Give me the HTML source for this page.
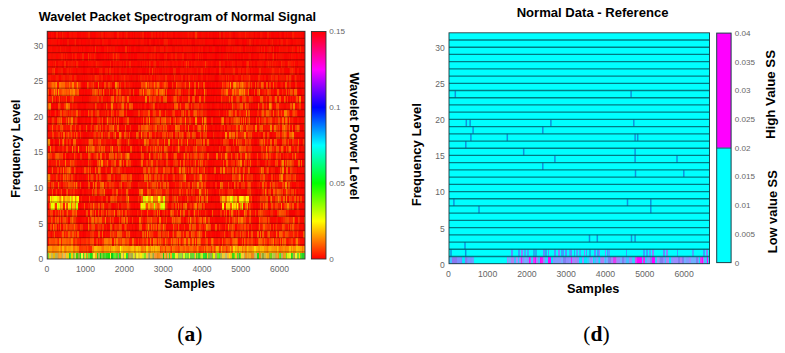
<!DOCTYPE html>
<html><head><meta charset="utf-8"><style>
html,body{margin:0;padding:0;background:#fff;width:785px;height:353px;overflow:hidden;position:relative}
#L{position:absolute;left:47.2px;top:31.3px;width:258px;height:227.70px;overflow:hidden;filter:blur(.55px)}
.r{position:absolute;left:0;width:258px;height:7.916px}
.q{position:absolute;left:449.0px;width:260px;height:8.016px}
#rb{position:absolute;left:449.0px;top:32.8px;width:260.5px;height:230.90px;background:#00ffff}
svg{position:absolute;left:0;top:0}
text{font-family:"Liberation Sans",sans-serif}
.cap{font-family:"Liberation Serif",serif}
</style></head><body>
<div id="rb"></div>
<div id="L"><div class="r" style="top:220.58px;background:linear-gradient(90deg,#c3c450 0.5px,#7ad032 1.5px,#f5ca22 2.5px,#f5ca22 3.5px,#c5b853 4.5px,#c5b853 5.5px,#ecb903 6.5px,#ecb903 7.5px,#b5b251 8.5px,#b5b251 9.5px,#c4aa4b 10.5px,#e9972c 11.5px,#ffa221 12.5px,#ffa221 13.5px,#eaa227 14.5px,#c1b854 15.5px,#ffb63c 16.5px,#ffb63c 17.5px,#c4b96a 18.5px,#fec815 19.5px,#e8d311 20.5px,#e8d311 21.5px,#28cd2a 22.5px,#3aed38 23.5px,#f5cf05 24.5px,#f5cf05 25.5px,#7fce2d 26.5px,#b5b75b 27.5px,#d8e637 28.5px,#41d00d 29.5px,#41d00d 30.5px,#9ab237 31.5px,#9ab237 32.5px,#1fe419 33.5px,#f3f53c 34.5px,#f3f53c 35.5px,#41df27 36.5px,#ecb130 37.5px,#ddec1b 38.5px,#6dd732 39.5px,#e9a70b 40.5px,#73e22e 41.5px,#73e22e 42.5px,#15e318 43.5px,#15e318 44.5px,#63d21a 45.5px,#f2f334 46.5px,#f2f334 47.5px,#faaf14 48.5px,#faaf14 49.5px,#2dda0d 50.5px,#b1b846 51.5px,#b1b846 52.5px,#0fd016 53.5px,#76d632 54.5px,#76d632 55.5px,#45cf11 56.5px,#4ad231 57.5px,#4fde32 58.5px,#30d719 59.5px,#30d719 60.5px,#1be10c 61.5px,#1be10c 62.5px,#f9fa22 63.5px,#0dcf13 64.5px,#0dcf13 65.5px,#35eb3e 66.5px,#68ee24 67.5px,#68ee24 68.5px,#51d822 69.5px,#51d822 70.5px,#b2a053 71.5px,#1aee21 72.5px,#4ecf10 73.5px,#f6e23a 74.5px,#f6e23a 75.5px,#b4b45a 76.5px,#edfd05 77.5px,#edfd05 78.5px,#26e42e 79.5px,#26e42e 80.5px,#ab9036 81.5px,#bfb046 82.5px,#bfb046 83.5px,#a9ac4e 84.5px,#a9ac4e 85.5px,#d0f11b 86.5px,#e8c62f 87.5px,#ada63c 88.5px,#efe61c 89.5px,#eff728 90.5px,#ecd02b 91.5px,#ecd02b 92.5px,#fee70c 93.5px,#fee70c 94.5px,#caf420 95.5px,#c4f11c 96.5px,#80e621 97.5px,#80e621 98.5px,#f4c435 99.5px,#f4c435 100.5px,#beac5d 101.5px,#9cb058 102.5px,#eebd2b 103.5px,#eebd2b 104.5px,#c1b03c 105.5px,#95a942 106.5px,#ee9e3a 107.5px,#fb942c 108.5px,#fb942c 109.5px,#eb8d0b 110.5px,#f58c17 111.5px,#fd8f1a 112.5px,#e7a637 113.5px,#e8af33 114.5px,#e8af33 115.5px,#15cd1c 116.5px,#e7b734 117.5px,#e7b734 118.5px,#eb9302 119.5px,#b3c166 120.5px,#fcb228 121.5px,#43da25 122.5px,#fcae10 123.5px,#fcae10 124.5px,#38e941 125.5px,#34eb1f 126.5px,#4af00e 127.5px,#f2e635 128.5px,#f2e635 129.5px,#f5e70e 130.5px,#aab94a 131.5px,#93e137 132.5px,#93e137 133.5px,#8fe436 134.5px,#a4af4d 135.5px,#e4f91d 136.5px,#e4f91d 137.5px,#6ed62a 138.5px,#82ee34 139.5px,#77e02d 140.5px,#77e02d 141.5px,#f1fa21 142.5px,#6fd330 143.5px,#6fd330 144.5px,#5ce331 145.5px,#5ce331 146.5px,#aeb459 147.5px,#fdd811 148.5px,#57cf1a 149.5px,#8edb32 150.5px,#3fd625 151.5px,#3fd625 152.5px,#8dee18 153.5px,#caeb25 154.5px,#caeb25 155.5px,#27eb2a 156.5px,#27eb2a 157.5px,#39ce2e 158.5px,#39ce2e 159.5px,#efd117 160.5px,#7acf2d 161.5px,#7acf2d 162.5px,#97ab55 163.5px,#97ab55 164.5px,#7edb0e 165.5px,#eaf509 166.5px,#eaf509 167.5px,#b5a75a 168.5px,#b5a75a 169.5px,#79eb0d 170.5px,#79eb0d 171.5px,#47ec39 172.5px,#a9bf44 173.5px,#aeb750 174.5px,#f5d022 175.5px,#efca38 176.5px,#efca38 177.5px,#bebe67 178.5px,#b8c367 179.5px,#f5b839 180.5px,#f5b839 181.5px,#fde703 182.5px,#f5cc0a 183.5px,#e9c60b 184.5px,#3ed51b 185.5px,#3ed51b 186.5px,#75e60e 187.5px,#f6c81d 188.5px,#f6c81d 189.5px,#4dee1b 190.5px,#b0aa3e 191.5px,#2fd322 192.5px,#62ed0d 193.5px,#f5d22c 194.5px,#f6cd30 195.5px,#f6cd30 196.5px,#bab04e 197.5px,#f28f17 198.5px,#f28f17 199.5px,#e7b520 200.5px,#e6a02a 201.5px,#f3b118 202.5px,#f3b118 203.5px,#f0831c 204.5px,#f0831c 205.5px,#f68918 206.5px,#b8be51 207.5px,#c8bf6b 208.5px,#c8bf6b 209.5px,#1ade16 210.5px,#1ade16 211.5px,#e98e15 212.5px,#e98e15 213.5px,#c1c456 214.5px,#91a937 215.5px,#91a937 216.5px,#cab949 217.5px,#cab949 218.5px,#fbbd27 219.5px,#f1b609 220.5px,#f1b609 221.5px,#a99a43 222.5px,#76d90e 223.5px,#72ce19 224.5px,#c0c55a 225.5px,#b1ca41 226.5px,#b1ca41 227.5px,#c9a83f 228.5px,#e89d34 229.5px,#fda229 230.5px,#f29102 231.5px,#62ea26 232.5px,#45ec19 233.5px,#c3ab61 234.5px,#c3ab61 235.5px,#ea9f0c 236.5px,#eaa519 237.5px,#eaa519 238.5px,#76e90f 239.5px,#deef16 240.5px,#deef16 241.5px,#e9f624 242.5px,#e9f624 243.5px,#21db24 244.5px,#3fe319 245.5px,#bfa941 246.5px,#9dab45 247.5px,#f9f12e 248.5px,#f9f12e 249.5px,#76e029 250.5px,#76e029 251.5px,#ffdb03 252.5px,#55ea0c 253.5px,#4ad430 254.5px,#25d523 255.5px,#25d523 256.5px,#4ae827 257.5px)"></div><div class="r" style="top:213.47px;background:linear-gradient(90deg,#ff9000 0.5px,#ff9000 1.5px,#ff9400 2.5px,#ff9600 3.5px,#ff9600 4.5px,#ff7b00 5.5px,#ff7b00 6.5px,#ff8400 7.5px,#ff8400 8.5px,#ff8500 9.5px,#ff8b00 10.5px,#ff8b00 11.5px,#ffad00 12.5px,#ff8d00 13.5px,#ff7100 14.5px,#ffb500 15.5px,#ffb500 16.5px,#ff8400 17.5px,#ff7600 18.5px,#ff9100 19.5px,#ffa500 20.5px,#ff9500 21.5px,#ff9500 22.5px,#ff9a00 23.5px,#fa0 24.5px,#fa0 25.5px,#ff7200 26.5px,#ff7200 27.5px,#ff8e00 28.5px,#ff9300 29.5px,#ff7d00 30.5px,#ff7d00 31.5px,#ff3a00 32.5px,#ff3500 33.5px,#ff3b00 34.5px,#ff3b00 35.5px,#ff4300 36.5px,#ff4300 37.5px,#ff4300 38.5px,#ff3100 39.5px,#ff5000 40.5px,#ff3400 41.5px,#ff2600 42.5px,#ff2900 43.5px,#ff2900 44.5px,#ff8200 45.5px,#ff8200 46.5px,#ffb700 47.5px,#ffb700 48.5px,#ffb800 49.5px,#ffa900 50.5px,#ffa100 51.5px,#ffa100 52.5px,#ff9f00 53.5px,#ff8900 54.5px,#f70 55.5px,#f70 56.5px,#ff9b00 57.5px,#ff9b00 58.5px,#ff9500 59.5px,#ff9500 60.5px,#ff9100 61.5px,#ffa800 62.5px,#ff7e00 63.5px,#ffab00 64.5px,#ffa700 65.5px,#ffb900 66.5px,#ffb900 67.5px,#ff9f00 68.5px,#ff9b00 69.5px,#ff9000 70.5px,#ff8f00 71.5px,#ff8f00 72.5px,#fffc00 73.5px,#ffc100 74.5px,#ffc100 75.5px,#ffa300 76.5px,#ffab00 77.5px,#ffab00 78.5px,#ffa700 79.5px,#ffa700 80.5px,#ff9a00 81.5px,#ff9a00 82.5px,#ffa800 83.5px,#fb0 84.5px,#ffbf00 85.5px,#ffbf00 86.5px,#ff9400 87.5px,#ff9d00 88.5px,#ffc400 89.5px,#ffc400 90.5px,#ffa400 91.5px,#fb0 92.5px,#ffa800 93.5px,#ff7600 94.5px,#ff7600 95.5px,#ff8200 96.5px,#ff8e00 97.5px,#ff7200 98.5px,#ffc500 99.5px,#ffc500 100.5px,#ff9400 101.5px,#ff8900 102.5px,#ff8900 103.5px,#ffbc00 104.5px,#ffa200 105.5px,#ffb800 106.5px,#ff9300 107.5px,#ffb700 108.5px,#ffb700 109.5px,#ffa700 110.5px,#ffa500 111.5px,#ffa500 112.5px,#ff4200 113.5px,#ff5f00 114.5px,#ff5d00 115.5px,#ff7100 116.5px,#ff7100 117.5px,#ff3500 118.5px,#ff7500 119.5px,#ff7500 120.5px,#ff7000 121.5px,#ff7000 122.5px,#ff5000 123.5px,#ff2f00 124.5px,#ff7800 125.5px,#ff6800 126.5px,#ff6800 127.5px,#ff5200 128.5px,#ff5100 129.5px,#ff5100 130.5px,#ff3800 131.5px,#ff4600 132.5px,#ff7100 133.5px,#ff6d00 134.5px,#ff6800 135.5px,#ff5600 136.5px,#ff5600 137.5px,#ff7300 138.5px,#ff5900 139.5px,#ff5900 140.5px,#ff4d00 141.5px,#ff6b00 142.5px,#ff6b00 143.5px,#ff7100 144.5px,#ff7100 145.5px,#ff5600 146.5px,#ff4d00 147.5px,#ff4d00 148.5px,#ff5800 149.5px,#ff8500 150.5px,#ff6100 151.5px,#ff3600 152.5px,#ff3600 153.5px,#ff4100 154.5px,#ff4700 155.5px,#ff3700 156.5px,#ff6f00 157.5px,#ff3700 158.5px,#ff6d00 159.5px,#ff7400 160.5px,#ff5b00 161.5px,#ff5b00 162.5px,#ff5d00 163.5px,#ff2f00 164.5px,#ff6e00 165.5px,#ff6e00 166.5px,#ff3f00 167.5px,#ff6100 168.5px,#ffa500 169.5px,#ffa500 170.5px,#ff9600 171.5px,#ff3f00 172.5px,#ff4100 173.5px,#ff9e00 174.5px,#ff5a00 175.5px,#ff5a00 176.5px,#ff6700 177.5px,#ff6700 178.5px,#ff3500 179.5px,#ff5100 180.5px,#ff6500 181.5px,#ff6500 182.5px,#ffa600 183.5px,#ff6b00 184.5px,#ff6b00 185.5px,#ffd500 186.5px,#ffd500 187.5px,#ffa100 188.5px,#ffb800 189.5px,#ff9a00 190.5px,#ff8a00 191.5px,#ffb900 192.5px,#ffa700 193.5px,#ffb400 194.5px,#ff7300 195.5px,#ff9700 196.5px,#ff9700 197.5px,#ff7200 198.5px,#ff8000 199.5px,#ffb900 200.5px,#ff9d00 201.5px,#ff9000 202.5px,#ff9000 203.5px,#ff9200 204.5px,#ffa300 205.5px,#ffa300 206.5px,#ffda00 207.5px,#ffda00 208.5px,#ffb000 209.5px,#ffb000 210.5px,#ff9d00 211.5px,#ff9d00 212.5px,#ffba00 213.5px,#ffb200 214.5px,#ffb800 215.5px,#ffb800 216.5px,#ff9600 217.5px,#ff9600 218.5px,#ff8e00 219.5px,#ff7a00 220.5px,#ff9e00 221.5px,#ffaf00 222.5px,#ffaf00 223.5px,#ffa100 224.5px,#ff9800 225.5px,#ff9800 226.5px,#ff9100 227.5px,#ff9100 228.5px,#ff8400 229.5px,#ffbc00 230.5px,#ff9c00 231.5px,#ff7500 232.5px,#ff7500 233.5px,#ff8200 234.5px,#ff8200 235.5px,#ff9100 236.5px,#ff9100 237.5px,#ff7b00 238.5px,#ff8400 239.5px,#ff8400 240.5px,#ff8700 241.5px,#ffbc00 242.5px,#ffbc00 243.5px,#ff8600 244.5px,#ffac00 245.5px,#f80 246.5px,#ff9000 247.5px,#ff9000 248.5px,#ffbe00 249.5px,#ffbe00 250.5px,#ffb000 251.5px,#ffb000 252.5px,#ffa000 253.5px,#ffa000 254.5px,#ff7300 255.5px,#ff9500 256.5px,#ff9500 257.5px)"></div><div class="r" style="top:206.35px;background:linear-gradient(90deg,#ff1200 0.5px,#ff1200 1.5px,#ff5100 2.5px,#ff5100 3.5px,#ff4900 4.5px,#ff4900 5.5px,#ff4600 6.5px,#ff4600 7.5px,#ff5800 8.5px,#ff5800 9.5px,#ff3e00 10.5px,#ff2500 11.5px,#ff7800 12.5px,#f70 13.5px,#ff1b00 14.5px,#ff6500 15.5px,#ff6500 16.5px,#ff6400 17.5px,#ff6400 18.5px,#ff5700 19.5px,#ff5700 20.5px,#ff6200 21.5px,#ff4e00 22.5px,#ff4e00 23.5px,#ff7f00 24.5px,#ff7f00 25.5px,#ff3200 26.5px,#ff2500 27.5px,#f40 28.5px,#f40 29.5px,#ff2700 30.5px,#ff2400 31.5px,#ff2400 32.5px,#ff0f00 33.5px,#ff2a00 34.5px,#ff2a00 35.5px,#ff2b00 36.5px,#ff2500 37.5px,#ff2500 38.5px,#ff3900 39.5px,#ff3900 40.5px,#ff2700 41.5px,#ff2700 42.5px,#ff4d00 43.5px,#ff4d00 44.5px,#ff5600 45.5px,#ff5700 46.5px,#ff0b00 47.5px,#ff0b00 48.5px,#ff3700 49.5px,#ff4100 50.5px,#ff0b00 51.5px,#ff2f00 52.5px,#ff1700 53.5px,#ff1700 54.5px,#ff3800 55.5px,#ff3800 56.5px,#f70 57.5px,#f70 58.5px,#ff7c00 59.5px,#ff7c00 60.5px,#ff6400 61.5px,#ff6400 62.5px,#ff7500 63.5px,#ff7500 64.5px,#ff0b00 65.5px,#ff0b00 66.5px,#ff7d00 67.5px,#ff4700 68.5px,#ff7c00 69.5px,#ff7c00 70.5px,#ff3f00 71.5px,#ff3f00 72.5px,#ff5000 73.5px,#ff3800 74.5px,#ff7100 75.5px,#ff6e00 76.5px,#ff6800 77.5px,#f40 78.5px,#f40 79.5px,#ff5100 80.5px,#ff5100 81.5px,#ff1d00 82.5px,#f10 83.5px,#f10 84.5px,#ff6a00 85.5px,#ff6a00 86.5px,#f20 87.5px,#f20 88.5px,#ff0d00 89.5px,#ff0d00 90.5px,#ff3a00 91.5px,#ff0c00 92.5px,#f20 93.5px,#f20 94.5px,#ff3e00 95.5px,#ff4900 96.5px,#ff2600 97.5px,#ff2600 98.5px,#ff4a00 99.5px,#f60 100.5px,#ff1400 101.5px,#ff1400 102.5px,#ff7800 103.5px,#ff2e00 104.5px,#ff0e00 105.5px,#ff7b00 106.5px,#ff6700 107.5px,#ff6700 108.5px,#ff5b00 109.5px,#ff1f00 110.5px,#f60 111.5px,#ff4600 112.5px,#f60 113.5px,#ff3d00 114.5px,#ff3d00 115.5px,#ff1700 116.5px,#ff1700 117.5px,#ff7100 118.5px,#ff3c00 119.5px,#ff3c00 120.5px,#ff1900 121.5px,#ff1900 122.5px,#ff2400 123.5px,#ff6d00 124.5px,#ff3000 125.5px,#ff6100 126.5px,#ff6300 127.5px,#ff6500 128.5px,#f40 129.5px,#ff6000 130.5px,#ff0e00 131.5px,#ff6c00 132.5px,#ff4900 133.5px,#ff1300 134.5px,#ff3400 135.5px,#ff4300 136.5px,#ff7f00 137.5px,#ff7f00 138.5px,#ff2a00 139.5px,#ff2a00 140.5px,#ff7c00 141.5px,#ff7c00 142.5px,#ff2b00 143.5px,#ff2b00 144.5px,#ff7a00 145.5px,#ff6a00 146.5px,#ff1300 147.5px,#f70 148.5px,#ff1300 149.5px,#ff7100 150.5px,#ff7100 151.5px,#ff7900 152.5px,#ff5b00 153.5px,#ff1900 154.5px,#ff1900 155.5px,#ff1d00 156.5px,#ff1d00 157.5px,#ff3600 158.5px,#ff5000 159.5px,#ff5000 160.5px,#ff0a00 161.5px,#ff1700 162.5px,#ff1700 163.5px,#ff6700 164.5px,#ff7c00 165.5px,#f40 166.5px,#ff1c00 167.5px,#ff1c00 168.5px,#ff1800 169.5px,#ff1800 170.5px,#ff2a00 171.5px,#ff2a00 172.5px,#ff0b00 173.5px,#ff0b00 174.5px,#ff5b00 175.5px,#ff1300 176.5px,#ff2500 177.5px,#ff3200 178.5px,#ff4e00 179.5px,#ff4e00 180.5px,#ff4100 181.5px,#ff4100 182.5px,#ff1b00 183.5px,#ff1f00 184.5px,#ff5400 185.5px,#f60 186.5px,#f60 187.5px,#ff7300 188.5px,#ff7300 189.5px,#f50 190.5px,#ff0c00 191.5px,#ff0c00 192.5px,#ff1600 193.5px,#ff1600 194.5px,#ff5300 195.5px,#ff0a00 196.5px,#f60 197.5px,#ff3600 198.5px,#ff1c00 199.5px,#ff4800 200.5px,#ff4a00 201.5px,#ff2e00 202.5px,#ff2e00 203.5px,#ff4600 204.5px,#ff4600 205.5px,#ff1f00 206.5px,#ff1f00 207.5px,#ff0900 208.5px,#ff1900 209.5px,#ff1900 210.5px,#ff5a00 211.5px,#ff7200 212.5px,#ff6500 213.5px,#ff6500 214.5px,#ff4800 215.5px,#ff2d00 216.5px,#ff6100 217.5px,#ff3800 218.5px,#ff3800 219.5px,#ff1d00 220.5px,#ff1d00 221.5px,#ff4500 222.5px,#ff3900 223.5px,#ff5200 224.5px,#ff5400 225.5px,#ff7e00 226.5px,#ff0d00 227.5px,#ff4100 228.5px,#ff4100 229.5px,#ff3600 230.5px,#ff3600 231.5px,#ff0c00 232.5px,#ff6000 233.5px,#f10 234.5px,#ff6b00 235.5px,#ff4800 236.5px,#f60 237.5px,#f60 238.5px,#ff1a00 239.5px,#ff0e00 240.5px,#ff1800 241.5px,#ff2800 242.5px,#ff2800 243.5px,#ff4500 244.5px,#ff4500 245.5px,#ff1400 246.5px,#ff1400 247.5px,#ff3a00 248.5px,#ff7d00 249.5px,#ff7d00 250.5px,#ff2500 251.5px,#ff2500 252.5px,#f10 253.5px,#f10 254.5px,#ff0f00 255.5px,#ff0c00 256.5px,#ff0c00 257.5px)"></div><div class="r" style="top:199.24px;background:linear-gradient(90deg,#fd0300 0.5px,#fb1c00 1.5px,#fb1c00 2.5px,#f91400 3.5px,#fb0300 4.5px,#f51b00 5.5px,#f51b00 6.5px,#f85100 7.5px,#f80b00 8.5px,#fb1400 9.5px,#f50e00 10.5px,#f81100 11.5px,#fd1400 12.5px,#fd1400 13.5px,#fe1f00 14.5px,#f95f00 15.5px,#f95f00 16.5px,#fa1800 17.5px,#fd3900 18.5px,#fd2300 19.5px,#fd2300 20.5px,#f95d00 21.5px,#f95d00 22.5px,#f93700 23.5px,#fe2c00 24.5px,#f75b00 25.5px,#f75b00 26.5px,#fe2b00 27.5px,#f84200 28.5px,#fc1300 29.5px,#fc5700 30.5px,#fc5700 31.5px,#fc0b00 32.5px,#fa0200 33.5px,#fa0a00 34.5px,#ff0100 35.5px,#f50100 36.5px,#f80400 37.5px,#f80400 38.5px,#ff0b00 39.5px,#f91000 40.5px,#f70f00 41.5px,#f70f00 42.5px,#f62e00 43.5px,#f62e00 44.5px,#fb3700 45.5px,#fb3700 46.5px,#fb0f00 47.5px,#fb0f00 48.5px,#fb0700 49.5px,#fb0700 50.5px,#f65700 51.5px,#f65700 52.5px,#fd0800 53.5px,#fd0800 54.5px,#fa5f00 55.5px,#fc0500 56.5px,#fc0500 57.5px,#f51900 58.5px,#fc0c00 59.5px,#fc0c00 60.5px,#f90f00 61.5px,#f90f00 62.5px,#f75100 63.5px,#f93100 64.5px,#f93100 65.5px,#f84800 66.5px,#fb2800 67.5px,#fb2800 68.5px,#f91300 69.5px,#f96200 70.5px,#f75e00 71.5px,#f75e00 72.5px,#f95300 73.5px,#f95300 74.5px,#f61900 75.5px,#f61900 76.5px,#fa0d00 77.5px,#fa0d00 78.5px,#fc4f00 79.5px,#f93b00 80.5px,#f93b00 81.5px,#fb5400 82.5px,#fc0b00 83.5px,#f80900 84.5px,#f80900 85.5px,#f80400 86.5px,#f80a00 87.5px,#f70400 88.5px,#fc0a00 89.5px,#fa0e00 90.5px,#f51100 91.5px,#f91000 92.5px,#f60400 93.5px,#f60400 94.5px,#f65100 95.5px,#f65800 96.5px,#f72400 97.5px,#f65d00 98.5px,#fb0a00 99.5px,#f77e00 100.5px,#f71500 101.5px,#f65700 102.5px,#fc3900 103.5px,#fb3600 104.5px,#fb3600 105.5px,#fe1900 106.5px,#fe0b00 107.5px,#fe0b00 108.5px,#fc0800 109.5px,#f91800 110.5px,#f94800 111.5px,#f94800 112.5px,#f85200 113.5px,#f61000 114.5px,#f73600 115.5px,#f73b00 116.5px,#f73b00 117.5px,#f62700 118.5px,#fc3100 119.5px,#fb2900 120.5px,#fc5600 121.5px,#fd0300 122.5px,#fe0700 123.5px,#fd0100 124.5px,#f72a00 125.5px,#f55a00 126.5px,#f71500 127.5px,#f71500 128.5px,#f63800 129.5px,#fe6100 130.5px,#fe6100 131.5px,#fd5900 132.5px,#fd5900 133.5px,#f61d00 134.5px,#f61d00 135.5px,#fe4800 136.5px,#fd0c00 137.5px,#fd0c00 138.5px,#f85800 139.5px,#ff4b00 140.5px,#ff4b00 141.5px,#f70a00 142.5px,#f70a00 143.5px,#f76200 144.5px,#f94b00 145.5px,#f94b00 146.5px,#fd3900 147.5px,#fb1900 148.5px,#fb1900 149.5px,#fc4700 150.5px,#f64d00 151.5px,#fc7400 152.5px,#fc4300 153.5px,#fc4300 154.5px,#f91200 155.5px,#f80100 156.5px,#f80100 157.5px,#fa5f00 158.5px,#f71100 159.5px,#f71100 160.5px,#fe0100 161.5px,#fe0100 162.5px,#f80d00 163.5px,#f80d00 164.5px,#fd0300 165.5px,#fd0300 166.5px,#f50400 167.5px,#f80a00 168.5px,#f70200 169.5px,#f70200 170.5px,#fe0200 171.5px,#fe0200 172.5px,#f81400 173.5px,#f81400 174.5px,#f91800 175.5px,#f80f00 176.5px,#f84700 177.5px,#fc1600 178.5px,#f70500 179.5px,#f70500 180.5px,#f81500 181.5px,#f61500 182.5px,#f61500 183.5px,#fe5000 184.5px,#fe5000 185.5px,#fb3c00 186.5px,#f70400 187.5px,#fd1800 188.5px,#f53300 189.5px,#f53300 190.5px,#f81d00 191.5px,#f81d00 192.5px,#f64f00 193.5px,#fa0f00 194.5px,#fa4000 195.5px,#fa4000 196.5px,#fd3000 197.5px,#f73000 198.5px,#f60900 199.5px,#f60900 200.5px,#ff5d00 201.5px,#fa0200 202.5px,#f71200 203.5px,#fa5200 204.5px,#fa5200 205.5px,#f70b00 206.5px,#f70b00 207.5px,#fc0b00 208.5px,#fc0a00 209.5px,#f86300 210.5px,#f86300 211.5px,#fc0100 212.5px,#f67600 213.5px,#f60400 214.5px,#f75f00 215.5px,#f75f00 216.5px,#f91700 217.5px,#f50c00 218.5px,#f50c00 219.5px,#fb3700 220.5px,#f95d00 221.5px,#f95d00 222.5px,#fb0e00 223.5px,#f71b00 224.5px,#f71b00 225.5px,#f61300 226.5px,#f90700 227.5px,#f90700 228.5px,#fd6400 229.5px,#fd2000 230.5px,#f60900 231.5px,#f66600 232.5px,#fe5e00 233.5px,#fe5e00 234.5px,#fd4b00 235.5px,#fc2200 236.5px,#fc2200 237.5px,#fc5100 238.5px,#f64d00 239.5px,#f64d00 240.5px,#fd3600 241.5px,#f52600 242.5px,#fb1e00 243.5px,#fb1e00 244.5px,#fd1d00 245.5px,#f84a00 246.5px,#f92800 247.5px,#f81700 248.5px,#f81700 249.5px,#fd3a00 250.5px,#fa1500 251.5px,#f50700 252.5px,#fe0800 253.5px,#fb0900 254.5px,#fb0900 255.5px,#ff5300 256.5px,#f96f00 257.5px)"></div><div class="r" style="top:192.12px;background:linear-gradient(90deg,#fb6200 0.5px,#fc0300 1.5px,#fc0300 2.5px,#ff4300 3.5px,#ff4300 4.5px,#f90800 5.5px,#fd7400 6.5px,#f83800 7.5px,#fc4900 8.5px,#fc4900 9.5px,#f70200 10.5px,#ff2b00 11.5px,#f60b00 12.5px,#f55e00 13.5px,#fe0800 14.5px,#f50700 15.5px,#fe4300 16.5px,#fe4300 17.5px,#f83100 18.5px,#fe6300 19.5px,#f84300 20.5px,#f92600 21.5px,#f74000 22.5px,#fc4100 23.5px,#fc4100 24.5px,#f93900 25.5px,#f93900 26.5px,#f76a00 27.5px,#ff3500 28.5px,#ff3500 29.5px,#f62300 30.5px,#fa0e00 31.5px,#f90f00 32.5px,#fc3d00 33.5px,#f93200 34.5px,#f93200 35.5px,#f80800 36.5px,#f80800 37.5px,#f50d00 38.5px,#f50d00 39.5px,#fb0400 40.5px,#f57300 41.5px,#f62c00 42.5px,#fa1600 43.5px,#fa3a00 44.5px,#f74f00 45.5px,#f74f00 46.5px,#f54f00 47.5px,#f80e00 48.5px,#f80e00 49.5px,#f61e00 50.5px,#fc3b00 51.5px,#f82f00 52.5px,#f82f00 53.5px,#fa1300 54.5px,#f73e00 55.5px,#f73e00 56.5px,#f60b00 57.5px,#f60b00 58.5px,#ff1500 59.5px,#f50500 60.5px,#f50600 61.5px,#f50600 62.5px,#f65800 63.5px,#f65800 64.5px,#f51d00 65.5px,#f80200 66.5px,#f62600 67.5px,#fa3700 68.5px,#fc2c00 69.5px,#f62500 70.5px,#f62500 71.5px,#fb4e00 72.5px,#fb4e00 73.5px,#fc4000 74.5px,#fc0100 75.5px,#fc0100 76.5px,#ff2e00 77.5px,#fc4f00 78.5px,#f83600 79.5px,#f70e00 80.5px,#fa1500 81.5px,#f70d00 82.5px,#fd0f00 83.5px,#fd0f00 84.5px,#f50500 85.5px,#fe0d00 86.5px,#fe0d00 87.5px,#f50400 88.5px,#f50400 89.5px,#f50e00 90.5px,#f80f00 91.5px,#fc5800 92.5px,#fc5800 93.5px,#fe5400 94.5px,#fa0900 95.5px,#fa0900 96.5px,#fd0300 97.5px,#ff1500 98.5px,#fd3e00 99.5px,#fd3e00 100.5px,#f88b00 101.5px,#f63a00 102.5px,#fb1800 103.5px,#f66a00 104.5px,#fa2a00 105.5px,#fe5600 106.5px,#fd3900 107.5px,#fd3900 108.5px,#fe5e00 109.5px,#fa0700 110.5px,#fb5d00 111.5px,#fb5d00 112.5px,#f64600 113.5px,#ff2300 114.5px,#ff2300 115.5px,#f67f00 116.5px,#f63d00 117.5px,#f63d00 118.5px,#fd0400 119.5px,#fd0400 120.5px,#f90a00 121.5px,#f90a00 122.5px,#f70b00 123.5px,#fd0900 124.5px,#fd0900 125.5px,#f85b00 126.5px,#ff1e00 127.5px,#f62300 128.5px,#f62300 129.5px,#fd0200 130.5px,#f75700 131.5px,#fc1800 132.5px,#fe0200 133.5px,#f91100 134.5px,#f91100 135.5px,#fd0b00 136.5px,#fb3600 137.5px,#fa0600 138.5px,#fa0600 139.5px,#fa0900 140.5px,#fa0900 141.5px,#f96100 142.5px,#f96100 143.5px,#fb1a00 144.5px,#f85100 145.5px,#f85100 146.5px,#f55100 147.5px,#f55100 148.5px,#fb0a00 149.5px,#f70d00 150.5px,#fd1400 151.5px,#fe4600 152.5px,#fe4600 153.5px,#fd2300 154.5px,#fd2300 155.5px,#f80900 156.5px,#fd2600 157.5px,#fd2600 158.5px,#f68800 159.5px,#f77500 160.5px,#fb5400 161.5px,#fb5400 162.5px,#f64a00 163.5px,#f60300 164.5px,#f50700 165.5px,#f50700 166.5px,#fb0900 167.5px,#fb5600 168.5px,#fb5600 169.5px,#f60700 170.5px,#f60700 171.5px,#fc3b00 172.5px,#fd1900 173.5px,#f91500 174.5px,#f90900 175.5px,#f90900 176.5px,#fb0000 177.5px,#fe2d00 178.5px,#fd0e00 179.5px,#fd0e00 180.5px,#f97c00 181.5px,#fe2a00 182.5px,#f53900 183.5px,#f53900 184.5px,#fe6000 185.5px,#fe4100 186.5px,#fe4100 187.5px,#fd0100 188.5px,#fd0100 189.5px,#fb2a00 190.5px,#fd2700 191.5px,#fd2700 192.5px,#fd3500 193.5px,#f84200 194.5px,#f84200 195.5px,#f62500 196.5px,#ff4c00 197.5px,#ff4c00 198.5px,#fc1700 199.5px,#fa3300 200.5px,#fa4100 201.5px,#f80b00 202.5px,#fb0400 203.5px,#f62e00 204.5px,#fc0e00 205.5px,#fc0d00 206.5px,#fc0d00 207.5px,#fb0b00 208.5px,#f60800 209.5px,#f60800 210.5px,#fc1d00 211.5px,#fc5e00 212.5px,#f51a00 213.5px,#f51a00 214.5px,#fb2a00 215.5px,#fb6500 216.5px,#fb6500 217.5px,#fc3a00 218.5px,#fc3a00 219.5px,#fc2c00 220.5px,#f62c00 221.5px,#f62c00 222.5px,#fb4800 223.5px,#f60700 224.5px,#f60700 225.5px,#f94100 226.5px,#ff0200 227.5px,#f82700 228.5px,#fc4000 229.5px,#f91700 230.5px,#fc1900 231.5px,#f71900 232.5px,#f61600 233.5px,#f61600 234.5px,#ff5100 235.5px,#ff5100 236.5px,#fd3e00 237.5px,#f61e00 238.5px,#f91300 239.5px,#f91300 240.5px,#f64100 241.5px,#fc0100 242.5px,#f85100 243.5px,#f62d00 244.5px,#fc5c00 245.5px,#fc5c00 246.5px,#f82700 247.5px,#fb1b00 248.5px,#fb1b00 249.5px,#f82900 250.5px,#f82900 251.5px,#f90a00 252.5px,#f90a00 253.5px,#fc0b00 254.5px,#fc0b00 255.5px,#f80500 256.5px,#fc0e00 257.5px)"></div><div class="r" style="top:185.01px;background:linear-gradient(90deg,#fd4e00 0.5px,#f81600 1.5px,#f81600 2.5px,#fe1400 3.5px,#fa5200 4.5px,#f93800 5.5px,#f81600 6.5px,#f81600 7.5px,#f95c00 8.5px,#fa3300 9.5px,#fc5600 10.5px,#fc5600 11.5px,#f71300 12.5px,#fd5200 13.5px,#f50a00 14.5px,#f93100 15.5px,#f94d00 16.5px,#f94d00 17.5px,#f85700 18.5px,#fb2d00 19.5px,#fb2d00 20.5px,#f70300 21.5px,#f70300 22.5px,#f54e00 23.5px,#f54e00 24.5px,#f97200 25.5px,#f74500 26.5px,#f63300 27.5px,#f63300 28.5px,#f61200 29.5px,#f90800 30.5px,#f70400 31.5px,#f90100 32.5px,#f90100 33.5px,#f70700 34.5px,#fc0800 35.5px,#fc0800 36.5px,#fd0f00 37.5px,#fd0f00 38.5px,#f60500 39.5px,#f60500 40.5px,#f65e00 41.5px,#f81600 42.5px,#f81600 43.5px,#f95c00 44.5px,#f57000 45.5px,#f57000 46.5px,#fc2500 47.5px,#fb6200 48.5px,#fc6100 49.5px,#fd4100 50.5px,#fd4100 51.5px,#fa6100 52.5px,#fa6100 53.5px,#f96000 54.5px,#fd1700 55.5px,#fd1700 56.5px,#f61b00 57.5px,#f77e00 58.5px,#f90e00 59.5px,#f90e00 60.5px,#f81a00 61.5px,#f81a00 62.5px,#f85400 63.5px,#fc0d00 64.5px,#fe3100 65.5px,#fe3100 66.5px,#fb0500 67.5px,#fb0500 68.5px,#fe0100 69.5px,#f90300 70.5px,#f80500 71.5px,#fc4700 72.5px,#f70600 73.5px,#f94000 74.5px,#fd5100 75.5px,#fd5100 76.5px,#f87300 77.5px,#fb1500 78.5px,#f95c00 79.5px,#f95c00 80.5px,#fa0800 81.5px,#f51a00 82.5px,#f80300 83.5px,#f80300 84.5px,#fc3b00 85.5px,#f80a00 86.5px,#f80a00 87.5px,#fc0200 88.5px,#fb0a00 89.5px,#fa0700 90.5px,#fa0700 91.5px,#fb7200 92.5px,#fb7200 93.5px,#f92400 94.5px,#f92400 95.5px,#fb0b00 96.5px,#fb0700 97.5px,#fe1800 98.5px,#fe1800 99.5px,#f54f00 100.5px,#f54f00 101.5px,#fb4300 102.5px,#fb4300 103.5px,#f96200 104.5px,#fe2900 105.5px,#fe2900 106.5px,#fd3000 107.5px,#fd3000 108.5px,#fa3700 109.5px,#f60800 110.5px,#f60800 111.5px,#fb7a00 112.5px,#fb7a00 113.5px,#fd0900 114.5px,#fd0900 115.5px,#f72200 116.5px,#f72200 117.5px,#f70e00 118.5px,#f94400 119.5px,#fc0600 120.5px,#fa0d00 121.5px,#fa0d00 122.5px,#f50900 123.5px,#fd1600 124.5px,#fe6400 125.5px,#f74600 126.5px,#fd6400 127.5px,#f53900 128.5px,#fa4900 129.5px,#fa4900 130.5px,#f96100 131.5px,#f96100 132.5px,#fc5800 133.5px,#f80e00 134.5px,#f80e00 135.5px,#fb1800 136.5px,#fa0100 137.5px,#fa0100 138.5px,#fb1d00 139.5px,#fb1d00 140.5px,#f85300 141.5px,#fc1500 142.5px,#f98d00 143.5px,#f53e00 144.5px,#f52a00 145.5px,#f52a00 146.5px,#fa4c00 147.5px,#fa4c00 148.5px,#ff0700 149.5px,#ff1700 150.5px,#fb3300 151.5px,#fa4d00 152.5px,#ff5d00 153.5px,#ff5d00 154.5px,#fe0900 155.5px,#fb5400 156.5px,#fb5400 157.5px,#fc8600 158.5px,#fb1b00 159.5px,#fb1b00 160.5px,#f64d00 161.5px,#f64d00 162.5px,#fc0400 163.5px,#fb0b00 164.5px,#fa0400 165.5px,#f80e00 166.5px,#f80e00 167.5px,#fd0200 168.5px,#f60500 169.5px,#f60500 170.5px,#f60800 171.5px,#f60800 172.5px,#fe0600 173.5px,#fe0600 174.5px,#fd0300 175.5px,#fd0900 176.5px,#fd0900 177.5px,#fb1800 178.5px,#f63900 179.5px,#f60900 180.5px,#f91000 181.5px,#f65200 182.5px,#f90c00 183.5px,#f90c00 184.5px,#f83f00 185.5px,#f93e00 186.5px,#fe6000 187.5px,#f73b00 188.5px,#f73b00 189.5px,#ff1b00 190.5px,#f87e00 191.5px,#fd5c00 192.5px,#fd5c00 193.5px,#fe8100 194.5px,#fe8100 195.5px,#fe4300 196.5px,#fe4300 197.5px,#f64d00 198.5px,#f91700 199.5px,#f91400 200.5px,#f91400 201.5px,#fa4b00 202.5px,#fa4b00 203.5px,#f51000 204.5px,#f51000 205.5px,#fd0500 206.5px,#fd0500 207.5px,#fa0800 208.5px,#fa0200 209.5px,#f60300 210.5px,#f90800 211.5px,#fe6200 212.5px,#ff2f00 213.5px,#fd3100 214.5px,#fa3a00 215.5px,#fd4800 216.5px,#fd4800 217.5px,#fc4900 218.5px,#fc4900 219.5px,#f71300 220.5px,#f84f00 221.5px,#fa2f00 222.5px,#f50c00 223.5px,#f50c00 224.5px,#fc0600 225.5px,#fd0a00 226.5px,#fc0900 227.5px,#fc0900 228.5px,#f71800 229.5px,#f71800 230.5px,#fd0100 231.5px,#f90500 232.5px,#fe0300 233.5px,#f81800 234.5px,#f81800 235.5px,#fe2b00 236.5px,#fe2b00 237.5px,#f64300 238.5px,#f64300 239.5px,#f94b00 240.5px,#f94b00 241.5px,#f62900 242.5px,#f62900 243.5px,#f92b00 244.5px,#f92b00 245.5px,#f97200 246.5px,#f40 247.5px,#ff0300 248.5px,#ff0300 249.5px,#f60b00 250.5px,#fd4200 251.5px,#f82f00 252.5px,#f60e00 253.5px,#f60e00 254.5px,#fd0900 255.5px,#f80800 256.5px,#fc5e00 257.5px)"></div><div class="r" style="top:177.89px;background:linear-gradient(90deg,#f91b00 0.5px,#f91b00 1.5px,#fd1200 2.5px,#fe3d00 3.5px,#fb4000 4.5px,#fb4000 5.5px,#fa0500 6.5px,#fa0500 7.5px,#f53c00 8.5px,#fd1500 9.5px,#fd1500 10.5px,#fa4000 11.5px,#f61c00 12.5px,#fb6100 13.5px,#fa1100 14.5px,#f84600 15.5px,#f84600 16.5px,#f80d00 17.5px,#f80d00 18.5px,#f53000 19.5px,#fd5e00 20.5px,#f91b00 21.5px,#f61a00 22.5px,#ff1c00 23.5px,#ff1c00 24.5px,#fe5e00 25.5px,#fe5e00 26.5px,#fc4300 27.5px,#fc4300 28.5px,#fb6800 29.5px,#f50f00 30.5px,#fd0800 31.5px,#fd0800 32.5px,#fb0500 33.5px,#fb0500 34.5px,#fc0700 35.5px,#fc0700 36.5px,#f70200 37.5px,#f80c00 38.5px,#f74b00 39.5px,#f74b00 40.5px,#fe0300 41.5px,#fe0300 42.5px,#fd6400 43.5px,#fd6400 44.5px,#f73200 45.5px,#f83400 46.5px,#f50300 47.5px,#f75a00 48.5px,#ff0100 49.5px,#ff0100 50.5px,#fa5600 51.5px,#fc1100 52.5px,#fb0100 53.5px,#fe4c00 54.5px,#fa3100 55.5px,#fa3100 56.5px,#f61000 57.5px,#f61000 58.5px,#f65400 59.5px,#f60e00 60.5px,#f93f00 61.5px,#f93f00 62.5px,#fd3d00 63.5px,#fc2800 64.5px,#fe2800 65.5px,#fe2800 66.5px,#fe7800 67.5px,#f80b00 68.5px,#f80100 69.5px,#fc4500 70.5px,#fc4500 71.5px,#fd5d00 72.5px,#fe2500 73.5px,#fe2800 74.5px,#f55700 75.5px,#fa0500 76.5px,#f91600 77.5px,#fd4700 78.5px,#fd4700 79.5px,#fb0d00 80.5px,#fc1c00 81.5px,#fc1c00 82.5px,#f91000 83.5px,#f91000 84.5px,#f80800 85.5px,#fd0800 86.5px,#fd0700 87.5px,#fd0700 88.5px,#f90200 89.5px,#fa2500 90.5px,#fd0f00 91.5px,#f80c00 92.5px,#f80c00 93.5px,#f54200 94.5px,#f81100 95.5px,#f81100 96.5px,#fd0300 97.5px,#fd0300 98.5px,#fd0400 99.5px,#ff5400 100.5px,#ff1000 101.5px,#ff1000 102.5px,#f61200 103.5px,#fd0800 104.5px,#fd0800 105.5px,#fa2500 106.5px,#f63800 107.5px,#f63800 108.5px,#f70e00 109.5px,#fc6400 110.5px,#fe0600 111.5px,#f85800 112.5px,#f60000 113.5px,#f60000 114.5px,#f71c00 115.5px,#f71c00 116.5px,#f73200 117.5px,#f70300 118.5px,#fd1f00 119.5px,#fd1f00 120.5px,#f60400 121.5px,#f60400 122.5px,#f94e00 123.5px,#f67200 124.5px,#fe4a00 125.5px,#fe4a00 126.5px,#fc0800 127.5px,#f61800 128.5px,#f61800 129.5px,#fc4200 130.5px,#fa0100 131.5px,#fa0100 132.5px,#fb7300 133.5px,#fc1c00 134.5px,#fc1c00 135.5px,#f55f00 136.5px,#f55f00 137.5px,#fd0a00 138.5px,#fd0a00 139.5px,#f50400 140.5px,#f83800 141.5px,#f83800 142.5px,#fe0f00 143.5px,#f50300 144.5px,#f50300 145.5px,#f91c00 146.5px,#fd7700 147.5px,#ff1c00 148.5px,#ff1c00 149.5px,#fe0c00 150.5px,#fd4500 151.5px,#f50700 152.5px,#f62600 153.5px,#fc0300 154.5px,#f71200 155.5px,#f90a00 156.5px,#f90a00 157.5px,#f72f00 158.5px,#fd1000 159.5px,#f60e00 160.5px,#f60200 161.5px,#f70000 162.5px,#f70000 163.5px,#fa0200 164.5px,#f95d00 165.5px,#f90e00 166.5px,#fd0900 167.5px,#f60d00 168.5px,#f60d00 169.5px,#fd0c00 170.5px,#f70600 171.5px,#f70600 172.5px,#fb3400 173.5px,#fb3400 174.5px,#fa0600 175.5px,#f81200 176.5px,#ff4900 177.5px,#ff0b00 178.5px,#ff5b00 179.5px,#f80100 180.5px,#f80100 181.5px,#f75400 182.5px,#ff1500 183.5px,#f87600 184.5px,#f87600 185.5px,#fe2700 186.5px,#f90f00 187.5px,#f90f00 188.5px,#fd2c00 189.5px,#f60000 190.5px,#fa4800 191.5px,#ff2400 192.5px,#f90900 193.5px,#f90900 194.5px,#fe0900 195.5px,#fe0900 196.5px,#fe7900 197.5px,#f65300 198.5px,#f65300 199.5px,#f70f00 200.5px,#f70f00 201.5px,#fb4300 202.5px,#fc6000 203.5px,#f71200 204.5px,#f71200 205.5px,#ff0e00 206.5px,#fd0500 207.5px,#f73f00 208.5px,#f90d00 209.5px,#f60400 210.5px,#fe3f00 211.5px,#fe3f00 212.5px,#ff5600 213.5px,#f64400 214.5px,#f64400 215.5px,#f92700 216.5px,#f92700 217.5px,#fe1d00 218.5px,#f71c00 219.5px,#fe1300 220.5px,#fe1300 221.5px,#fe0600 222.5px,#fb2200 223.5px,#f52c00 224.5px,#f52c00 225.5px,#fa0c00 226.5px,#f90b00 227.5px,#fd0200 228.5px,#fd0200 229.5px,#fb3600 230.5px,#fb3600 231.5px,#f95b00 232.5px,#f95b00 233.5px,#f94e00 234.5px,#f94e00 235.5px,#f84e00 236.5px,#fd4100 237.5px,#fd4100 238.5px,#fe1200 239.5px,#f52300 240.5px,#f52300 241.5px,#f50300 242.5px,#f50300 243.5px,#f50300 244.5px,#f50300 245.5px,#f90100 246.5px,#f90100 247.5px,#f60f00 248.5px,#f71300 249.5px,#fb1b00 250.5px,#fb1b00 251.5px,#fe1200 252.5px,#f60200 253.5px,#fc0100 254.5px,#fc0100 255.5px,#fa0200 256.5px,#f90500 257.5px)"></div><div class="r" style="top:170.77px;background:linear-gradient(90deg,#f80200 0.5px,#f80200 1.5px,#fe4300 2.5px,#ff7c00 3.5px,#e4ff00 4.5px,#e4ff00 5.5px,#fff900 6.5px,#ffc300 7.5px,#ff3200 8.5px,#ff3200 9.5px,#edff00 10.5px,#c4ff00 11.5px,#ffe700 12.5px,#ff8c00 13.5px,#ffaf00 14.5px,#ffa900 15.5px,#ff1500 16.5px,#ff1500 17.5px,#ffdc00 18.5px,#ff5100 19.5px,#ff4200 20.5px,#ffe000 21.5px,#ffd200 22.5px,#bf0 23.5px,#ff5f00 24.5px,#ffbd00 25.5px,#ffb900 26.5px,#ffb900 27.5px,#ff7e00 28.5px,#bfff00 29.5px,#bfff00 30.5px,#ff1200 31.5px,#fd0200 32.5px,#fd0200 33.5px,#fa0b00 34.5px,#fd0d00 35.5px,#fd0d00 36.5px,#fb5200 37.5px,#fb0800 38.5px,#fc0a00 39.5px,#fc0a00 40.5px,#f92400 41.5px,#fe1000 42.5px,#fa3c00 43.5px,#fa3c00 44.5px,#fe1800 45.5px,#f97000 46.5px,#f73700 47.5px,#f62600 48.5px,#f62600 49.5px,#f71500 50.5px,#fd5400 51.5px,#f94d00 52.5px,#f60300 53.5px,#f74300 54.5px,#f74300 55.5px,#f96200 56.5px,#fb1800 57.5px,#f70d00 58.5px,#f70d00 59.5px,#fb0800 60.5px,#f62500 61.5px,#f52d00 62.5px,#f52d00 63.5px,#f60e00 64.5px,#fc0100 65.5px,#fc0100 66.5px,#f80a00 67.5px,#f80a00 68.5px,#f51a00 69.5px,#f90f00 70.5px,#f73e00 71.5px,#fd0100 72.5px,#fd0100 73.5px,#f92400 74.5px,#f92400 75.5px,#f81c00 76.5px,#f81c00 77.5px,#fb1700 78.5px,#fa2200 79.5px,#fa4d00 80.5px,#fa4d00 81.5px,#fe2800 82.5px,#fd1200 83.5px,#fa0800 84.5px,#fb0600 85.5px,#fb0600 86.5px,#fa0100 87.5px,#fe0700 88.5px,#fe0700 89.5px,#f90400 90.5px,#fc0a00 91.5px,#fc0a00 92.5px,#ff8700 93.5px,#e9ff00 94.5px,#ffed00 95.5px,#ffe600 96.5px,#daff00 97.5px,#ffa700 98.5px,#ff4d00 99.5px,#ff4d00 100.5px,#ffab00 101.5px,#ffab00 102.5px,#ff7500 103.5px,#ff7500 104.5px,#ff8a00 105.5px,#ff8a00 106.5px,#b5ff00 107.5px,#ff8700 108.5px,#ff8700 109.5px,#ff6100 110.5px,#ff5900 111.5px,#ff8400 112.5px,#ffc900 113.5px,#cfff00 114.5px,#d7ff00 115.5px,#f1ff00 116.5px,#cdff00 117.5px,#f74400 118.5px,#f74400 119.5px,#f92600 120.5px,#f70d00 121.5px,#fd0300 122.5px,#fd0300 123.5px,#fa2200 124.5px,#f73200 125.5px,#f73200 126.5px,#f00 127.5px,#fa4400 128.5px,#f64100 129.5px,#fd0200 130.5px,#fe6200 131.5px,#fa0c00 132.5px,#f83700 133.5px,#f83700 134.5px,#f90000 135.5px,#f55700 136.5px,#f55700 137.5px,#f97300 138.5px,#f97300 139.5px,#f60c00 140.5px,#f60c00 141.5px,#fc1600 142.5px,#fe3200 143.5px,#fe3200 144.5px,#f61000 145.5px,#fc3400 146.5px,#fb6400 147.5px,#fe8100 148.5px,#fe8100 149.5px,#fd0f00 150.5px,#f65300 151.5px,#fc5800 152.5px,#f65d00 153.5px,#f65d00 154.5px,#f80a00 155.5px,#fc4100 156.5px,#fc4100 157.5px,#fc0400 158.5px,#f81100 159.5px,#f81100 160.5px,#fc0d00 161.5px,#fc0d00 162.5px,#f80b00 163.5px,#fb0d00 164.5px,#fb0d00 165.5px,#f70e00 166.5px,#f70e00 167.5px,#fa0400 168.5px,#fa0400 169.5px,#f60c00 170.5px,#fa0700 171.5px,#fa0700 172.5px,#f61000 173.5px,#f61000 174.5px,#fe0 175.5px,#fff900 176.5px,#ff1900 177.5px,#ff1900 178.5px,#ffcd00 179.5px,#ffbd00 180.5px,#ffc400 181.5px,#ffc400 182.5px,#ff5a00 183.5px,#ff5a00 184.5px,#fffa00 185.5px,#ffc300 186.5px,#ffd500 187.5px,#ffd500 188.5px,#ff8600 189.5px,#f9ff00 190.5px,#ff7600 191.5px,#ff3100 192.5px,#ff8700 193.5px,#ff8600 194.5px,#c4ff00 195.5px,#ff1300 196.5px,#ff1900 197.5px,#ff6400 198.5px,#f60 199.5px,#ffa100 200.5px,#f61600 201.5px,#fc5200 202.5px,#fd2d00 203.5px,#fb1400 204.5px,#fb1400 205.5px,#fa0300 206.5px,#fa0300 207.5px,#fc0500 208.5px,#f60300 209.5px,#f60300 210.5px,#f60d00 211.5px,#f60d00 212.5px,#fb4600 213.5px,#f71200 214.5px,#f71200 215.5px,#ff6100 216.5px,#fb2200 217.5px,#fb5e00 218.5px,#fb5e00 219.5px,#f75600 220.5px,#f90500 221.5px,#f90500 222.5px,#ff0600 223.5px,#f94e00 224.5px,#f94e00 225.5px,#fb1800 226.5px,#f61700 227.5px,#fc4100 228.5px,#fc4100 229.5px,#ff3f00 230.5px,#f52100 231.5px,#f52100 232.5px,#fe0a00 233.5px,#fb8c00 234.5px,#fd0100 235.5px,#fc1300 236.5px,#fc3800 237.5px,#fd4800 238.5px,#fd4800 239.5px,#fc8a00 240.5px,#fc8a00 241.5px,#ff3d00 242.5px,#ff3d00 243.5px,#f81d00 244.5px,#fa5600 245.5px,#fa5600 246.5px,#f90400 247.5px,#f90400 248.5px,#fe1500 249.5px,#fe4d00 250.5px,#fc3800 251.5px,#fd0700 252.5px,#fd0700 253.5px,#f60c00 254.5px,#fb0900 255.5px,#fb0900 256.5px,#fb0900 257.5px)"></div><div class="r" style="top:163.66px;background:linear-gradient(90deg,#f85500 0.5px,#fc2800 1.5px,#fc2800 2.5px,#f0ff00 3.5px,#ffb200 4.5px,#ffe400 5.5px,#ffe400 6.5px,#f4ff00 7.5px,#f4ff00 8.5px,#f2ff00 9.5px,#ffdb00 10.5px,#ffdb00 11.5px,#ffa100 12.5px,#ff8000 13.5px,#ffd300 14.5px,#fffd00 15.5px,#ff7f00 16.5px,#ff7f00 17.5px,#ffbc00 18.5px,#ffbc00 19.5px,#fa0 20.5px,#ffa900 21.5px,#ffa900 22.5px,#d9ff00 23.5px,#ffb300 24.5px,#ffb300 25.5px,#fbff00 26.5px,#fff500 27.5px,#ff8400 28.5px,#ffd200 29.5px,#fff500 30.5px,#fff500 31.5px,#fa0b00 32.5px,#fa0b00 33.5px,#fa2300 34.5px,#fa0700 35.5px,#fa0700 36.5px,#fd0800 37.5px,#fd0800 38.5px,#f80c00 39.5px,#fa0600 40.5px,#fa0600 41.5px,#fc4800 42.5px,#fa0b00 43.5px,#fb0c00 44.5px,#fb0c00 45.5px,#f91600 46.5px,#f91600 47.5px,#f70800 48.5px,#f70400 49.5px,#f70400 50.5px,#fc0f00 51.5px,#f80f00 52.5px,#f80f00 53.5px,#fd2200 54.5px,#fd2200 55.5px,#fa0300 56.5px,#fa0300 57.5px,#f80800 58.5px,#f93900 59.5px,#f93900 60.5px,#f50200 61.5px,#f50200 62.5px,#fc4100 63.5px,#fe5e00 64.5px,#f85200 65.5px,#ff5400 66.5px,#fd3c00 67.5px,#fd3c00 68.5px,#ff5300 69.5px,#f81800 70.5px,#f81800 71.5px,#fa1c00 72.5px,#f52b00 73.5px,#f52b00 74.5px,#fc1400 75.5px,#fc1400 76.5px,#f61600 77.5px,#f61600 78.5px,#f85200 79.5px,#f85200 80.5px,#fd8d00 81.5px,#fd0f00 82.5px,#fd0f00 83.5px,#fc0f00 84.5px,#fe0d00 85.5px,#fd0b00 86.5px,#f70d00 87.5px,#f70d00 88.5px,#f80b00 89.5px,#ff0a00 90.5px,#fd3100 91.5px,#f71800 92.5px,#f71800 93.5px,#ff5800 94.5px,#ff5800 95.5px,#b4ff00 96.5px,#ffd100 97.5px,#ffd100 98.5px,#ef0 99.5px,#eaff00 100.5px,#ffa400 101.5px,#ffa400 102.5px,#fa0 103.5px,#fff400 104.5px,#df0 105.5px,#f70 106.5px,#ff8000 107.5px,#ff8000 108.5px,#ff7c00 109.5px,#ff7c00 110.5px,#f9ff00 111.5px,#f9ff00 112.5px,#ffb200 113.5px,#ff7100 114.5px,#ff7100 115.5px,#ffd900 116.5px,#c2ff00 117.5px,#f84400 118.5px,#f54d00 119.5px,#f54d00 120.5px,#fe3a00 121.5px,#f90700 122.5px,#f90700 123.5px,#f80800 124.5px,#f62f00 125.5px,#f62f00 126.5px,#f74e00 127.5px,#f74e00 128.5px,#fe1a00 129.5px,#f65f00 130.5px,#fb1000 131.5px,#fb1000 132.5px,#fc1500 133.5px,#f71b00 134.5px,#fb0200 135.5px,#fb0300 136.5px,#fb0300 137.5px,#fc1800 138.5px,#f70700 139.5px,#fb5100 140.5px,#f72a00 141.5px,#fd1900 142.5px,#fd1900 143.5px,#fa0500 144.5px,#fe1200 145.5px,#ff1d00 146.5px,#f91900 147.5px,#f91900 148.5px,#fe4500 149.5px,#fe4500 150.5px,#f91500 151.5px,#fb7900 152.5px,#fd0900 153.5px,#fa6100 154.5px,#fa6100 155.5px,#f75300 156.5px,#f90900 157.5px,#fb3e00 158.5px,#fb5000 159.5px,#f67e00 160.5px,#fb0600 161.5px,#fb0b00 162.5px,#fb0b00 163.5px,#f70100 164.5px,#fd0600 165.5px,#fd0600 166.5px,#fb0d00 167.5px,#f80a00 168.5px,#ff0a00 169.5px,#ff0a00 170.5px,#f60a00 171.5px,#fa1300 172.5px,#fb6900 173.5px,#fb6900 174.5px,#ffba00 175.5px,#ffb100 176.5px,#ffb100 177.5px,#ff6a00 178.5px,#ff6a00 179.5px,#ffcf00 180.5px,#ffc700 181.5px,#ffb200 182.5px,#fffa00 183.5px,#fffa00 184.5px,#b3ff00 185.5px,#f90 186.5px,#f90 187.5px,#ffc300 188.5px,#ffc300 189.5px,#ff5100 190.5px,#ff5100 191.5px,#ffeb00 192.5px,#fffc00 193.5px,#fffc00 194.5px,#fffc00 195.5px,#ffcf00 196.5px,#ff9300 197.5px,#ffa000 198.5px,#f7ff00 199.5px,#ffe700 200.5px,#ffe700 201.5px,#fe2c00 202.5px,#fe2c00 203.5px,#fc4d00 204.5px,#fe0600 205.5px,#f50300 206.5px,#fc0a00 207.5px,#fc0a00 208.5px,#f80800 209.5px,#fd1300 210.5px,#f81500 211.5px,#f81500 212.5px,#f64800 213.5px,#fc3f00 214.5px,#f73c00 215.5px,#f73c00 216.5px,#fe3000 217.5px,#fc3f00 218.5px,#f55d00 219.5px,#f55d00 220.5px,#f80500 221.5px,#f80500 222.5px,#fe4c00 223.5px,#f87f00 224.5px,#f61b00 225.5px,#f61b00 226.5px,#f90f00 227.5px,#fa3c00 228.5px,#f94200 229.5px,#f94200 230.5px,#fa8800 231.5px,#f65a00 232.5px,#f65a00 233.5px,#f91a00 234.5px,#f91a00 235.5px,#f76700 236.5px,#f76700 237.5px,#f60b00 238.5px,#fa8400 239.5px,#f61600 240.5px,#fa0800 241.5px,#fe4c00 242.5px,#fc3a00 243.5px,#fc3a00 244.5px,#fa1700 245.5px,#fc1b00 246.5px,#fb4c00 247.5px,#f65c00 248.5px,#f91300 249.5px,#f94b00 250.5px,#f94b00 251.5px,#f80c00 252.5px,#fa3f00 253.5px,#fa3f00 254.5px,#fd0700 255.5px,#fd0700 256.5px,#fb0400 257.5px)"></div><div class="r" style="top:156.54px;background:linear-gradient(90deg,#f52f00 0.5px,#f51700 1.5px,#f60f00 2.5px,#f60f00 3.5px,#f70e00 4.5px,#f65300 5.5px,#fd0400 6.5px,#fd0400 7.5px,#f61500 8.5px,#fc3b00 9.5px,#fc0e00 10.5px,#f80600 11.5px,#fd1400 12.5px,#fd1400 13.5px,#fe4700 14.5px,#f50800 15.5px,#f50800 16.5px,#fd0100 17.5px,#fd0100 18.5px,#f94200 19.5px,#f75800 20.5px,#fc0a00 21.5px,#fa1600 22.5px,#f92600 23.5px,#f92600 24.5px,#f61400 25.5px,#ff2b00 26.5px,#ff2b00 27.5px,#fb0b00 28.5px,#fb1400 29.5px,#fb1400 30.5px,#f90b00 31.5px,#f90b00 32.5px,#f60100 33.5px,#f60100 34.5px,#fe0f00 35.5px,#fe0f00 36.5px,#fb0300 37.5px,#fb0300 38.5px,#fa0b00 39.5px,#fa0b00 40.5px,#fb1300 41.5px,#fb1300 42.5px,#fd0800 43.5px,#fd0800 44.5px,#f55200 45.5px,#f71600 46.5px,#fc3600 47.5px,#f75400 48.5px,#f75400 49.5px,#f71300 50.5px,#fc1600 51.5px,#fa3100 52.5px,#f55000 53.5px,#f55000 54.5px,#f64100 55.5px,#f64100 56.5px,#fa7400 57.5px,#f90800 58.5px,#f70e00 59.5px,#fd0400 60.5px,#fb0200 61.5px,#f80a00 62.5px,#fd0100 63.5px,#fe0100 64.5px,#fe3400 65.5px,#fe3400 66.5px,#f71800 67.5px,#f61500 68.5px,#f95b00 69.5px,#f95b00 70.5px,#fc0200 71.5px,#fb0a00 72.5px,#fb0a00 73.5px,#fc2800 74.5px,#fe0f00 75.5px,#fe0300 76.5px,#f60d00 77.5px,#f60d00 78.5px,#f86200 79.5px,#f86200 80.5px,#fa1800 81.5px,#fa0300 82.5px,#fa0300 83.5px,#fc0400 84.5px,#fa0100 85.5px,#fa0100 86.5px,#fb0500 87.5px,#f70400 88.5px,#f70400 89.5px,#fb0800 90.5px,#fc0a00 91.5px,#fe6600 92.5px,#fe6600 93.5px,#f88800 94.5px,#f88800 95.5px,#fe1000 96.5px,#fe1000 97.5px,#f70800 98.5px,#f70800 99.5px,#ff5a00 100.5px,#fd5f00 101.5px,#f84700 102.5px,#fe4b00 103.5px,#f71000 104.5px,#f91d00 105.5px,#f91d00 106.5px,#fe3700 107.5px,#fe3700 108.5px,#f65a00 109.5px,#f63a00 110.5px,#f63a00 111.5px,#f73d00 112.5px,#f73d00 113.5px,#f74500 114.5px,#ff1000 115.5px,#fa1100 116.5px,#fa1100 117.5px,#fa2400 118.5px,#fd3f00 119.5px,#f73900 120.5px,#f73900 121.5px,#f90a00 122.5px,#fa0400 123.5px,#fa0400 124.5px,#f62a00 125.5px,#f60c00 126.5px,#fb1900 127.5px,#fc1700 128.5px,#fc1700 129.5px,#f61000 130.5px,#f61000 131.5px,#ff4b00 132.5px,#ff4b00 133.5px,#fe0700 134.5px,#fa3200 135.5px,#fd1600 136.5px,#fd1600 137.5px,#fb0c00 138.5px,#fc4800 139.5px,#fc4800 140.5px,#f60b00 141.5px,#f73200 142.5px,#f80200 143.5px,#f73a00 144.5px,#f73a00 145.5px,#fe1a00 146.5px,#f82c00 147.5px,#f60000 148.5px,#f80900 149.5px,#fc0f00 150.5px,#fc0f00 151.5px,#f78c00 152.5px,#f78c00 153.5px,#f73600 154.5px,#f61d00 155.5px,#f61d00 156.5px,#fd1c00 157.5px,#fc6300 158.5px,#f80e00 159.5px,#f95500 160.5px,#f50e00 161.5px,#fe0d00 162.5px,#fe0d00 163.5px,#fb0c00 164.5px,#f60800 165.5px,#fb0700 166.5px,#f80100 167.5px,#f80100 168.5px,#fe0900 169.5px,#fe0900 170.5px,#f90600 171.5px,#fe3700 172.5px,#fa1800 173.5px,#fa1800 174.5px,#fd2900 175.5px,#fd1800 176.5px,#fd1800 177.5px,#f70600 178.5px,#f70600 179.5px,#f91b00 180.5px,#fc3000 181.5px,#fc3000 182.5px,#fb2d00 183.5px,#fb2d00 184.5px,#fe4000 185.5px,#fa0a00 186.5px,#f90e00 187.5px,#f90e00 188.5px,#fc0200 189.5px,#fc0200 190.5px,#ff0d00 191.5px,#ff0d00 192.5px,#f81000 193.5px,#fb0900 194.5px,#fb0900 195.5px,#f80900 196.5px,#f80900 197.5px,#fc0300 198.5px,#fc0300 199.5px,#fc3000 200.5px,#f73600 201.5px,#f73600 202.5px,#f54a00 203.5px,#f81200 204.5px,#f81200 205.5px,#fe0800 206.5px,#f50d00 207.5px,#fb0100 208.5px,#f80000 209.5px,#f80000 210.5px,#f80c00 211.5px,#f50400 212.5px,#f50400 213.5px,#f81100 214.5px,#fb2900 215.5px,#f54200 216.5px,#fa0d00 217.5px,#f97900 218.5px,#f53e00 219.5px,#fb0200 220.5px,#fe2d00 221.5px,#fa3d00 222.5px,#f64d00 223.5px,#f90300 224.5px,#f90300 225.5px,#fc5f00 226.5px,#fc5f00 227.5px,#f83200 228.5px,#f83200 229.5px,#fd5f00 230.5px,#f75f00 231.5px,#f94e00 232.5px,#f94e00 233.5px,#f73400 234.5px,#f74700 235.5px,#fe0200 236.5px,#fc1c00 237.5px,#fa1c00 238.5px,#fa7200 239.5px,#f54b00 240.5px,#f93200 241.5px,#f93200 242.5px,#f91300 243.5px,#f73d00 244.5px,#f73d00 245.5px,#f74700 246.5px,#fb0400 247.5px,#fb3900 248.5px,#fb0d00 249.5px,#fc0200 250.5px,#fd1000 251.5px,#fd1000 252.5px,#fb0800 253.5px,#fd0b00 254.5px,#ff0700 255.5px,#fd0700 256.5px,#fb1100 257.5px)"></div><div class="r" style="top:149.43px;background:linear-gradient(90deg,#fd5200 0.5px,#f63200 1.5px,#f63200 2.5px,#f80400 3.5px,#f53900 4.5px,#f53900 5.5px,#f75600 6.5px,#fb1500 7.5px,#fb1500 8.5px,#fd0d00 9.5px,#fd0d00 10.5px,#f96a00 11.5px,#fc1a00 12.5px,#fc1a00 13.5px,#f80700 14.5px,#f80700 15.5px,#f82e00 16.5px,#fc2600 17.5px,#fb3100 18.5px,#f73a00 19.5px,#f72400 20.5px,#fb5300 21.5px,#fb5300 22.5px,#f74800 23.5px,#f74800 24.5px,#f54300 25.5px,#ff3000 26.5px,#fe6400 27.5px,#fb2600 28.5px,#f67900 29.5px,#f52c00 30.5px,#f60c00 31.5px,#fe0900 32.5px,#f74900 33.5px,#fc0300 34.5px,#f60200 35.5px,#f60200 36.5px,#fa0900 37.5px,#fb0800 38.5px,#f80900 39.5px,#f80900 40.5px,#fa4d00 41.5px,#fa4d00 42.5px,#f50200 43.5px,#f50200 44.5px,#f81000 45.5px,#fb6c00 46.5px,#f60800 47.5px,#fc5e00 48.5px,#fc5e00 49.5px,#fa0900 50.5px,#f71800 51.5px,#f71800 52.5px,#fa6300 53.5px,#fa6300 54.5px,#f97500 55.5px,#f97500 56.5px,#f70c00 57.5px,#fc3100 58.5px,#fc3100 59.5px,#fb1400 60.5px,#ff1400 61.5px,#fc3c00 62.5px,#fc3c00 63.5px,#f82900 64.5px,#f83900 65.5px,#fb3400 66.5px,#fe1b00 67.5px,#fb1400 68.5px,#fb1400 69.5px,#f60c00 70.5px,#f60c00 71.5px,#f73300 72.5px,#f73300 73.5px,#f55a00 74.5px,#fc0400 75.5px,#fc0400 76.5px,#fc1c00 77.5px,#fc1c00 78.5px,#f91a00 79.5px,#f93200 80.5px,#f93200 81.5px,#f54200 82.5px,#f54200 83.5px,#fa0d00 84.5px,#fa0d00 85.5px,#f60500 86.5px,#f60500 87.5px,#fb0200 88.5px,#fb0200 89.5px,#f80600 90.5px,#f92500 91.5px,#f81900 92.5px,#f81900 93.5px,#f61600 94.5px,#f61600 95.5px,#f71900 96.5px,#f71900 97.5px,#ff0f00 98.5px,#ff0f00 99.5px,#f96500 100.5px,#f52700 101.5px,#f81200 102.5px,#fa2d00 103.5px,#fa2d00 104.5px,#fa5000 105.5px,#fa5000 106.5px,#f94f00 107.5px,#f94f00 108.5px,#f92400 109.5px,#fa6000 110.5px,#f81500 111.5px,#f81500 112.5px,#fc5700 113.5px,#f81e00 114.5px,#f81e00 115.5px,#fa5300 116.5px,#fa5300 117.5px,#fb5f00 118.5px,#f91600 119.5px,#fd5200 120.5px,#fd5200 121.5px,#fa0400 122.5px,#f60500 123.5px,#fc0700 124.5px,#fc0700 125.5px,#ff0900 126.5px,#ff0900 127.5px,#f72700 128.5px,#ff1200 129.5px,#ff1200 130.5px,#fc1400 131.5px,#f83200 132.5px,#f83200 133.5px,#fc4d00 134.5px,#fb1600 135.5px,#ff1700 136.5px,#ff1700 137.5px,#f53500 138.5px,#f51700 139.5px,#fe1c00 140.5px,#ff4100 141.5px,#ff4100 142.5px,#f50400 143.5px,#f50400 144.5px,#f85900 145.5px,#fc2e00 146.5px,#f83a00 147.5px,#f82c00 148.5px,#f82c00 149.5px,#f68100 150.5px,#f68100 151.5px,#fd2900 152.5px,#f62e00 153.5px,#ff5d00 154.5px,#ff5d00 155.5px,#fd1600 156.5px,#fc3d00 157.5px,#fc3d00 158.5px,#f90600 159.5px,#f90600 160.5px,#f70600 161.5px,#f70500 162.5px,#fe0d00 163.5px,#fe0d00 164.5px,#fa0d00 165.5px,#f60000 166.5px,#f60000 167.5px,#fe2800 168.5px,#fe2800 169.5px,#fa0000 170.5px,#fd0300 171.5px,#fd0300 172.5px,#fa7300 173.5px,#f76000 174.5px,#f76000 175.5px,#f81500 176.5px,#f81500 177.5px,#fb0f00 178.5px,#fb0f00 179.5px,#fa0600 180.5px,#fb4d00 181.5px,#fc0900 182.5px,#fc0900 183.5px,#ff1700 184.5px,#f90000 185.5px,#f90000 186.5px,#fd5c00 187.5px,#f53600 188.5px,#f60a00 189.5px,#ff3900 190.5px,#ff3900 191.5px,#f50600 192.5px,#f50600 193.5px,#fd3000 194.5px,#fd3000 195.5px,#fa3700 196.5px,#fa3700 197.5px,#fe0800 198.5px,#fe0800 199.5px,#fa3000 200.5px,#fb5200 201.5px,#fb5200 202.5px,#fe4600 203.5px,#f60e00 204.5px,#f60e00 205.5px,#fb0b00 206.5px,#f90500 207.5px,#f70800 208.5px,#f70800 209.5px,#fe1500 210.5px,#fe1500 211.5px,#fb2900 212.5px,#fe0400 213.5px,#fb0a00 214.5px,#f75f00 215.5px,#f75f00 216.5px,#fd1000 217.5px,#ff3800 218.5px,#ff3800 219.5px,#f80400 220.5px,#f80400 221.5px,#f71400 222.5px,#fb5c00 223.5px,#fe0c00 224.5px,#f74300 225.5px,#fa4b00 226.5px,#fa4b00 227.5px,#f81d00 228.5px,#f62a00 229.5px,#fc2d00 230.5px,#ff1400 231.5px,#ff1400 232.5px,#fb1100 233.5px,#fb1100 234.5px,#fc4500 235.5px,#fc4500 236.5px,#f71a00 237.5px,#fa8d00 238.5px,#fa8d00 239.5px,#f81400 240.5px,#f55300 241.5px,#f55300 242.5px,#f81400 243.5px,#f81400 244.5px,#fb0300 245.5px,#fe0500 246.5px,#fe0500 247.5px,#fb0500 248.5px,#f91500 249.5px,#f91500 250.5px,#ff1800 251.5px,#ff0600 252.5px,#fc0900 253.5px,#f70200 254.5px,#f70200 255.5px,#fe0200 256.5px,#fe0a00 257.5px)"></div><div class="r" style="top:142.31px;background:linear-gradient(90deg,#f67700 0.5px,#f88200 1.5px,#f88200 2.5px,#f82d00 3.5px,#fe1000 4.5px,#fe1000 5.5px,#fe1500 6.5px,#f51300 7.5px,#f51300 8.5px,#f64200 9.5px,#fe2d00 10.5px,#f90b00 11.5px,#f90b00 12.5px,#fc2e00 13.5px,#f81100 14.5px,#f81100 15.5px,#fb6300 16.5px,#f53f00 17.5px,#fc5800 18.5px,#f92900 19.5px,#f86100 20.5px,#f93d00 21.5px,#f93d00 22.5px,#f61300 23.5px,#f84100 24.5px,#f84100 25.5px,#fa1700 26.5px,#fa1700 27.5px,#f50100 28.5px,#f50100 29.5px,#f51100 30.5px,#f51100 31.5px,#f60500 32.5px,#fc0400 33.5px,#f50600 34.5px,#f60b00 35.5px,#f50600 36.5px,#f60800 37.5px,#f90500 38.5px,#fe0e00 39.5px,#fe0e00 40.5px,#f75f00 41.5px,#fd0700 42.5px,#fd2a00 43.5px,#fb4500 44.5px,#fb4500 45.5px,#f92500 46.5px,#f80a00 47.5px,#f80a00 48.5px,#f65000 49.5px,#f93800 50.5px,#fc0700 51.5px,#fa4600 52.5px,#fa4600 53.5px,#fd1900 54.5px,#f70c00 55.5px,#f70c00 56.5px,#f60600 57.5px,#f60600 58.5px,#fd1200 59.5px,#fc3500 60.5px,#fb4d00 61.5px,#fb4d00 62.5px,#fb5500 63.5px,#f80a00 64.5px,#f80a00 65.5px,#fb1a00 66.5px,#f73300 67.5px,#fc0200 68.5px,#fc0200 69.5px,#f51400 70.5px,#f51400 71.5px,#f60f00 72.5px,#f80d00 73.5px,#fd4c00 74.5px,#fd4c00 75.5px,#f85a00 76.5px,#fc4b00 77.5px,#fc4b00 78.5px,#fe4900 79.5px,#fb1500 80.5px,#fe3200 81.5px,#fe3200 82.5px,#fc5200 83.5px,#fc5200 84.5px,#f70a00 85.5px,#fc0800 86.5px,#fb0900 87.5px,#f70500 88.5px,#f60900 89.5px,#f60900 90.5px,#f50300 91.5px,#ff0b00 92.5px,#ff0b00 93.5px,#fd1a00 94.5px,#fd1a00 95.5px,#fc0500 96.5px,#fb6a00 97.5px,#fb6a00 98.5px,#f75600 99.5px,#fe6000 100.5px,#fa1100 101.5px,#fb5c00 102.5px,#fb5c00 103.5px,#f72400 104.5px,#f72400 105.5px,#fb0600 106.5px,#f74000 107.5px,#f84c00 108.5px,#f84c00 109.5px,#f91400 110.5px,#fa3e00 111.5px,#fa3e00 112.5px,#f71b00 113.5px,#fe0c00 114.5px,#fd4100 115.5px,#fd4100 116.5px,#f80c00 117.5px,#f80c00 118.5px,#f52400 119.5px,#fa3300 120.5px,#fc0200 121.5px,#fc0200 122.5px,#f70700 123.5px,#f70700 124.5px,#f71800 125.5px,#fe3700 126.5px,#fe3700 127.5px,#fb0800 128.5px,#f51700 129.5px,#f91900 130.5px,#f50900 131.5px,#fe2b00 132.5px,#fe2b00 133.5px,#fa2c00 134.5px,#fa2c00 135.5px,#f65400 136.5px,#fa6b00 137.5px,#f88800 138.5px,#fc0200 139.5px,#fc0000 140.5px,#fc0000 141.5px,#f51500 142.5px,#f51500 143.5px,#f90e00 144.5px,#f90e00 145.5px,#f91600 146.5px,#f64700 147.5px,#f92500 148.5px,#fc0d00 149.5px,#f92c00 150.5px,#f92c00 151.5px,#fa5500 152.5px,#fd8200 153.5px,#fd8200 154.5px,#fd1900 155.5px,#fd1900 156.5px,#fb1400 157.5px,#ff3f00 158.5px,#f62a00 159.5px,#f91300 160.5px,#f90a00 161.5px,#f90a00 162.5px,#fb0e00 163.5px,#fb0e00 164.5px,#fd0900 165.5px,#fb0d00 166.5px,#fb0d00 167.5px,#f60100 168.5px,#fa0600 169.5px,#f90100 170.5px,#fe0b00 171.5px,#fe0b00 172.5px,#f50500 173.5px,#fc1200 174.5px,#fb0200 175.5px,#f71000 176.5px,#f71000 177.5px,#f70e00 178.5px,#fc1300 179.5px,#f80e00 180.5px,#f80e00 181.5px,#f70c00 182.5px,#f70c00 183.5px,#f60300 184.5px,#fb4e00 185.5px,#f84400 186.5px,#f84400 187.5px,#fc3100 188.5px,#f82800 189.5px,#f82800 190.5px,#fa3a00 191.5px,#fd7f00 192.5px,#fa5e00 193.5px,#f50c00 194.5px,#f50c00 195.5px,#f57a00 196.5px,#f90b00 197.5px,#fb0c00 198.5px,#ff1300 199.5px,#f93f00 200.5px,#fb2e00 201.5px,#f72700 202.5px,#f72700 203.5px,#f93000 204.5px,#f93000 205.5px,#f90700 206.5px,#f90b00 207.5px,#f60100 208.5px,#f80a00 209.5px,#fc0d00 210.5px,#fb0c00 211.5px,#fb0c00 212.5px,#f54400 213.5px,#fd3000 214.5px,#fd3000 215.5px,#f85800 216.5px,#f85800 217.5px,#f91400 218.5px,#f61a00 219.5px,#f61a00 220.5px,#fc0500 221.5px,#fc0500 222.5px,#f60400 223.5px,#fe3b00 224.5px,#fe3b00 225.5px,#f70200 226.5px,#f62400 227.5px,#fc0500 228.5px,#f81800 229.5px,#fb1400 230.5px,#f61000 231.5px,#fa5500 232.5px,#fa5500 233.5px,#fe8c00 234.5px,#fe8c00 235.5px,#f71400 236.5px,#f70b00 237.5px,#f71f00 238.5px,#fd4f00 239.5px,#fd4f00 240.5px,#fe3900 241.5px,#fe3900 242.5px,#f74800 243.5px,#fa1d00 244.5px,#fa1d00 245.5px,#f93500 246.5px,#f93500 247.5px,#fc4a00 248.5px,#f60b00 249.5px,#f90c00 250.5px,#f81100 251.5px,#fc0500 252.5px,#f80e00 253.5px,#f80e00 254.5px,#fe0400 255.5px,#fc0800 256.5px,#f90400 257.5px)"></div><div class="r" style="top:135.20px;background:linear-gradient(90deg,#f60f00 0.5px,#fd0900 1.5px,#f60800 2.5px,#f60800 3.5px,#f81300 4.5px,#fb5700 5.5px,#f50d00 6.5px,#f50d00 7.5px,#f90f00 8.5px,#f90f00 9.5px,#fc3c00 10.5px,#fc3c00 11.5px,#fe0400 12.5px,#f83900 13.5px,#f83900 14.5px,#fd0600 15.5px,#fa7100 16.5px,#fe1200 17.5px,#f63f00 18.5px,#fe3600 19.5px,#fe5b00 20.5px,#fe5b00 21.5px,#fc7600 22.5px,#fb5100 23.5px,#f61b00 24.5px,#f90900 25.5px,#f90900 26.5px,#fc4c00 27.5px,#fb2e00 28.5px,#f80500 29.5px,#f80500 30.5px,#fb0d00 31.5px,#fe0900 32.5px,#fe0900 33.5px,#f90000 34.5px,#f90e00 35.5px,#f90e00 36.5px,#ff5100 37.5px,#ff5100 38.5px,#fc2600 39.5px,#fc2600 40.5px,#fa5b00 41.5px,#f91600 42.5px,#fd4e00 43.5px,#f90600 44.5px,#ff1400 45.5px,#f90200 46.5px,#fd0600 47.5px,#f85b00 48.5px,#f81900 49.5px,#f51300 50.5px,#ff6800 51.5px,#ff6800 52.5px,#f94400 53.5px,#f80600 54.5px,#f80600 55.5px,#f60500 56.5px,#f60500 57.5px,#fd1500 58.5px,#fc2a00 59.5px,#fb0600 60.5px,#fb0600 61.5px,#f50f00 62.5px,#f50f00 63.5px,#f96800 64.5px,#fe4400 65.5px,#fc1600 66.5px,#f61600 67.5px,#f61600 68.5px,#f72b00 69.5px,#f72b00 70.5px,#f94500 71.5px,#f94500 72.5px,#fc1d00 73.5px,#fc1d00 74.5px,#f90900 75.5px,#f60500 76.5px,#fa1800 77.5px,#fa1800 78.5px,#fb0400 79.5px,#fe0400 80.5px,#fe0400 81.5px,#fe0700 82.5px,#fe0700 83.5px,#fb0700 84.5px,#fb0700 85.5px,#fe0e00 86.5px,#fd0400 87.5px,#fd0400 88.5px,#f60e00 89.5px,#fe0100 90.5px,#fa0a00 91.5px,#fd0200 92.5px,#fd0200 93.5px,#f60600 94.5px,#f60600 95.5px,#fd4300 96.5px,#fa5100 97.5px,#fa5100 98.5px,#fb1900 99.5px,#fb1900 100.5px,#f95e00 101.5px,#f95e00 102.5px,#fa2500 103.5px,#fc1900 104.5px,#f84100 105.5px,#fd1d00 106.5px,#fd1d00 107.5px,#fc4700 108.5px,#f95900 109.5px,#f95900 110.5px,#fe1200 111.5px,#fe1200 112.5px,#f61f00 113.5px,#fd0e00 114.5px,#fd0e00 115.5px,#fe5800 116.5px,#fe5800 117.5px,#f62800 118.5px,#fe3600 119.5px,#fe3600 120.5px,#ff3c00 121.5px,#ff3c00 122.5px,#f60d00 123.5px,#f60d00 124.5px,#fb3f00 125.5px,#fb3f00 126.5px,#f90100 127.5px,#f90100 128.5px,#fc1100 129.5px,#fa1a00 130.5px,#fa1a00 131.5px,#f77c00 132.5px,#f77c00 133.5px,#f51500 134.5px,#fa5f00 135.5px,#fa5f00 136.5px,#f67800 137.5px,#f92800 138.5px,#f92800 139.5px,#fd0100 140.5px,#f84700 141.5px,#f70e00 142.5px,#f70e00 143.5px,#fa5400 144.5px,#fa5400 145.5px,#f72700 146.5px,#f72700 147.5px,#fd3200 148.5px,#fd0800 149.5px,#fd3900 150.5px,#fa5b00 151.5px,#f90000 152.5px,#fe1c00 153.5px,#fe1c00 154.5px,#f92c00 155.5px,#f92c00 156.5px,#f95800 157.5px,#fc0100 158.5px,#f51500 159.5px,#f51500 160.5px,#f90100 161.5px,#f90100 162.5px,#ff0600 163.5px,#fe0c00 164.5px,#f80500 165.5px,#f90d00 166.5px,#f85600 167.5px,#f85600 168.5px,#f60200 169.5px,#ff0900 170.5px,#f70b00 171.5px,#f70b00 172.5px,#fd6100 173.5px,#f85700 174.5px,#f80900 175.5px,#fb8300 176.5px,#fb8300 177.5px,#fd1700 178.5px,#fd1700 179.5px,#fb3c00 180.5px,#f82a00 181.5px,#f82a00 182.5px,#f62500 183.5px,#f70700 184.5px,#f65900 185.5px,#ff5600 186.5px,#fd0700 187.5px,#f75100 188.5px,#f75100 189.5px,#f91e00 190.5px,#f91e00 191.5px,#f85900 192.5px,#fe2600 193.5px,#f90600 194.5px,#f61600 195.5px,#f94b00 196.5px,#f94b00 197.5px,#fd0400 198.5px,#f71600 199.5px,#f71600 200.5px,#fc5e00 201.5px,#fa5100 202.5px,#f60100 203.5px,#fa0700 204.5px,#f80b00 205.5px,#fe0300 206.5px,#fe0300 207.5px,#fd0b00 208.5px,#fd0b00 209.5px,#f71100 210.5px,#f71100 211.5px,#f92300 212.5px,#f92300 213.5px,#fa7a00 214.5px,#f95600 215.5px,#f66100 216.5px,#f80100 217.5px,#fc0f00 218.5px,#f52f00 219.5px,#fb5200 220.5px,#ff4000 221.5px,#f80200 222.5px,#fa0d00 223.5px,#fe1d00 224.5px,#fe1d00 225.5px,#f51b00 226.5px,#f51b00 227.5px,#f60200 228.5px,#f60200 229.5px,#f80000 230.5px,#f60f00 231.5px,#f60f00 232.5px,#fc4d00 233.5px,#f52a00 234.5px,#f68900 235.5px,#f68900 236.5px,#f60200 237.5px,#f60200 238.5px,#fb6100 239.5px,#fb6100 240.5px,#f60900 241.5px,#f60900 242.5px,#fc4600 243.5px,#f64000 244.5px,#f72900 245.5px,#f71900 246.5px,#f51b00 247.5px,#fc1500 248.5px,#fc1500 249.5px,#f90300 250.5px,#fa0f00 251.5px,#ff0800 252.5px,#ff0800 253.5px,#f80d00 254.5px,#fc0d00 255.5px,#f90600 256.5px,#f72600 257.5px)"></div><div class="r" style="top:128.08px;background:linear-gradient(90deg,#f50c00 0.5px,#fe2d00 1.5px,#fe0700 2.5px,#fe0700 3.5px,#f91900 4.5px,#fb1400 5.5px,#fb1400 6.5px,#fd1100 7.5px,#f81900 8.5px,#fe4a00 9.5px,#f51200 10.5px,#f51200 11.5px,#f75000 12.5px,#fc1500 13.5px,#f71800 14.5px,#f91b00 15.5px,#fc0f00 16.5px,#fc0f00 17.5px,#fb7b00 18.5px,#ff1400 19.5px,#ff1400 20.5px,#fa1800 21.5px,#fa1800 22.5px,#fb5900 23.5px,#fe3700 24.5px,#fe3700 25.5px,#f74800 26.5px,#f62d00 27.5px,#fd1700 28.5px,#fd1700 29.5px,#f70c00 30.5px,#f60e00 31.5px,#f60e00 32.5px,#fb0400 33.5px,#f80800 34.5px,#f70e00 35.5px,#f80c00 36.5px,#f80600 37.5px,#f80600 38.5px,#fb0400 39.5px,#fb0400 40.5px,#f54800 41.5px,#f81500 42.5px,#f72900 43.5px,#f71400 44.5px,#fc0e00 45.5px,#f90200 46.5px,#f90200 47.5px,#fa0600 48.5px,#fa0600 49.5px,#fb4700 50.5px,#fb4700 51.5px,#fc7600 52.5px,#f62a00 53.5px,#fe8b00 54.5px,#fe8b00 55.5px,#fe1700 56.5px,#fe1700 57.5px,#fe2800 58.5px,#fe2800 59.5px,#fc5e00 60.5px,#fd1200 61.5px,#f80700 62.5px,#f80700 63.5px,#fa3100 64.5px,#fa3100 65.5px,#fa2a00 66.5px,#f94e00 67.5px,#f56100 68.5px,#f80800 69.5px,#f80800 70.5px,#fe1000 71.5px,#fb5a00 72.5px,#fe7e00 73.5px,#f94d00 74.5px,#fa0300 75.5px,#f64f00 76.5px,#fc0200 77.5px,#fc0200 78.5px,#f85700 79.5px,#fc6400 80.5px,#ff2700 81.5px,#fb3f00 82.5px,#fb3f00 83.5px,#fb0d00 84.5px,#fb0d00 85.5px,#fc0100 86.5px,#fc0100 87.5px,#f70200 88.5px,#f70200 89.5px,#fa0700 90.5px,#fa0700 91.5px,#f80e00 92.5px,#fd1600 93.5px,#fd6800 94.5px,#fd6800 95.5px,#fe0300 96.5px,#fe0c00 97.5px,#fe0c00 98.5px,#fe3700 99.5px,#f84600 100.5px,#fb0f00 101.5px,#f82a00 102.5px,#f82a00 103.5px,#fb5f00 104.5px,#fb5f00 105.5px,#fb1300 106.5px,#fb1300 107.5px,#fc0b00 108.5px,#f83b00 109.5px,#f83b00 110.5px,#f51000 111.5px,#f51000 112.5px,#fa1e00 113.5px,#fa1e00 114.5px,#f91800 115.5px,#f91800 116.5px,#f60200 117.5px,#f80700 118.5px,#f54300 119.5px,#f54300 120.5px,#ff1200 121.5px,#ff1200 122.5px,#fd0600 123.5px,#ff0300 124.5px,#ff0300 125.5px,#fa2900 126.5px,#fa2900 127.5px,#f83d00 128.5px,#f53b00 129.5px,#f53b00 130.5px,#f60900 131.5px,#f91200 132.5px,#fd6200 133.5px,#f80500 134.5px,#f80500 135.5px,#fd4e00 136.5px,#fd4e00 137.5px,#f90500 138.5px,#fa2500 139.5px,#fe1a00 140.5px,#f72300 141.5px,#fe0200 142.5px,#f83000 143.5px,#fe0f00 144.5px,#f60800 145.5px,#f62200 146.5px,#f62200 147.5px,#fa5e00 148.5px,#fd0800 149.5px,#fd0800 150.5px,#f65000 151.5px,#f91c00 152.5px,#f56500 153.5px,#fb3f00 154.5px,#ff4b00 155.5px,#fb0e00 156.5px,#fb0e00 157.5px,#f83400 158.5px,#fc1a00 159.5px,#fc1a00 160.5px,#f90900 161.5px,#fb0600 162.5px,#fb0600 163.5px,#fc0200 164.5px,#fc0900 165.5px,#f50700 166.5px,#f90b00 167.5px,#fa0e00 168.5px,#fe0b00 169.5px,#fe0b00 170.5px,#fd0b00 171.5px,#fa1000 172.5px,#fe1100 173.5px,#fe1100 174.5px,#f80300 175.5px,#f65300 176.5px,#fe0400 177.5px,#fe0400 178.5px,#fc6000 179.5px,#fc6000 180.5px,#fa1700 181.5px,#f90f00 182.5px,#f90f00 183.5px,#ff2600 184.5px,#ff2600 185.5px,#f83000 186.5px,#f83000 187.5px,#fa0100 188.5px,#f93100 189.5px,#f93100 190.5px,#fd5400 191.5px,#fe4800 192.5px,#fc8600 193.5px,#fc8600 194.5px,#f50800 195.5px,#f50800 196.5px,#fe5600 197.5px,#fa3000 198.5px,#fa3000 199.5px,#fe0100 200.5px,#fb3400 201.5px,#fd1900 202.5px,#fa6200 203.5px,#fb1000 204.5px,#fb1000 205.5px,#fe0600 206.5px,#fe0600 207.5px,#f80600 208.5px,#fd0a00 209.5px,#fe2900 210.5px,#f71b00 211.5px,#f71b00 212.5px,#f70200 213.5px,#f70200 214.5px,#fa0500 215.5px,#fa0500 216.5px,#fa0800 217.5px,#f52800 218.5px,#f52800 219.5px,#fe0300 220.5px,#f72f00 221.5px,#f72f00 222.5px,#fc1d00 223.5px,#fb0d00 224.5px,#fb0d00 225.5px,#f90700 226.5px,#ff0500 227.5px,#fc4400 228.5px,#fc3b00 229.5px,#fd4c00 230.5px,#f60800 231.5px,#fe0200 232.5px,#fd1200 233.5px,#fa4c00 234.5px,#f58800 235.5px,#f58800 236.5px,#fa0200 237.5px,#f65300 238.5px,#f52400 239.5px,#f76200 240.5px,#f54a00 241.5px,#f54a00 242.5px,#f76200 243.5px,#f94f00 244.5px,#f73800 245.5px,#f63200 246.5px,#fa0800 247.5px,#fa0800 248.5px,#fc0400 249.5px,#fd0a00 250.5px,#f95f00 251.5px,#f95f00 252.5px,#fe0500 253.5px,#f86000 254.5px,#f70400 255.5px,#f70400 256.5px,#f91200 257.5px)"></div><div class="r" style="top:120.97px;background:linear-gradient(90deg,#f85400 0.5px,#f85400 1.5px,#f84000 2.5px,#fe3500 3.5px,#fe3500 4.5px,#f81200 5.5px,#f81200 6.5px,#fb1800 7.5px,#ff4600 8.5px,#f75e00 9.5px,#f75e00 10.5px,#fa5c00 11.5px,#f64000 12.5px,#f64000 13.5px,#fe3900 14.5px,#f84900 15.5px,#fd0300 16.5px,#fd0300 17.5px,#fc4300 18.5px,#fc0500 19.5px,#f90100 20.5px,#f90100 21.5px,#fe0900 22.5px,#f81200 23.5px,#f81200 24.5px,#f90800 25.5px,#f90800 26.5px,#fe4600 27.5px,#fd1a00 28.5px,#fd1a00 29.5px,#f90600 30.5px,#f80500 31.5px,#fe0300 32.5px,#f53c00 33.5px,#f53c00 34.5px,#f90900 35.5px,#f90600 36.5px,#fe0d00 37.5px,#fb0900 38.5px,#fb0900 39.5px,#fd0400 40.5px,#f65900 41.5px,#f65900 42.5px,#f93600 43.5px,#fd0d00 44.5px,#f70200 45.5px,#f91400 46.5px,#fa2600 47.5px,#fa2600 48.5px,#f74400 49.5px,#f96000 50.5px,#f71a00 51.5px,#fa0f00 52.5px,#ff6200 53.5px,#ff6200 54.5px,#fd0900 55.5px,#fd0600 56.5px,#f81900 57.5px,#fb3900 58.5px,#f60500 59.5px,#f60500 60.5px,#f60f00 61.5px,#fb5d00 62.5px,#f55400 63.5px,#f55400 64.5px,#f65200 65.5px,#f65200 66.5px,#f90a00 67.5px,#fb5100 68.5px,#fb5100 69.5px,#fc1100 70.5px,#f53300 71.5px,#f53300 72.5px,#fd3900 73.5px,#f56c00 74.5px,#fe2300 75.5px,#fb1c00 76.5px,#fb1c00 77.5px,#f64c00 78.5px,#f96100 79.5px,#fb8700 80.5px,#fb8700 81.5px,#f84200 82.5px,#f60700 83.5px,#f90600 84.5px,#f90600 85.5px,#f90b00 86.5px,#f90b00 87.5px,#fc0700 88.5px,#fa0e00 89.5px,#f80a00 90.5px,#fc0500 91.5px,#fc0500 92.5px,#f50a00 93.5px,#fe4600 94.5px,#fe4600 95.5px,#fb4300 96.5px,#fb0100 97.5px,#fb0100 98.5px,#fb1200 99.5px,#f70700 100.5px,#f70700 101.5px,#fc7300 102.5px,#f53000 103.5px,#f50300 104.5px,#f50300 105.5px,#f92600 106.5px,#f53c00 107.5px,#f53c00 108.5px,#fd1d00 109.5px,#fd1d00 110.5px,#f55900 111.5px,#f62300 112.5px,#f85100 113.5px,#f85100 114.5px,#fe1000 115.5px,#fe1000 116.5px,#f52200 117.5px,#f52200 118.5px,#fa5c00 119.5px,#fa5c00 120.5px,#f60a00 121.5px,#f50100 122.5px,#f50100 123.5px,#f81000 124.5px,#fc0400 125.5px,#f62700 126.5px,#fe5400 127.5px,#fe5400 128.5px,#f85200 129.5px,#fa0700 130.5px,#fa0700 131.5px,#f70500 132.5px,#f70500 133.5px,#fc1100 134.5px,#f80b00 135.5px,#f73100 136.5px,#f97000 137.5px,#fe1500 138.5px,#fe1500 139.5px,#fa4b00 140.5px,#fa4b00 141.5px,#fb0100 142.5px,#f63500 143.5px,#f63500 144.5px,#fc1700 145.5px,#fe2500 146.5px,#fe4200 147.5px,#f65200 148.5px,#f65200 149.5px,#fe3100 150.5px,#fa1500 151.5px,#fa3b00 152.5px,#fa3b00 153.5px,#f65500 154.5px,#fd3c00 155.5px,#fd3c00 156.5px,#f71200 157.5px,#f71200 158.5px,#fd0400 159.5px,#fb4e00 160.5px,#fb4e00 161.5px,#f50e00 162.5px,#f50e00 163.5px,#f80c00 164.5px,#f60c00 165.5px,#fd0300 166.5px,#fd0300 167.5px,#ff0300 168.5px,#f76f00 169.5px,#f76f00 170.5px,#f90700 171.5px,#fe0f00 172.5px,#fa0c00 173.5px,#fe4f00 174.5px,#f51200 175.5px,#f81a00 176.5px,#fa1a00 177.5px,#f98000 178.5px,#f98000 179.5px,#ff3a00 180.5px,#fb0b00 181.5px,#fb0b00 182.5px,#f70700 183.5px,#fa4e00 184.5px,#f61900 185.5px,#fe0500 186.5px,#fe0500 187.5px,#f83900 188.5px,#f93600 189.5px,#f75f00 190.5px,#fe1300 191.5px,#fa0100 192.5px,#f84600 193.5px,#f84600 194.5px,#fa0a00 195.5px,#fe0f00 196.5px,#fc0800 197.5px,#f97400 198.5px,#f97400 199.5px,#fb2500 200.5px,#f72e00 201.5px,#f85500 202.5px,#fe2f00 203.5px,#fd0d00 204.5px,#fd0d00 205.5px,#f80600 206.5px,#f80600 207.5px,#fb0600 208.5px,#fd0b00 209.5px,#f94200 210.5px,#fe0500 211.5px,#fe0500 212.5px,#f80a00 213.5px,#f92300 214.5px,#f92300 215.5px,#fe4600 216.5px,#ff1b00 217.5px,#f93200 218.5px,#f86100 219.5px,#f96100 220.5px,#fc1000 221.5px,#fd3f00 222.5px,#fd3f00 223.5px,#fe1300 224.5px,#fd1500 225.5px,#f90800 226.5px,#f90800 227.5px,#fd1500 228.5px,#fd4e00 229.5px,#f63f00 230.5px,#f72200 231.5px,#f72200 232.5px,#f64000 233.5px,#f70300 234.5px,#f70300 235.5px,#f62200 236.5px,#f50600 237.5px,#fd1400 238.5px,#fd1400 239.5px,#fd2500 240.5px,#f91800 241.5px,#fd0900 242.5px,#fd0900 243.5px,#fc0500 244.5px,#f74a00 245.5px,#f81900 246.5px,#f81900 247.5px,#f76e00 248.5px,#fe1400 249.5px,#fe1400 250.5px,#f61100 251.5px,#f90500 252.5px,#fb0500 253.5px,#fb0500 254.5px,#f50100 255.5px,#f80300 256.5px,#f90c00 257.5px)"></div><div class="r" style="top:113.85px;background:linear-gradient(90deg,#fd3800 0.5px,#fa0b00 1.5px,#fa0b00 2.5px,#f78100 3.5px,#fe1700 4.5px,#fe1700 5.5px,#fe2900 6.5px,#fe2900 7.5px,#f70300 8.5px,#f70300 9.5px,#f50b00 10.5px,#fb1900 11.5px,#fb1900 12.5px,#f70c00 13.5px,#f70c00 14.5px,#f20 15.5px,#f20 16.5px,#f60c00 17.5px,#f60c00 18.5px,#fb4900 19.5px,#fb4900 20.5px,#f80f00 21.5px,#f80f00 22.5px,#fb0800 23.5px,#fb0800 24.5px,#f97f00 25.5px,#f71200 26.5px,#fd3600 27.5px,#fd3600 28.5px,#fa0400 29.5px,#f50800 30.5px,#fc8900 31.5px,#fb0e00 32.5px,#f70300 33.5px,#f50400 34.5px,#ff0c00 35.5px,#fd0900 36.5px,#fd0900 37.5px,#f50d00 38.5px,#fa7800 39.5px,#fa0e00 40.5px,#fb7500 41.5px,#f64200 42.5px,#f65800 43.5px,#f65800 44.5px,#fc7000 45.5px,#fc7000 46.5px,#fc4900 47.5px,#f61900 48.5px,#f61900 49.5px,#f63600 50.5px,#f63600 51.5px,#f86200 52.5px,#f52800 53.5px,#fd5800 54.5px,#fd5800 55.5px,#f83800 56.5px,#fc5900 57.5px,#fd0b00 58.5px,#fd0b00 59.5px,#f71b00 60.5px,#f71b00 61.5px,#fa0400 62.5px,#f95000 63.5px,#f74200 64.5px,#f98500 65.5px,#fa1000 66.5px,#fa1000 67.5px,#fc1d00 68.5px,#fc1d00 69.5px,#fd0600 70.5px,#f86200 71.5px,#fe3a00 72.5px,#fe3a00 73.5px,#fd0100 74.5px,#fd0100 75.5px,#fa1500 76.5px,#f70200 77.5px,#f70200 78.5px,#f91b00 79.5px,#fb0900 80.5px,#fb0900 81.5px,#f90600 82.5px,#fc5800 83.5px,#fc5800 84.5px,#fb0c00 85.5px,#fb0c00 86.5px,#f90200 87.5px,#ff0d00 88.5px,#ff0d00 89.5px,#fc0100 90.5px,#fc0100 91.5px,#f61400 92.5px,#f61400 93.5px,#fc5b00 94.5px,#f50300 95.5px,#f70b00 96.5px,#f70b00 97.5px,#fc1000 98.5px,#f52c00 99.5px,#f54700 100.5px,#fb0a00 101.5px,#fb0a00 102.5px,#fb4600 103.5px,#fd1900 104.5px,#fd1900 105.5px,#f64a00 106.5px,#ff1f00 107.5px,#fe6500 108.5px,#fd3400 109.5px,#fd3400 110.5px,#fd1000 111.5px,#f55700 112.5px,#fa2300 113.5px,#fe5700 114.5px,#f50f00 115.5px,#f50f00 116.5px,#fa5f00 117.5px,#fa5f00 118.5px,#fa5300 119.5px,#f73300 120.5px,#f71100 121.5px,#f71100 122.5px,#fc0300 123.5px,#fc0300 124.5px,#fa2d00 125.5px,#fa0400 126.5px,#fa0400 127.5px,#fe1300 128.5px,#fd2300 129.5px,#fd2300 130.5px,#fc7e00 131.5px,#fb4100 132.5px,#f90d00 133.5px,#f90d00 134.5px,#fa0500 135.5px,#fa0500 136.5px,#f90500 137.5px,#f93400 138.5px,#f93400 139.5px,#fd1600 140.5px,#fe0d00 141.5px,#f92600 142.5px,#fd0800 143.5px,#f60b00 144.5px,#f60b00 145.5px,#f93600 146.5px,#ff3500 147.5px,#ff3500 148.5px,#f56a00 149.5px,#fe1600 150.5px,#fe1600 151.5px,#fc1a00 152.5px,#f62800 153.5px,#fb2a00 154.5px,#f64500 155.5px,#f92c00 156.5px,#f92c00 157.5px,#fa2700 158.5px,#fc0900 159.5px,#f80300 160.5px,#f80300 161.5px,#fd0700 162.5px,#fd0700 163.5px,#f80d00 164.5px,#f80d00 165.5px,#fb0400 166.5px,#fb0400 167.5px,#f60c00 168.5px,#f60c00 169.5px,#f90500 170.5px,#f90500 171.5px,#f63800 172.5px,#fc1900 173.5px,#f80500 174.5px,#fc2300 175.5px,#f90100 176.5px,#f90100 177.5px,#f50e00 178.5px,#fa4c00 179.5px,#fa4c00 180.5px,#f83f00 181.5px,#f83100 182.5px,#f83100 183.5px,#f70400 184.5px,#fa1100 185.5px,#fa1100 186.5px,#f82400 187.5px,#f60800 188.5px,#f60800 189.5px,#f50b00 190.5px,#f50b00 191.5px,#fb6900 192.5px,#fb6900 193.5px,#f94d00 194.5px,#f94d00 195.5px,#fc3800 196.5px,#f94d00 197.5px,#f94d00 198.5px,#fb1b00 199.5px,#fb1b00 200.5px,#f93900 201.5px,#f93900 202.5px,#f53600 203.5px,#fe2c00 204.5px,#fc0700 205.5px,#fc0700 206.5px,#fc0e00 207.5px,#fc0a00 208.5px,#fd0a00 209.5px,#fd0a00 210.5px,#f60f00 211.5px,#f60f00 212.5px,#f50a00 213.5px,#fc3b00 214.5px,#fc3b00 215.5px,#fb1c00 216.5px,#fb1c00 217.5px,#fd0a00 218.5px,#fd7f00 219.5px,#fe1d00 220.5px,#fe1d00 221.5px,#fb5f00 222.5px,#f55c00 223.5px,#f55c00 224.5px,#f92500 225.5px,#f93000 226.5px,#fa1600 227.5px,#f81100 228.5px,#fc5800 229.5px,#f65400 230.5px,#f65400 231.5px,#f91200 232.5px,#fc1700 233.5px,#fe6100 234.5px,#fe6100 235.5px,#f62d00 236.5px,#fd0400 237.5px,#fd0400 238.5px,#f84b00 239.5px,#f91b00 240.5px,#fa4000 241.5px,#fd6d00 242.5px,#fd6d00 243.5px,#fe0f00 244.5px,#fe0f00 245.5px,#ff0900 246.5px,#f72a00 247.5px,#f81400 248.5px,#f81400 249.5px,#f64200 250.5px,#f64200 251.5px,#f80100 252.5px,#f80100 253.5px,#f60d00 254.5px,#f60d00 255.5px,#f50c00 256.5px,#fe0b00 257.5px)"></div><div class="r" style="top:106.73px;background:linear-gradient(90deg,#f65700 0.5px,#fa8800 1.5px,#fa8800 2.5px,#fa1400 3.5px,#fa0100 4.5px,#fa0100 5.5px,#fa1900 6.5px,#fa1900 7.5px,#f90100 8.5px,#f90100 9.5px,#f70800 10.5px,#f70800 11.5px,#f85a00 12.5px,#fa0900 13.5px,#fd0800 14.5px,#ff4f00 15.5px,#f87c00 16.5px,#f81a00 17.5px,#fe0200 18.5px,#fb2d00 19.5px,#fb2d00 20.5px,#fc0400 21.5px,#ff2c00 22.5px,#ff2c00 23.5px,#f80200 24.5px,#f80200 25.5px,#fe6500 26.5px,#fe6500 27.5px,#f96600 28.5px,#fe0a00 29.5px,#fe0a00 30.5px,#fa0a00 31.5px,#fe0100 32.5px,#fe0100 33.5px,#fd0500 34.5px,#fc0900 35.5px,#f60c00 36.5px,#f60c00 37.5px,#fd0d00 38.5px,#fd0d00 39.5px,#fc0700 40.5px,#fb2e00 41.5px,#fb6100 42.5px,#fb6100 43.5px,#fd5600 44.5px,#f56100 45.5px,#fc0e00 46.5px,#f71700 47.5px,#fe2300 48.5px,#fb1600 49.5px,#fb1600 50.5px,#fe4300 51.5px,#fe4300 52.5px,#f66000 53.5px,#ff1200 54.5px,#ff1200 55.5px,#f71700 56.5px,#f72300 57.5px,#f72300 58.5px,#fa0d00 59.5px,#fa0d00 60.5px,#ff0a00 61.5px,#f70d00 62.5px,#fb1700 63.5px,#fb1700 64.5px,#fd0400 65.5px,#fd0400 66.5px,#fb0800 67.5px,#f70400 68.5px,#f70400 69.5px,#fa5500 70.5px,#fa5c00 71.5px,#f84200 72.5px,#fc3600 73.5px,#f71500 74.5px,#f80800 75.5px,#f80800 76.5px,#f61100 77.5px,#f70100 78.5px,#f61c00 79.5px,#f61c00 80.5px,#f95e00 81.5px,#fa2800 82.5px,#fe1100 83.5px,#f70d00 84.5px,#f70d00 85.5px,#f80100 86.5px,#f80600 87.5px,#f80600 88.5px,#fd0200 89.5px,#fd0200 90.5px,#fd1400 91.5px,#fd1400 92.5px,#f70900 93.5px,#f70900 94.5px,#f80f00 95.5px,#f80f00 96.5px,#f97c00 97.5px,#f97c00 98.5px,#f74200 99.5px,#fe5700 100.5px,#fe5700 101.5px,#ff0800 102.5px,#fb1100 103.5px,#f82600 104.5px,#f82600 105.5px,#f53400 106.5px,#f53400 107.5px,#fa1e00 108.5px,#fa1e00 109.5px,#fc5500 110.5px,#fc5500 111.5px,#fc1400 112.5px,#fc1400 113.5px,#fa1b00 114.5px,#f62000 115.5px,#fc0100 116.5px,#fb6100 117.5px,#fc0e00 118.5px,#fc0e00 119.5px,#fb0a00 120.5px,#f68600 121.5px,#f68600 122.5px,#f80700 123.5px,#ff0200 124.5px,#ff2a00 125.5px,#f52200 126.5px,#ff1500 127.5px,#ff1500 128.5px,#f91000 129.5px,#f91000 130.5px,#f67b00 131.5px,#fb1800 132.5px,#fb1800 133.5px,#f85b00 134.5px,#fa3100 135.5px,#fa1000 136.5px,#fc1500 137.5px,#f62a00 138.5px,#ff0500 139.5px,#fc8600 140.5px,#fd0b00 141.5px,#f71500 142.5px,#f71500 143.5px,#fe1700 144.5px,#fe1700 145.5px,#f80300 146.5px,#fa2500 147.5px,#fb0300 148.5px,#f74e00 149.5px,#fa3e00 150.5px,#fa3e00 151.5px,#f74000 152.5px,#f74000 153.5px,#f65200 154.5px,#fa0100 155.5px,#fe6100 156.5px,#fe6100 157.5px,#f80000 158.5px,#fe1500 159.5px,#fd6200 160.5px,#fd6200 161.5px,#ff0c00 162.5px,#f90600 163.5px,#fb0200 164.5px,#f60500 165.5px,#f60500 166.5px,#fe0b00 167.5px,#f90800 168.5px,#f90800 169.5px,#ff0800 170.5px,#fb0100 171.5px,#fb0100 172.5px,#f61500 173.5px,#f61500 174.5px,#fd0100 175.5px,#fb4100 176.5px,#fb4100 177.5px,#f84100 178.5px,#f83400 179.5px,#f83400 180.5px,#fe2900 181.5px,#f90200 182.5px,#f90200 183.5px,#fc0400 184.5px,#fc0400 185.5px,#f94700 186.5px,#fb0600 187.5px,#fb0600 188.5px,#ff6100 189.5px,#fd1b00 190.5px,#fa4900 191.5px,#fb3100 192.5px,#f63d00 193.5px,#f63d00 194.5px,#f81200 195.5px,#f81200 196.5px,#f80900 197.5px,#f65500 198.5px,#f83700 199.5px,#f83700 200.5px,#f91c00 201.5px,#fe4000 202.5px,#fe4000 203.5px,#fb0f00 204.5px,#fe0700 205.5px,#fa0c00 206.5px,#f60400 207.5px,#f80100 208.5px,#f80100 209.5px,#f60e00 210.5px,#f60b00 211.5px,#f62e00 212.5px,#f94600 213.5px,#fd5900 214.5px,#fd5900 215.5px,#ff2400 216.5px,#fd6500 217.5px,#fe0f00 218.5px,#fe0f00 219.5px,#fb3800 220.5px,#fc0f00 221.5px,#fc0f00 222.5px,#fa6000 223.5px,#fa6000 224.5px,#f90200 225.5px,#f90200 226.5px,#fb5d00 227.5px,#fc4800 228.5px,#fc4800 229.5px,#fe0900 230.5px,#fe0900 231.5px,#f60700 232.5px,#f70100 233.5px,#f70100 234.5px,#f64400 235.5px,#fa4000 236.5px,#fb5200 237.5px,#fb5200 238.5px,#f61d00 239.5px,#f61d00 240.5px,#f84a00 241.5px,#fd0700 242.5px,#f71d00 243.5px,#f70100 244.5px,#fa3f00 245.5px,#fa3f00 246.5px,#fe1c00 247.5px,#fe1c00 248.5px,#ff1500 249.5px,#ff1500 250.5px,#fa6000 251.5px,#ff0600 252.5px,#ff0600 253.5px,#f60200 254.5px,#f70b00 255.5px,#fe3600 256.5px,#fa2200 257.5px)"></div><div class="r" style="top:99.62px;background:linear-gradient(90deg,#fd0f00 0.5px,#fd0f00 1.5px,#f61100 2.5px,#f61100 3.5px,#fe0900 4.5px,#fd3f00 5.5px,#fd3f00 6.5px,#f80e00 7.5px,#f80e00 8.5px,#f61900 9.5px,#fd1500 10.5px,#f73700 11.5px,#f73700 12.5px,#fe0a00 13.5px,#fc3700 14.5px,#f70900 15.5px,#fc6200 16.5px,#fc6200 17.5px,#f70700 18.5px,#ff3200 19.5px,#ff3200 20.5px,#fe5800 21.5px,#fe2700 22.5px,#fe2700 23.5px,#f84d00 24.5px,#fe1f00 25.5px,#fd0e00 26.5px,#fc4300 27.5px,#fd0800 28.5px,#fc5300 29.5px,#fc2c00 30.5px,#ff0800 31.5px,#fd0200 32.5px,#f93900 33.5px,#fa0a00 34.5px,#fe0900 35.5px,#f50500 36.5px,#f50500 37.5px,#f90200 38.5px,#f60500 39.5px,#f70800 40.5px,#f70800 41.5px,#f61200 42.5px,#f61200 43.5px,#fc0c00 44.5px,#fc0c00 45.5px,#fe1e00 46.5px,#f53900 47.5px,#fc3800 48.5px,#fd1900 49.5px,#fd1900 50.5px,#f63800 51.5px,#f63800 52.5px,#fd1200 53.5px,#f54f00 54.5px,#f54f00 55.5px,#ff0300 56.5px,#f72600 57.5px,#f51400 58.5px,#f71b00 59.5px,#f71b00 60.5px,#fe4e00 61.5px,#fe4e00 62.5px,#ff0f00 63.5px,#f51200 64.5px,#f60500 65.5px,#f63500 66.5px,#f63500 67.5px,#f96700 68.5px,#fc0100 69.5px,#fc0100 70.5px,#f90700 71.5px,#fa7f00 72.5px,#fa7f00 73.5px,#fd3700 74.5px,#fa0700 75.5px,#fa0700 76.5px,#f65700 77.5px,#f65700 78.5px,#f72c00 79.5px,#f72c00 80.5px,#fb0d00 81.5px,#f64f00 82.5px,#f50300 83.5px,#f50300 84.5px,#f70e00 85.5px,#fd0b00 86.5px,#fd0b00 87.5px,#f90200 88.5px,#f55d00 89.5px,#f55d00 90.5px,#f54500 91.5px,#f80100 92.5px,#f80100 93.5px,#fe7b00 94.5px,#f52200 95.5px,#f52200 96.5px,#f94100 97.5px,#f94100 98.5px,#f75200 99.5px,#f90d00 100.5px,#f90d00 101.5px,#fe6100 102.5px,#fd4600 103.5px,#fd4600 104.5px,#fe0800 105.5px,#fe0800 106.5px,#fc1500 107.5px,#f93600 108.5px,#f80b00 109.5px,#f80b00 110.5px,#fa1e00 111.5px,#fa1e00 112.5px,#f90f00 113.5px,#f90800 114.5px,#fd3d00 115.5px,#fd3d00 116.5px,#fe4800 117.5px,#fe4800 118.5px,#f81600 119.5px,#f94a00 120.5px,#fc1000 121.5px,#fa3700 122.5px,#fa3700 123.5px,#f73500 124.5px,#fe5000 125.5px,#fa0000 126.5px,#fa0000 127.5px,#f64300 128.5px,#f53c00 129.5px,#f53c00 130.5px,#f50d00 131.5px,#f95400 132.5px,#fc3d00 133.5px,#fc3d00 134.5px,#f65c00 135.5px,#fa3200 136.5px,#f60100 137.5px,#f60100 138.5px,#fe1c00 139.5px,#fa4700 140.5px,#fa4700 141.5px,#f85c00 142.5px,#fa1400 143.5px,#fa1400 144.5px,#f65200 145.5px,#f65200 146.5px,#f64700 147.5px,#fb3800 148.5px,#f50500 149.5px,#f50500 150.5px,#f90d00 151.5px,#f90d00 152.5px,#fa5100 153.5px,#fe1800 154.5px,#f70600 155.5px,#f73a00 156.5px,#f73a00 157.5px,#f64100 158.5px,#f64100 159.5px,#fe0000 160.5px,#fe0000 161.5px,#fd0800 162.5px,#fd0800 163.5px,#fc0200 164.5px,#f60400 165.5px,#f52e00 166.5px,#f70d00 167.5px,#f80d00 168.5px,#f80d00 169.5px,#fc0600 170.5px,#fc0600 171.5px,#f50f00 172.5px,#fe1000 173.5px,#fe1000 174.5px,#f90300 175.5px,#f90300 176.5px,#f80c00 177.5px,#fe8900 178.5px,#fe8900 179.5px,#fd0d00 180.5px,#fd0d00 181.5px,#fc7d00 182.5px,#fc7d00 183.5px,#fd3f00 184.5px,#fc6500 185.5px,#fc6500 186.5px,#fd6800 187.5px,#f51100 188.5px,#ff5900 189.5px,#ff5900 190.5px,#fc1200 191.5px,#f62200 192.5px,#f62200 193.5px,#f82d00 194.5px,#f82d00 195.5px,#fd2800 196.5px,#fb8400 197.5px,#fb8400 198.5px,#fc1900 199.5px,#fc1900 200.5px,#fa4a00 201.5px,#fa4100 202.5px,#fa3d00 203.5px,#f64b00 204.5px,#f80c00 205.5px,#f80c00 206.5px,#fd0300 207.5px,#f90900 208.5px,#f90900 209.5px,#f60900 210.5px,#fc1800 211.5px,#fa1100 212.5px,#fe0e00 213.5px,#f50500 214.5px,#f50500 215.5px,#fd4d00 216.5px,#fd4d00 217.5px,#f61000 218.5px,#f80200 219.5px,#fa4300 220.5px,#fa4300 221.5px,#fd1600 222.5px,#f80200 223.5px,#f80200 224.5px,#f60b00 225.5px,#f60b00 226.5px,#fc0b00 227.5px,#fc0b00 228.5px,#fe4500 229.5px,#fa3d00 230.5px,#fa3d00 231.5px,#f64b00 232.5px,#fc0c00 233.5px,#f71c00 234.5px,#f64a00 235.5px,#f64a00 236.5px,#f96d00 237.5px,#f96000 238.5px,#fe3f00 239.5px,#f71200 240.5px,#f71200 241.5px,#f75e00 242.5px,#fd5e00 243.5px,#fd5e00 244.5px,#fb8500 245.5px,#fb8500 246.5px,#f60f00 247.5px,#f60f00 248.5px,#f90700 249.5px,#f90700 250.5px,#f60d00 251.5px,#f90700 252.5px,#f90c00 253.5px,#f90c00 254.5px,#f80800 255.5px,#f80800 256.5px,#ff0800 257.5px)"></div><div class="r" style="top:92.50px;background:linear-gradient(90deg,#fb0100 0.5px,#fb0100 1.5px,#fd0f00 2.5px,#fb1700 3.5px,#ff1500 4.5px,#fe6300 5.5px,#fd1400 6.5px,#fb1500 7.5px,#fa0f00 8.5px,#fd3000 9.5px,#fd3000 10.5px,#fc1500 11.5px,#fc1500 12.5px,#f84c00 13.5px,#f84c00 14.5px,#fe5700 15.5px,#f91c00 16.5px,#f81100 17.5px,#f81100 18.5px,#fd1a00 19.5px,#fb1200 20.5px,#fb1200 21.5px,#fc1100 22.5px,#fe5300 23.5px,#fe5300 24.5px,#fa0b00 25.5px,#f81700 26.5px,#f51500 27.5px,#f94500 28.5px,#fb0900 29.5px,#f90900 30.5px,#f90900 31.5px,#fe3100 32.5px,#fe3100 33.5px,#f00 34.5px,#f70100 35.5px,#fc0d00 36.5px,#fc0d00 37.5px,#f60d00 38.5px,#f55600 39.5px,#f80f00 40.5px,#fa0200 41.5px,#fa0200 42.5px,#fc1600 43.5px,#fb3a00 44.5px,#fb0800 45.5px,#fb0800 46.5px,#f83500 47.5px,#f83500 48.5px,#f85900 49.5px,#f85900 50.5px,#f81a00 51.5px,#ff2d00 52.5px,#f54d00 53.5px,#ff0100 54.5px,#f83d00 55.5px,#f70a00 56.5px,#f70a00 57.5px,#fe2e00 58.5px,#fe2e00 59.5px,#f61200 60.5px,#f61200 61.5px,#fe4800 62.5px,#fe4800 63.5px,#f75000 64.5px,#f75000 65.5px,#fe7700 66.5px,#f71400 67.5px,#f71400 68.5px,#fe1100 69.5px,#f96300 70.5px,#f96300 71.5px,#fa0300 72.5px,#fa0300 73.5px,#fa0e00 74.5px,#fb0a00 75.5px,#fa0600 76.5px,#fa0600 77.5px,#f65900 78.5px,#f60b00 79.5px,#fc0300 80.5px,#fc0300 81.5px,#f90d00 82.5px,#f73300 83.5px,#fd0100 84.5px,#fd0100 85.5px,#f60100 86.5px,#f90000 87.5px,#f90000 88.5px,#f70400 89.5px,#f60200 90.5px,#f84200 91.5px,#f84200 92.5px,#f81200 93.5px,#fd5500 94.5px,#fd5500 95.5px,#f54e00 96.5px,#fe4b00 97.5px,#fc5e00 98.5px,#fe6500 99.5px,#fa7000 100.5px,#fa4000 101.5px,#fa4000 102.5px,#fe2c00 103.5px,#fe2c00 104.5px,#fa1400 105.5px,#f73200 106.5px,#fe3400 107.5px,#f95e00 108.5px,#f95e00 109.5px,#f50d00 110.5px,#f53100 111.5px,#f53100 112.5px,#ff3500 113.5px,#ff3500 114.5px,#fc1a00 115.5px,#f65700 116.5px,#f83b00 117.5px,#f83b00 118.5px,#fa5800 119.5px,#fd0e00 120.5px,#fd0e00 121.5px,#fc0000 122.5px,#f80500 123.5px,#fe1100 124.5px,#fe1100 125.5px,#f50d00 126.5px,#fa0300 127.5px,#ff7300 128.5px,#ff7300 129.5px,#fc5d00 130.5px,#fc5d00 131.5px,#fe5f00 132.5px,#f90c00 133.5px,#fe1b00 134.5px,#fe1b00 135.5px,#f80d00 136.5px,#f80d00 137.5px,#fe4400 138.5px,#f61000 139.5px,#f90700 140.5px,#f56d00 141.5px,#f90500 142.5px,#f90500 143.5px,#fc0500 144.5px,#fa0a00 145.5px,#f93700 146.5px,#fc1900 147.5px,#f70700 148.5px,#f70700 149.5px,#fb3400 150.5px,#f66000 151.5px,#fd6400 152.5px,#fd6400 153.5px,#fa1d00 154.5px,#fa1d00 155.5px,#fb3a00 156.5px,#f88c00 157.5px,#fd1b00 158.5px,#fe6200 159.5px,#f60f00 160.5px,#fb0c00 161.5px,#f80600 162.5px,#f80600 163.5px,#f60200 164.5px,#fa0a00 165.5px,#fa0c00 166.5px,#fa0c00 167.5px,#fc0100 168.5px,#f70500 169.5px,#fe0700 170.5px,#fe0700 171.5px,#f90100 172.5px,#fe1300 173.5px,#fb2600 174.5px,#fa1a00 175.5px,#fa0400 176.5px,#fc3500 177.5px,#f90300 178.5px,#f90300 179.5px,#fd2700 180.5px,#fd2700 181.5px,#f92600 182.5px,#f92600 183.5px,#f60c00 184.5px,#ff1900 185.5px,#ff1900 186.5px,#fe1500 187.5px,#fe1500 188.5px,#fe5600 189.5px,#fe5600 190.5px,#fa1300 191.5px,#fa1300 192.5px,#f97e00 193.5px,#f94c00 194.5px,#f95700 195.5px,#f61d00 196.5px,#f61d00 197.5px,#fc0500 198.5px,#fc5900 199.5px,#fc5900 200.5px,#fd3700 201.5px,#fd3700 202.5px,#fc3100 203.5px,#fe3300 204.5px,#fe3300 205.5px,#fb0d00 206.5px,#fb0d00 207.5px,#f77d00 208.5px,#f77d00 209.5px,#fe0400 210.5px,#fe0400 211.5px,#f73c00 212.5px,#f65800 213.5px,#f65800 214.5px,#f66100 215.5px,#ff0700 216.5px,#f81a00 217.5px,#f71400 218.5px,#f71400 219.5px,#fb1900 220.5px,#fb1900 221.5px,#f71900 222.5px,#fb8300 223.5px,#fb8300 224.5px,#fa0600 225.5px,#f81d00 226.5px,#f97100 227.5px,#f97100 228.5px,#f53f00 229.5px,#f53f00 230.5px,#ff1f00 231.5px,#f74000 232.5px,#f90900 233.5px,#f90900 234.5px,#ff6400 235.5px,#ff6400 236.5px,#fc7f00 237.5px,#f75800 238.5px,#f75800 239.5px,#f92600 240.5px,#f92600 241.5px,#fa5d00 242.5px,#fd0900 243.5px,#fe0700 244.5px,#fb5a00 245.5px,#f60200 246.5px,#f60200 247.5px,#fa3c00 248.5px,#fa3c00 249.5px,#fa6400 250.5px,#fa6400 251.5px,#f73400 252.5px,#f90200 253.5px,#f80400 254.5px,#f50200 255.5px,#fd0400 256.5px,#fc3a00 257.5px)"></div><div class="r" style="top:85.39px;background:linear-gradient(90deg,#f54300 0.5px,#f90f00 1.5px,#f90f00 2.5px,#f70100 3.5px,#fc0f00 4.5px,#f83a00 5.5px,#f83a00 6.5px,#f81900 7.5px,#f90d00 8.5px,#f90100 9.5px,#f84500 10.5px,#f84500 11.5px,#fb5900 12.5px,#f64a00 13.5px,#fd6a00 14.5px,#fe0c00 15.5px,#fe0c00 16.5px,#fd1100 17.5px,#fd1100 18.5px,#f74900 19.5px,#f71b00 20.5px,#fc7300 21.5px,#f73a00 22.5px,#f73a00 23.5px,#f88100 24.5px,#f88100 25.5px,#f81800 26.5px,#f81800 27.5px,#f73c00 28.5px,#f73c00 29.5px,#fd1400 30.5px,#f50100 31.5px,#f50100 32.5px,#f80600 33.5px,#f80600 34.5px,#f80a00 35.5px,#fd0900 36.5px,#fa0e00 37.5px,#fa0500 38.5px,#fa0500 39.5px,#ff0b00 40.5px,#ff0b00 41.5px,#fc0300 42.5px,#fc0300 43.5px,#fa3700 44.5px,#f30 45.5px,#fa0800 46.5px,#fa0800 47.5px,#fe0400 48.5px,#fe0400 49.5px,#f93000 50.5px,#f93000 51.5px,#f74000 52.5px,#fd1700 53.5px,#fd1700 54.5px,#fd4e00 55.5px,#f70200 56.5px,#f70200 57.5px,#fa1000 58.5px,#fc1c00 59.5px,#f97a00 60.5px,#fa2c00 61.5px,#f83100 62.5px,#f62200 63.5px,#f54300 64.5px,#f60d00 65.5px,#f60d00 66.5px,#f94800 67.5px,#f50000 68.5px,#fd4900 69.5px,#f60400 70.5px,#f54d00 71.5px,#fe0300 72.5px,#fe0300 73.5px,#f50200 74.5px,#f50200 75.5px,#fe1700 76.5px,#fe1700 77.5px,#fc2700 78.5px,#fc2700 79.5px,#fb5800 80.5px,#fb5800 81.5px,#f60d00 82.5px,#f60d00 83.5px,#f50a00 84.5px,#f60c00 85.5px,#f60c00 86.5px,#f60100 87.5px,#f60100 88.5px,#f50d00 89.5px,#f50700 90.5px,#fc1100 91.5px,#fe0400 92.5px,#fe0400 93.5px,#fd1a00 94.5px,#fe0100 95.5px,#fb5000 96.5px,#f80f00 97.5px,#f80f00 98.5px,#ff4a00 99.5px,#ff4a00 100.5px,#f51500 101.5px,#fb8a00 102.5px,#fe0200 103.5px,#fc1c00 104.5px,#fc1c00 105.5px,#f62c00 106.5px,#f62c00 107.5px,#f94300 108.5px,#f94300 109.5px,#f95600 110.5px,#f95600 111.5px,#f55200 112.5px,#fc0300 113.5px,#f55200 114.5px,#f55200 115.5px,#f50 116.5px,#f50 117.5px,#f87300 118.5px,#fe2400 119.5px,#fe2400 120.5px,#f82d00 121.5px,#f82d00 122.5px,#f75b00 123.5px,#ff0600 124.5px,#f90000 125.5px,#fd2b00 126.5px,#fd2b00 127.5px,#fb5e00 128.5px,#f50e00 129.5px,#fe2800 130.5px,#fe2800 131.5px,#fa3b00 132.5px,#fe5600 133.5px,#fa4e00 134.5px,#fa1a00 135.5px,#fa1a00 136.5px,#ff1300 137.5px,#fb8900 138.5px,#fa0e00 139.5px,#f61b00 140.5px,#f61b00 141.5px,#f64600 142.5px,#f64600 143.5px,#fc1700 144.5px,#fc1700 145.5px,#fd0300 146.5px,#fd0300 147.5px,#fb8e00 148.5px,#fb8e00 149.5px,#fe1000 150.5px,#fd0c00 151.5px,#fd0c00 152.5px,#fa0c00 153.5px,#fa0c00 154.5px,#f97e00 155.5px,#fa0d00 156.5px,#fe8000 157.5px,#fe8000 158.5px,#f53f00 159.5px,#fc0200 160.5px,#fc0200 161.5px,#f60200 162.5px,#f60200 163.5px,#f72700 164.5px,#f72700 165.5px,#fb0100 166.5px,#fb0100 167.5px,#fa0a00 168.5px,#f90800 169.5px,#f90800 170.5px,#f70d00 171.5px,#fd0600 172.5px,#fd0600 173.5px,#f85900 174.5px,#fb7f00 175.5px,#fb7f00 176.5px,#f60300 177.5px,#f70a00 178.5px,#fb2a00 179.5px,#fb2a00 180.5px,#fc3000 181.5px,#f90300 182.5px,#f61100 183.5px,#f73700 184.5px,#f52300 185.5px,#f93500 186.5px,#f55500 187.5px,#fe4900 188.5px,#f96300 189.5px,#f96300 190.5px,#f65300 191.5px,#f65300 192.5px,#f91100 193.5px,#fe5200 194.5px,#fd0500 195.5px,#fe5f00 196.5px,#fb0700 197.5px,#fb6100 198.5px,#f60100 199.5px,#f63500 200.5px,#f63500 201.5px,#fe6000 202.5px,#f50b00 203.5px,#f50b00 204.5px,#f80d00 205.5px,#f80d00 206.5px,#f60200 207.5px,#f60200 208.5px,#fa4100 209.5px,#fc0600 210.5px,#fc1400 211.5px,#f84d00 212.5px,#fc0300 213.5px,#f82600 214.5px,#f82d00 215.5px,#f82d00 216.5px,#f64e00 217.5px,#f64e00 218.5px,#fb1b00 219.5px,#fb1b00 220.5px,#f93f00 221.5px,#f93f00 222.5px,#fd4a00 223.5px,#fd4a00 224.5px,#f91b00 225.5px,#f71200 226.5px,#f71200 227.5px,#fd2d00 228.5px,#fd1e00 229.5px,#fd1e00 230.5px,#f75100 231.5px,#f75100 232.5px,#fc1900 233.5px,#fc1900 234.5px,#ff6b00 235.5px,#ff6b00 236.5px,#fd1000 237.5px,#fb6500 238.5px,#fd7300 239.5px,#f84400 240.5px,#f80700 241.5px,#f65f00 242.5px,#fc1700 243.5px,#fd1a00 244.5px,#fd2400 245.5px,#f91300 246.5px,#fd0600 247.5px,#fd0600 248.5px,#fb0200 249.5px,#fa1800 250.5px,#fa1800 251.5px,#f80b00 252.5px,#f80b00 253.5px,#ff0b00 254.5px,#fd0c00 255.5px,#ff0b00 256.5px,#f74a00 257.5px)"></div><div class="r" style="top:78.27px;background:linear-gradient(90deg,#f60a00 0.5px,#fe1900 1.5px,#fa0200 2.5px,#fb1700 3.5px,#fd0200 4.5px,#fe0100 5.5px,#fe0100 6.5px,#fe0d00 7.5px,#fb2a00 8.5px,#fd0800 9.5px,#f60100 10.5px,#f91a00 11.5px,#f91a00 12.5px,#f94c00 13.5px,#f94c00 14.5px,#fc0e00 15.5px,#f30 16.5px,#fa3a00 17.5px,#fa3a00 18.5px,#f62e00 19.5px,#f62e00 20.5px,#f81400 21.5px,#f62f00 22.5px,#fe1400 23.5px,#f63300 24.5px,#f63300 25.5px,#fb1f00 26.5px,#fb1f00 27.5px,#f92200 28.5px,#fd5d00 29.5px,#fd5d00 30.5px,#f90e00 31.5px,#f72100 32.5px,#f72100 33.5px,#fd0300 34.5px,#fd0300 35.5px,#f50700 36.5px,#fd0e00 37.5px,#fe0400 38.5px,#fe0400 39.5px,#fe0200 40.5px,#fd5500 41.5px,#fc1a00 42.5px,#fc1a00 43.5px,#f94200 44.5px,#f94200 45.5px,#f90900 46.5px,#f90900 47.5px,#f62c00 48.5px,#f62c00 49.5px,#f94800 50.5px,#f94800 51.5px,#f71900 52.5px,#f80400 53.5px,#f71200 54.5px,#f91300 55.5px,#f91300 56.5px,#fb0f00 57.5px,#f82400 58.5px,#f70800 59.5px,#fc2a00 60.5px,#fc2a00 61.5px,#f80400 62.5px,#f80400 63.5px,#f75400 64.5px,#fe3000 65.5px,#fe3000 66.5px,#fb0800 67.5px,#f80100 68.5px,#fc2e00 69.5px,#f81700 70.5px,#f81700 71.5px,#fd4200 72.5px,#fb5000 73.5px,#fb5000 74.5px,#fb5900 75.5px,#fb5900 76.5px,#fd0700 77.5px,#fd0700 78.5px,#f53b00 79.5px,#fb0100 80.5px,#fb0100 81.5px,#fc0100 82.5px,#fc0100 83.5px,#f90100 84.5px,#f70300 85.5px,#f50900 86.5px,#f80d00 87.5px,#fa0c00 88.5px,#fa0c00 89.5px,#f80d00 90.5px,#f93b00 91.5px,#f93b00 92.5px,#f60a00 93.5px,#fd1600 94.5px,#fd1600 95.5px,#fa2c00 96.5px,#fa2c00 97.5px,#fd2300 98.5px,#fc2300 99.5px,#fc2300 100.5px,#fd5a00 101.5px,#fd5a00 102.5px,#f70600 103.5px,#f70600 104.5px,#fb1600 105.5px,#f84000 106.5px,#f84000 107.5px,#f93900 108.5px,#f91400 109.5px,#f91400 110.5px,#fe1300 111.5px,#fd5800 112.5px,#f85800 113.5px,#fe0f00 114.5px,#fe0f00 115.5px,#f80600 116.5px,#f80600 117.5px,#f74300 118.5px,#f81000 119.5px,#fc1400 120.5px,#fb0800 121.5px,#fb0800 122.5px,#f80c00 123.5px,#f80c00 124.5px,#f73200 125.5px,#fe3e00 126.5px,#fe3e00 127.5px,#fd0900 128.5px,#fd0900 129.5px,#fe0400 130.5px,#fd1100 131.5px,#fd1100 132.5px,#f50100 133.5px,#f63f00 134.5px,#f63f00 135.5px,#fe5300 136.5px,#fa0a00 137.5px,#f64300 138.5px,#fe0a00 139.5px,#f60600 140.5px,#fa4700 141.5px,#fa4700 142.5px,#fc0d00 143.5px,#fb0a00 144.5px,#fb0a00 145.5px,#f53900 146.5px,#fa6000 147.5px,#fb5b00 148.5px,#fb5b00 149.5px,#fc1e00 150.5px,#f63500 151.5px,#f71d00 152.5px,#fb2f00 153.5px,#f53b00 154.5px,#f53b00 155.5px,#fa1900 156.5px,#fa1900 157.5px,#f52100 158.5px,#fb1500 159.5px,#f90700 160.5px,#fa0400 161.5px,#fa0400 162.5px,#f60b00 163.5px,#fd0300 164.5px,#fd0300 165.5px,#fa0700 166.5px,#fa0700 167.5px,#fa0b00 168.5px,#fd0c00 169.5px,#ff0b00 170.5px,#ff0b00 171.5px,#f82300 172.5px,#f60500 173.5px,#f60500 174.5px,#f50300 175.5px,#fe0d00 176.5px,#f81200 177.5px,#fd0500 178.5px,#f72b00 179.5px,#fe0700 180.5px,#f52f00 181.5px,#f66200 182.5px,#f66200 183.5px,#fd4400 184.5px,#fd4400 185.5px,#f71400 186.5px,#f71400 187.5px,#fd5400 188.5px,#fe3f00 189.5px,#f90600 190.5px,#f80d00 191.5px,#f93200 192.5px,#f93200 193.5px,#fe1000 194.5px,#fe1000 195.5px,#fd1d00 196.5px,#fe1d00 197.5px,#fe1d00 198.5px,#f78300 199.5px,#fb1400 200.5px,#fa5000 201.5px,#f95700 202.5px,#fa0500 203.5px,#f90f00 204.5px,#f90b00 205.5px,#fe0800 206.5px,#fe0800 207.5px,#f90700 208.5px,#f90700 209.5px,#fc2900 210.5px,#fc2900 211.5px,#f80e00 212.5px,#f70d00 213.5px,#fe3400 214.5px,#f56000 215.5px,#f56000 216.5px,#f82100 217.5px,#f82100 218.5px,#fb6100 219.5px,#f66100 220.5px,#f66100 221.5px,#f64000 222.5px,#f64000 223.5px,#f51700 224.5px,#fa0d00 225.5px,#fb6000 226.5px,#f60e00 227.5px,#f60e00 228.5px,#f82d00 229.5px,#f82d00 230.5px,#fb5d00 231.5px,#fa1600 232.5px,#fa1600 233.5px,#f40 234.5px,#fe1300 235.5px,#fe1300 236.5px,#f88500 237.5px,#f88500 238.5px,#fb8200 239.5px,#fe4700 240.5px,#fe4700 241.5px,#fa2400 242.5px,#f80900 243.5px,#f80900 244.5px,#fa3100 245.5px,#fc4b00 246.5px,#fc4b00 247.5px,#fe3100 248.5px,#fe3100 249.5px,#fd0d00 250.5px,#f50300 251.5px,#f50300 252.5px,#fe0500 253.5px,#f50800 254.5px,#f50800 255.5px,#fc0e00 256.5px,#f90500 257.5px)"></div><div class="r" style="top:71.16px;background:linear-gradient(90deg,#fd5800 0.5px,#fd5800 1.5px,#f78b00 2.5px,#f78b00 3.5px,#fb0600 4.5px,#f90400 5.5px,#f90400 6.5px,#fb0900 7.5px,#fb0900 8.5px,#f50400 9.5px,#f50400 10.5px,#fe4600 11.5px,#fe4600 12.5px,#f62600 13.5px,#f70b00 14.5px,#f70b00 15.5px,#fc0f00 16.5px,#fd3500 17.5px,#fe3800 18.5px,#fd8300 19.5px,#fd8300 20.5px,#fd6000 21.5px,#fd6000 22.5px,#fc0d00 23.5px,#f91000 24.5px,#fa2700 25.5px,#fc1100 26.5px,#fc1100 27.5px,#fa1900 28.5px,#fa1900 29.5px,#fb0900 30.5px,#f60500 31.5px,#f60500 32.5px,#fc0400 33.5px,#fe0500 34.5px,#fe0500 35.5px,#f80700 36.5px,#fb0100 37.5px,#fb0100 38.5px,#fd0c00 39.5px,#fd0c00 40.5px,#f71000 41.5px,#f71400 42.5px,#f71400 43.5px,#f81300 44.5px,#f51500 45.5px,#f60900 46.5px,#f60900 47.5px,#f74b00 48.5px,#f73000 49.5px,#f60c00 50.5px,#f60c00 51.5px,#fc1100 52.5px,#f70c00 53.5px,#f50200 54.5px,#f50200 55.5px,#fa0800 56.5px,#fb1700 57.5px,#f50500 58.5px,#f64d00 59.5px,#fe1700 60.5px,#f70e00 61.5px,#f70e00 62.5px,#f50f00 63.5px,#ff8200 64.5px,#ff8200 65.5px,#fe1200 66.5px,#fe1200 67.5px,#f81100 68.5px,#f60700 69.5px,#fa1600 70.5px,#f82900 71.5px,#fe1800 72.5px,#fe1800 73.5px,#fe4a00 74.5px,#f77100 75.5px,#f77100 76.5px,#fa0e00 77.5px,#fa0e00 78.5px,#fe4b00 79.5px,#fd0d00 80.5px,#fd0d00 81.5px,#f76000 82.5px,#f76000 83.5px,#fd4e00 84.5px,#fd4e00 85.5px,#f70200 86.5px,#fc0600 87.5px,#fc0600 88.5px,#f80400 89.5px,#fc0400 90.5px,#fa1100 91.5px,#fb0400 92.5px,#f80d00 93.5px,#fa1400 94.5px,#fa0100 95.5px,#fa0200 96.5px,#fe1200 97.5px,#ff1700 98.5px,#f70c00 99.5px,#fc0100 100.5px,#fc0100 101.5px,#fc1500 102.5px,#fc1500 103.5px,#f82700 104.5px,#f82700 105.5px,#f85800 106.5px,#fe4500 107.5px,#f70100 108.5px,#f70100 109.5px,#fb0d00 110.5px,#fb1800 111.5px,#f90600 112.5px,#f90600 113.5px,#f90d00 114.5px,#fa0b00 115.5px,#fa0b00 116.5px,#f60400 117.5px,#f60400 118.5px,#f90900 119.5px,#fe1300 120.5px,#fb0a00 121.5px,#f70e00 122.5px,#f70e00 123.5px,#fa1200 124.5px,#fa1200 125.5px,#f90200 126.5px,#fd5600 127.5px,#fd5600 128.5px,#ff6200 129.5px,#ff6200 130.5px,#f61300 131.5px,#f61300 132.5px,#ff4c00 133.5px,#fe1000 134.5px,#fd0900 135.5px,#fd0900 136.5px,#fb0b00 137.5px,#fd5200 138.5px,#fd5200 139.5px,#f85200 140.5px,#fc4300 141.5px,#f80a00 142.5px,#fa0100 143.5px,#fc3a00 144.5px,#f81300 145.5px,#f81300 146.5px,#f62f00 147.5px,#f63600 148.5px,#f93200 149.5px,#f93200 150.5px,#fe3c00 151.5px,#fd1100 152.5px,#fd1100 153.5px,#f62a00 154.5px,#fd2c00 155.5px,#fb1500 156.5px,#fb1500 157.5px,#fb1300 158.5px,#fb1300 159.5px,#fb0800 160.5px,#fb0800 161.5px,#f60800 162.5px,#f90d00 163.5px,#f90d00 164.5px,#fc0100 165.5px,#fc0100 166.5px,#f70900 167.5px,#fc0a00 168.5px,#fc0a00 169.5px,#ff0e00 170.5px,#ff0e00 171.5px,#fa0600 172.5px,#fa0600 173.5px,#fc0f00 174.5px,#f80100 175.5px,#f51200 176.5px,#fa1000 177.5px,#fa1000 178.5px,#fb0300 179.5px,#fd1500 180.5px,#f70800 181.5px,#f70800 182.5px,#fe0a00 183.5px,#fb0c00 184.5px,#f76200 185.5px,#f52700 186.5px,#f52700 187.5px,#fd1000 188.5px,#fb1500 189.5px,#fc3100 190.5px,#fc3100 191.5px,#f83700 192.5px,#f95900 193.5px,#f95900 194.5px,#fa6000 195.5px,#f50700 196.5px,#f71100 197.5px,#fd6400 198.5px,#fd3700 199.5px,#fd3700 200.5px,#f93900 201.5px,#f60600 202.5px,#f91100 203.5px,#f50500 204.5px,#f80800 205.5px,#f80800 206.5px,#fc0200 207.5px,#fd0800 208.5px,#f60700 209.5px,#fc0200 210.5px,#fc5600 211.5px,#f61900 212.5px,#f90b00 213.5px,#f90b00 214.5px,#f94900 215.5px,#f94900 216.5px,#ff0f00 217.5px,#ff0f00 218.5px,#f53b00 219.5px,#f50b00 220.5px,#f51100 221.5px,#fb8e00 222.5px,#fb8e00 223.5px,#fd6200 224.5px,#f61200 225.5px,#fa0100 226.5px,#fa0c00 227.5px,#fa0c00 228.5px,#fc4a00 229.5px,#fc4a00 230.5px,#ff5000 231.5px,#fe1100 232.5px,#fe1100 233.5px,#fb1000 234.5px,#f71100 235.5px,#fd0a00 236.5px,#f70800 237.5px,#f70800 238.5px,#fe0f00 239.5px,#f61700 240.5px,#f81000 241.5px,#f81000 242.5px,#fa5000 243.5px,#fb5100 244.5px,#fb1500 245.5px,#f78400 246.5px,#f78400 247.5px,#fd0800 248.5px,#fd0800 249.5px,#fa1700 250.5px,#fa1700 251.5px,#fb3e00 252.5px,#fb3e00 253.5px,#f70900 254.5px,#fe0100 255.5px,#fe0100 256.5px,#f50a00 257.5px)"></div><div class="r" style="top:64.04px;background:linear-gradient(90deg,#ff2900 0.5px,#ff2900 1.5px,#fb1900 2.5px,#fb1900 3.5px,#fa1900 4.5px,#f76b00 5.5px,#f71800 6.5px,#f71800 7.5px,#ff2800 8.5px,#f90000 9.5px,#fa1800 10.5px,#fa1800 11.5px,#fe5500 12.5px,#f70700 13.5px,#f52100 14.5px,#f81300 15.5px,#fa1700 16.5px,#fa1700 17.5px,#fe1000 18.5px,#fa4a00 19.5px,#f80300 20.5px,#fc0b00 21.5px,#fc0b00 22.5px,#fb3000 23.5px,#fb3000 24.5px,#f95100 25.5px,#f40 26.5px,#fd0700 27.5px,#fa1200 28.5px,#fa1200 29.5px,#f71000 30.5px,#f71000 31.5px,#fb0a00 32.5px,#f90b00 33.5px,#fd0b00 34.5px,#f70000 35.5px,#f70800 36.5px,#f70800 37.5px,#fe0300 38.5px,#fe0300 39.5px,#f80900 40.5px,#f80900 41.5px,#fa1500 42.5px,#fa1500 43.5px,#f82200 44.5px,#f82200 45.5px,#fa2100 46.5px,#fa2100 47.5px,#fb2200 48.5px,#fb2200 49.5px,#f63b00 50.5px,#f63b00 51.5px,#f61100 52.5px,#fe0d00 53.5px,#f53600 54.5px,#f53600 55.5px,#fd0900 56.5px,#fd0e00 57.5px,#fd0e00 58.5px,#fc0e00 59.5px,#fa0400 60.5px,#fe0f00 61.5px,#fe0f00 62.5px,#fa1800 63.5px,#fc5a00 64.5px,#fc5a00 65.5px,#f76b00 66.5px,#fe0800 67.5px,#fc0900 68.5px,#f94c00 69.5px,#fb2200 70.5px,#fb2200 71.5px,#f84300 72.5px,#f84300 73.5px,#f82200 74.5px,#fd6100 75.5px,#fc5500 76.5px,#fe3300 77.5px,#fc1100 78.5px,#fc1100 79.5px,#fc6400 80.5px,#fc6400 81.5px,#fd1100 82.5px,#fd1100 83.5px,#f70900 84.5px,#fc0400 85.5px,#fc0400 86.5px,#fe0c00 87.5px,#f80800 88.5px,#fa0700 89.5px,#fe0900 90.5px,#fe0900 91.5px,#fa1100 92.5px,#fa1100 93.5px,#fb0f00 94.5px,#fe0a00 95.5px,#fb0b00 96.5px,#f70f00 97.5px,#f98100 98.5px,#f98100 99.5px,#fe0300 100.5px,#fe0300 101.5px,#f66400 102.5px,#f93b00 103.5px,#f93b00 104.5px,#f81500 105.5px,#fd3300 106.5px,#f84000 107.5px,#f84000 108.5px,#f81600 109.5px,#fa1500 110.5px,#fa1500 111.5px,#fb3a00 112.5px,#fb3a00 113.5px,#fd0800 114.5px,#fd0800 115.5px,#fa4c00 116.5px,#f85400 117.5px,#f75c00 118.5px,#f75c00 119.5px,#f80200 120.5px,#fa0600 121.5px,#fe0100 122.5px,#fe0100 123.5px,#fe0e00 124.5px,#fe0e00 125.5px,#fa3800 126.5px,#fb5700 127.5px,#fb5700 128.5px,#fb4d00 129.5px,#fa0d00 130.5px,#f93600 131.5px,#fd1200 132.5px,#f60600 133.5px,#fe0400 134.5px,#f52a00 135.5px,#fe1200 136.5px,#fe1200 137.5px,#f81400 138.5px,#f81400 139.5px,#f50e00 140.5px,#fd5300 141.5px,#fd5300 142.5px,#f70100 143.5px,#f70100 144.5px,#fc4200 145.5px,#fc4f00 146.5px,#fc4f00 147.5px,#f70100 148.5px,#f70100 149.5px,#fd0c00 150.5px,#fd0c00 151.5px,#fe5b00 152.5px,#fe5b00 153.5px,#fa0900 154.5px,#fa0900 155.5px,#fc1700 156.5px,#f55d00 157.5px,#fb1300 158.5px,#f60700 159.5px,#f60700 160.5px,#fb0300 161.5px,#fb0300 162.5px,#f80500 163.5px,#f80500 164.5px,#fa0500 165.5px,#f70100 166.5px,#f80d00 167.5px,#f80d00 168.5px,#f60100 169.5px,#fe0700 170.5px,#fe0700 171.5px,#fa0400 172.5px,#fa0400 173.5px,#fd3e00 174.5px,#fd1700 175.5px,#f61600 176.5px,#fc1400 177.5px,#ff1700 178.5px,#f81100 179.5px,#f51700 180.5px,#f51700 181.5px,#f75700 182.5px,#fe0400 183.5px,#fe5700 184.5px,#fe5700 185.5px,#f50e00 186.5px,#f50e00 187.5px,#fe0e00 188.5px,#fe3600 189.5px,#f84c00 190.5px,#f84c00 191.5px,#fb2d00 192.5px,#fe0400 193.5px,#fe0400 194.5px,#f94000 195.5px,#f94000 196.5px,#fe4e00 197.5px,#fa4400 198.5px,#fd1900 199.5px,#ff0b00 200.5px,#fe1400 201.5px,#f54500 202.5px,#f73f00 203.5px,#fc2b00 204.5px,#fc2b00 205.5px,#fe0800 206.5px,#fe0800 207.5px,#fb0d00 208.5px,#fb0500 209.5px,#fb0500 210.5px,#fd0f00 211.5px,#fd0f00 212.5px,#f55c00 213.5px,#f55c00 214.5px,#f95b00 215.5px,#f91500 216.5px,#f70f00 217.5px,#f61300 218.5px,#fa3500 219.5px,#f51000 220.5px,#f51000 221.5px,#f74d00 222.5px,#f74d00 223.5px,#fb3c00 224.5px,#ff0300 225.5px,#ff0300 226.5px,#f52200 227.5px,#f66100 228.5px,#f66100 229.5px,#f51000 230.5px,#fb0900 231.5px,#fe5600 232.5px,#fe5600 233.5px,#fb0500 234.5px,#fc0700 235.5px,#fc0700 236.5px,#f65f00 237.5px,#fa3a00 238.5px,#f70600 239.5px,#fb3b00 240.5px,#f70100 241.5px,#fa0500 242.5px,#ff1400 243.5px,#f80400 244.5px,#fd1600 245.5px,#f90a00 246.5px,#f90a00 247.5px,#f91800 248.5px,#fb4d00 249.5px,#fb4d00 250.5px,#fa1300 251.5px,#fa8400 252.5px,#fa8400 253.5px,#f60600 254.5px,#f60600 255.5px,#f60b00 256.5px,#f60f00 257.5px)"></div><div class="r" style="top:56.93px;background:linear-gradient(90deg,#fd3200 0.5px,#ff4800 1.5px,#fa0300 2.5px,#fa0300 3.5px,#ff3700 4.5px,#ff4600 5.5px,#ff4600 6.5px,#ff8d00 7.5px,#ff4900 8.5px,#ff7800 9.5px,#ff1400 10.5px,#ff9800 11.5px,#ff3f00 12.5px,#ff3f00 13.5px,#ff4b00 14.5px,#ff6200 15.5px,#ff6c00 16.5px,#ff5d00 17.5px,#ff5d00 18.5px,#ff4c00 19.5px,#ff5c00 20.5px,#ff5c00 21.5px,#ff4500 22.5px,#ff8600 23.5px,#ff6e00 24.5px,#ff6e00 25.5px,#ff8a00 26.5px,#ff8a00 27.5px,#ff4600 28.5px,#ff4600 29.5px,#ff5e00 30.5px,#ff5e00 31.5px,#f50a00 32.5px,#fd0700 33.5px,#fd0700 34.5px,#fb0800 35.5px,#fa0300 36.5px,#f80e00 37.5px,#f90500 38.5px,#fd0300 39.5px,#f90c00 40.5px,#fe0700 41.5px,#fe0700 42.5px,#fa1600 43.5px,#f70f00 44.5px,#f94500 45.5px,#f74a00 46.5px,#f74a00 47.5px,#f86a00 48.5px,#fe4a00 49.5px,#fe4a00 50.5px,#f71600 51.5px,#f65700 52.5px,#f74100 53.5px,#f74100 54.5px,#fc0400 55.5px,#fa6300 56.5px,#ff1600 57.5px,#fa0400 58.5px,#f51400 59.5px,#f51400 60.5px,#fa0900 61.5px,#f83c00 62.5px,#f50000 63.5px,#f80f00 64.5px,#f60e00 65.5px,#fb3c00 66.5px,#fa0900 67.5px,#f50e00 68.5px,#fd5400 69.5px,#f76200 70.5px,#fc1500 71.5px,#fd5200 72.5px,#fd5200 73.5px,#f91200 74.5px,#f70f00 75.5px,#fa0d00 76.5px,#fa0d00 77.5px,#fc1700 78.5px,#fc1700 79.5px,#f61500 80.5px,#f61500 81.5px,#f63200 82.5px,#f63200 83.5px,#f70200 84.5px,#f70200 85.5px,#f74800 86.5px,#f60b00 87.5px,#f00 88.5px,#f00 89.5px,#fd0b00 90.5px,#f50800 91.5px,#ff3f00 92.5px,#ff5000 93.5px,#ff5000 94.5px,#ff1900 95.5px,#ff8300 96.5px,#ff1400 97.5px,#ff2d00 98.5px,#ff3e00 99.5px,#ff6a00 100.5px,#ff6a00 101.5px,#ff7a00 102.5px,#ff5000 103.5px,#ff3c00 104.5px,#ff3c00 105.5px,#ff1700 106.5px,#ff3e00 107.5px,#ff3e00 108.5px,#ff7100 109.5px,#ff7100 110.5px,#ff1400 111.5px,#ff5d00 112.5px,#ff6800 113.5px,#ff6800 114.5px,#ff7c00 115.5px,#ff5b00 116.5px,#ff5b00 117.5px,#fa0b00 118.5px,#f75900 119.5px,#ff0100 120.5px,#ff0100 121.5px,#fa0900 122.5px,#fe0a00 123.5px,#f70f00 124.5px,#f70f00 125.5px,#f61200 126.5px,#f61200 127.5px,#fb4100 128.5px,#fb4100 129.5px,#fd1800 130.5px,#fe3e00 131.5px,#f84900 132.5px,#f84900 133.5px,#f60c00 134.5px,#fe1700 135.5px,#f60300 136.5px,#fc0b00 137.5px,#fc0b00 138.5px,#f61300 139.5px,#ff0900 140.5px,#f53800 141.5px,#f53800 142.5px,#fd0500 143.5px,#fd0500 144.5px,#f80100 145.5px,#f80100 146.5px,#f95800 147.5px,#f95800 148.5px,#fd0200 149.5px,#fa1600 150.5px,#f90800 151.5px,#f90800 152.5px,#f71400 153.5px,#f71400 154.5px,#fa0600 155.5px,#fa0600 156.5px,#fb8000 157.5px,#f72700 158.5px,#f72700 159.5px,#f80000 160.5px,#fd0500 161.5px,#fd0500 162.5px,#fc0900 163.5px,#f50700 164.5px,#ff0400 165.5px,#fa0300 166.5px,#fa0300 167.5px,#fc0600 168.5px,#fc0600 169.5px,#f70c00 170.5px,#f60b00 171.5px,#ff0600 172.5px,#ff0600 173.5px,#fb3c00 174.5px,#fb3c00 175.5px,#ff2300 176.5px,#ff4800 177.5px,#ff4800 178.5px,#ff7900 179.5px,#ff7900 180.5px,#ff1500 181.5px,#ff1500 182.5px,#ff1300 183.5px,#ff1300 184.5px,#ff6900 185.5px,#ff7000 186.5px,#ff3400 187.5px,#ff6700 188.5px,#f40 189.5px,#ff3c00 190.5px,#ff3c00 191.5px,#ff8b00 192.5px,#ff8b00 193.5px,#ff6c00 194.5px,#ff7d00 195.5px,#ff5700 196.5px,#ff8a00 197.5px,#ff2d00 198.5px,#ff2300 199.5px,#ff2300 200.5px,#f67300 201.5px,#f60200 202.5px,#f60200 203.5px,#f90b00 204.5px,#f90b00 205.5px,#f60100 206.5px,#f84100 207.5px,#fa0400 208.5px,#fa0400 209.5px,#f94800 210.5px,#f94800 211.5px,#fe6c00 212.5px,#f60800 213.5px,#f60800 214.5px,#f81400 215.5px,#f81400 216.5px,#f92600 217.5px,#f92600 218.5px,#fa0d00 219.5px,#fb4100 220.5px,#fb4900 221.5px,#fb3500 222.5px,#fb3500 223.5px,#fa0b00 224.5px,#fa1300 225.5px,#fa1300 226.5px,#fa0300 227.5px,#fa0300 228.5px,#fe0a00 229.5px,#fd5200 230.5px,#fd5200 231.5px,#fb1400 232.5px,#fd0500 233.5px,#fd0500 234.5px,#fe2700 235.5px,#f81200 236.5px,#fb0c00 237.5px,#f70e00 238.5px,#fb4c00 239.5px,#f70700 240.5px,#f63800 241.5px,#ff1800 242.5px,#f75400 243.5px,#f75400 244.5px,#f64600 245.5px,#fc0c00 246.5px,#fc6400 247.5px,#fc6400 248.5px,#ff6500 249.5px,#f81300 250.5px,#fa0000 251.5px,#fa0000 252.5px,#fa0300 253.5px,#f60700 254.5px,#fb0e00 255.5px,#fa0c00 256.5px,#fd1100 257.5px)"></div><div class="r" style="top:49.81px;background:linear-gradient(90deg,#f51500 0.5px,#fd3300 1.5px,#fd3300 2.5px,#ff3f00 3.5px,#ff5300 4.5px,#ff6e00 5.5px,#ff6e00 6.5px,#ff5900 7.5px,#ff7600 8.5px,#ff9000 9.5px,#ff1600 10.5px,#ff1600 11.5px,#ff7800 12.5px,#ff7800 13.5px,#ff6800 14.5px,#ff6800 15.5px,#ff6800 16.5px,#ff6800 17.5px,#ff3a00 18.5px,#ff3b00 19.5px,#ff4600 20.5px,#ff3b00 21.5px,#ff6d00 22.5px,#ff4000 23.5px,#ff4100 24.5px,#ff8300 25.5px,#ff8300 26.5px,#ff2e00 27.5px,#ff2e00 28.5px,#ff3f00 29.5px,#ff8b00 30.5px,#ff3c00 31.5px,#ff3c00 32.5px,#fb2d00 33.5px,#fa0b00 34.5px,#f70700 35.5px,#f90200 36.5px,#f90200 37.5px,#fe0700 38.5px,#fc0500 39.5px,#f55600 40.5px,#fd3c00 41.5px,#fd1700 42.5px,#fd1700 43.5px,#fa2800 44.5px,#fa2800 45.5px,#f64200 46.5px,#f81000 47.5px,#f81000 48.5px,#ff0100 49.5px,#ff0100 50.5px,#f56b00 51.5px,#fa0300 52.5px,#f71200 53.5px,#f71200 54.5px,#fd0100 55.5px,#fd0100 56.5px,#fb4500 57.5px,#fb4500 58.5px,#f71600 59.5px,#f71600 60.5px,#fb4400 61.5px,#fb4400 62.5px,#fc2500 63.5px,#fc2500 64.5px,#f70200 65.5px,#f70200 66.5px,#f60700 67.5px,#f88700 68.5px,#f88700 69.5px,#fd4a00 70.5px,#fd4a00 71.5px,#f90700 72.5px,#f63800 73.5px,#fe0b00 74.5px,#fe0b00 75.5px,#fa0400 76.5px,#f52d00 77.5px,#f52d00 78.5px,#fc0900 79.5px,#fa1500 80.5px,#fa1500 81.5px,#f72300 82.5px,#fd0e00 83.5px,#fd0e00 84.5px,#fd0700 85.5px,#f60400 86.5px,#f80b00 87.5px,#f90500 88.5px,#f60600 89.5px,#f90700 90.5px,#f90700 91.5px,#f60a00 92.5px,#f60a00 93.5px,#ff4800 94.5px,#ff4800 95.5px,#ff3900 96.5px,#ff3900 97.5px,#ff6000 98.5px,#ff8900 99.5px,#ff2800 100.5px,#ff5c00 101.5px,#ff2100 102.5px,#ff4100 103.5px,#ff4100 104.5px,#ff2500 105.5px,#ff2b00 106.5px,#ff7100 107.5px,#ff3500 108.5px,#ff3500 109.5px,#ff6700 110.5px,#ff6700 111.5px,#ff3900 112.5px,#ff1300 113.5px,#ff1300 114.5px,#ff2300 115.5px,#ff2b00 116.5px,#ff5400 117.5px,#ff5400 118.5px,#fd3700 119.5px,#fd3700 120.5px,#f50100 121.5px,#f60000 122.5px,#f60000 123.5px,#fd0100 124.5px,#fd3900 125.5px,#f60d00 126.5px,#f60b00 127.5px,#fa0500 128.5px,#ff5c00 129.5px,#fd3200 130.5px,#fd3200 131.5px,#fa2f00 132.5px,#fa2f00 133.5px,#f92300 134.5px,#f81700 135.5px,#fd1400 136.5px,#f82400 137.5px,#fe4700 138.5px,#f81000 139.5px,#f81000 140.5px,#f61200 141.5px,#f78000 142.5px,#fd1200 143.5px,#fd1200 144.5px,#fd0300 145.5px,#fd0300 146.5px,#f94800 147.5px,#f94800 148.5px,#fe0100 149.5px,#fe0100 150.5px,#fe5e00 151.5px,#f71500 152.5px,#f71500 153.5px,#fc1600 154.5px,#fc0000 155.5px,#f94d00 156.5px,#f94d00 157.5px,#fc0400 158.5px,#fc0400 159.5px,#f60300 160.5px,#f60300 161.5px,#f60700 162.5px,#fc0100 163.5px,#ff0800 164.5px,#fc0100 165.5px,#fc0100 166.5px,#fa0400 167.5px,#fa0d00 168.5px,#fc0100 169.5px,#f90200 170.5px,#fe0900 171.5px,#f80b00 172.5px,#f80b00 173.5px,#fc0300 174.5px,#f40 175.5px,#ff2800 176.5px,#ff2800 177.5px,#ff1400 178.5px,#ff4300 179.5px,#ff4300 180.5px,#ff5600 181.5px,#ff1500 182.5px,#ff9800 183.5px,#ff1600 184.5px,#ff1600 185.5px,#ff7d00 186.5px,#ff9500 187.5px,#ff9500 188.5px,#ff5200 189.5px,#ff5200 190.5px,#ff6c00 191.5px,#ff2b00 192.5px,#ff6800 193.5px,#ff6800 194.5px,#ff8500 195.5px,#ff5900 196.5px,#ff4200 197.5px,#ff4200 198.5px,#ff1f00 199.5px,#ff1f00 200.5px,#f84c00 201.5px,#f84c00 202.5px,#fd0d00 203.5px,#f54300 204.5px,#ff0b00 205.5px,#fd0900 206.5px,#f50200 207.5px,#fc4b00 208.5px,#f60300 209.5px,#f53800 210.5px,#f53800 211.5px,#fb1300 212.5px,#fb1300 213.5px,#fb6100 214.5px,#fb6100 215.5px,#fb4600 216.5px,#fa0100 217.5px,#fa0100 218.5px,#fa5300 219.5px,#fa5300 220.5px,#f50000 221.5px,#fc3c00 222.5px,#fc3c00 223.5px,#fa0400 224.5px,#fe0900 225.5px,#fb5c00 226.5px,#fc0b00 227.5px,#fc1200 228.5px,#fc2500 229.5px,#fc0b00 230.5px,#fc0000 231.5px,#fc0000 232.5px,#fe0c00 233.5px,#fd1800 234.5px,#fd1800 235.5px,#f60300 236.5px,#f60300 237.5px,#f65500 238.5px,#f65500 239.5px,#f80c00 240.5px,#f80c00 241.5px,#f92b00 242.5px,#f92b00 243.5px,#f90800 244.5px,#f90800 245.5px,#f90100 246.5px,#f90100 247.5px,#f72b00 248.5px,#f72b00 249.5px,#f90600 250.5px,#f90600 251.5px,#f90300 252.5px,#f90300 253.5px,#f50c00 254.5px,#fc0400 255.5px,#fc0b00 256.5px,#fc0b00 257.5px)"></div><div class="r" style="top:42.69px;background:linear-gradient(90deg,#fa1800 0.5px,#fa1300 1.5px,#f91100 2.5px,#fe1800 3.5px,#f90f00 4.5px,#f90f00 5.5px,#f70d00 6.5px,#f70d00 7.5px,#fe0e00 8.5px,#f91f00 9.5px,#f91f00 10.5px,#fe1400 11.5px,#fc0300 12.5px,#fc0300 13.5px,#fb1500 14.5px,#f71900 15.5px,#f72100 16.5px,#f72100 17.5px,#f61000 18.5px,#f61000 19.5px,#f61700 20.5px,#f51500 21.5px,#f82200 22.5px,#f82200 23.5px,#fd2600 24.5px,#fe0a00 25.5px,#fd0600 26.5px,#f52600 27.5px,#f52600 28.5px,#fa1300 29.5px,#f70400 30.5px,#f70400 31.5px,#f70a00 32.5px,#f70a00 33.5px,#f70b00 34.5px,#fc0400 35.5px,#fd0b00 36.5px,#f70600 37.5px,#f80e00 38.5px,#fb0900 39.5px,#fc0a00 40.5px,#fa1200 41.5px,#fa1200 42.5px,#fa1100 43.5px,#fd1700 44.5px,#f51000 45.5px,#f51000 46.5px,#f71a00 47.5px,#f53700 48.5px,#fd2700 49.5px,#fc2300 50.5px,#fc2300 51.5px,#fc0e00 52.5px,#f60e00 53.5px,#ff1f00 54.5px,#ff1f00 55.5px,#f80200 56.5px,#f70b00 57.5px,#fb0800 58.5px,#f71500 59.5px,#fd0300 60.5px,#fd0200 61.5px,#fd0200 62.5px,#fc0c00 63.5px,#fc0c00 64.5px,#f61e00 65.5px,#f61e00 66.5px,#fd0100 67.5px,#ff0d00 68.5px,#f61600 69.5px,#fb0100 70.5px,#f60800 71.5px,#f91100 72.5px,#f91100 73.5px,#f61f00 74.5px,#fd1100 75.5px,#fe1500 76.5px,#fe2c00 77.5px,#fc1600 78.5px,#f90f00 79.5px,#fb1500 80.5px,#fb1500 81.5px,#f80a00 82.5px,#f80a00 83.5px,#fd0100 84.5px,#f60b00 85.5px,#f60b00 86.5px,#f60e00 87.5px,#f60e00 88.5px,#f60300 89.5px,#f60300 90.5px,#f71700 91.5px,#ff0600 92.5px,#fa2000 93.5px,#f62400 94.5px,#fa1600 95.5px,#fa1600 96.5px,#f82200 97.5px,#fa1200 98.5px,#fa1200 99.5px,#fb2400 100.5px,#fb0d00 101.5px,#f60e00 102.5px,#fd1700 103.5px,#fe2100 104.5px,#fd0500 105.5px,#fd0500 106.5px,#fb1800 107.5px,#f70500 108.5px,#fe1500 109.5px,#fc1700 110.5px,#fc1700 111.5px,#f62100 112.5px,#fb1300 113.5px,#fb1300 114.5px,#fe1200 115.5px,#f61000 116.5px,#f60c00 117.5px,#fb2e00 118.5px,#fb2e00 119.5px,#fe0900 120.5px,#fb0800 121.5px,#fb0800 122.5px,#fc0400 123.5px,#f71000 124.5px,#f71000 125.5px,#f60700 126.5px,#f83100 127.5px,#fe1000 128.5px,#f61700 129.5px,#f61700 130.5px,#fd0f00 131.5px,#fd0f00 132.5px,#fd0700 133.5px,#fc2200 134.5px,#fc2200 135.5px,#f50100 136.5px,#f50100 137.5px,#f81700 138.5px,#f81700 139.5px,#f70100 140.5px,#ff2400 141.5px,#ff2400 142.5px,#f61100 143.5px,#ff0b00 144.5px,#ff0b00 145.5px,#fc2000 146.5px,#fe0800 147.5px,#f71600 148.5px,#f61300 149.5px,#f61300 150.5px,#f80300 151.5px,#fc0400 152.5px,#f60b00 153.5px,#fb1800 154.5px,#fc1600 155.5px,#f90500 156.5px,#f90500 157.5px,#f60300 158.5px,#fe1100 159.5px,#fe1100 160.5px,#f90600 161.5px,#fb0b00 162.5px,#fb0b00 163.5px,#f80b00 164.5px,#f80b00 165.5px,#f50e00 166.5px,#f90600 167.5px,#f50000 168.5px,#f50000 169.5px,#f70100 170.5px,#fb0500 171.5px,#fd1100 172.5px,#fd1100 173.5px,#f71500 174.5px,#fc1b00 175.5px,#fe1600 176.5px,#f91600 177.5px,#f70400 178.5px,#fe2900 179.5px,#f90300 180.5px,#f82b00 181.5px,#fc0e00 182.5px,#fc0e00 183.5px,#f61800 184.5px,#ff0500 185.5px,#f50500 186.5px,#fb0f00 187.5px,#fc1700 188.5px,#fe1900 189.5px,#fe1900 190.5px,#fc0800 191.5px,#fc0800 192.5px,#f60400 193.5px,#f82800 194.5px,#f82800 195.5px,#fb0e00 196.5px,#fd1a00 197.5px,#fd1a00 198.5px,#fa1c00 199.5px,#fb1f00 200.5px,#fb1f00 201.5px,#fe3900 202.5px,#f91300 203.5px,#f70700 204.5px,#f70800 205.5px,#fa0a00 206.5px,#f60a00 207.5px,#fd0300 208.5px,#fb0700 209.5px,#fb0700 210.5px,#fe2b00 211.5px,#fe2b00 212.5px,#fc1100 213.5px,#fc1100 214.5px,#fe0e00 215.5px,#ff0200 216.5px,#fe1200 217.5px,#fe1200 218.5px,#f50100 219.5px,#f50100 220.5px,#f51200 221.5px,#f51200 222.5px,#fa0f00 223.5px,#f93300 224.5px,#fd1f00 225.5px,#fd1f00 226.5px,#f91000 227.5px,#f52900 228.5px,#fc2800 229.5px,#fc2800 230.5px,#f90200 231.5px,#fc1500 232.5px,#fc1500 233.5px,#f61d00 234.5px,#f51a00 235.5px,#f71700 236.5px,#f71700 237.5px,#fe0a00 238.5px,#f93300 239.5px,#f93300 240.5px,#f91000 241.5px,#f83a00 242.5px,#f83a00 243.5px,#f51500 244.5px,#f60200 245.5px,#f60200 246.5px,#f71300 247.5px,#fc2e00 248.5px,#fb1600 249.5px,#f70a00 250.5px,#f70a00 251.5px,#f71000 252.5px,#f80100 253.5px,#fe0700 254.5px,#f80700 255.5px,#f80700 256.5px,#f90200 257.5px)"></div><div class="r" style="top:35.58px;background:linear-gradient(90deg,#fa1100 0.5px,#fa1100 1.5px,#fe0a00 2.5px,#fb1200 3.5px,#f61000 4.5px,#f62d00 5.5px,#f62d00 6.5px,#ff3b00 7.5px,#fe0200 8.5px,#fe0200 9.5px,#fc0800 10.5px,#f71600 11.5px,#f91400 12.5px,#f91400 13.5px,#f52100 14.5px,#f52100 15.5px,#f70300 16.5px,#f70300 17.5px,#f80700 18.5px,#f90f00 19.5px,#fb1c00 20.5px,#fb1c00 21.5px,#f80c00 22.5px,#fd1a00 23.5px,#f91100 24.5px,#f91100 25.5px,#ff0700 26.5px,#ff0700 27.5px,#f90d00 28.5px,#fc0100 29.5px,#f80a00 30.5px,#fa0d00 31.5px,#fa0d00 32.5px,#fb0a00 33.5px,#f60a00 34.5px,#fb0900 35.5px,#f80100 36.5px,#f80100 37.5px,#fc0500 38.5px,#fc0500 39.5px,#fd0d00 40.5px,#fd0d00 41.5px,#fd0c00 42.5px,#f70700 43.5px,#f70300 44.5px,#f70300 45.5px,#fc1200 46.5px,#fb0500 47.5px,#f60100 48.5px,#f60100 49.5px,#ff0100 50.5px,#ff0100 51.5px,#fa1b00 52.5px,#fa1b00 53.5px,#ff1d00 54.5px,#f81100 55.5px,#f90100 56.5px,#f60600 57.5px,#fb1b00 58.5px,#fb1b00 59.5px,#fd1f00 60.5px,#fa0200 61.5px,#f62c00 62.5px,#f62c00 63.5px,#fc0b00 64.5px,#ff1300 65.5px,#ff1300 66.5px,#f50600 67.5px,#ff0b00 68.5px,#ff0b00 69.5px,#f70700 70.5px,#f70700 71.5px,#f61900 72.5px,#f61900 73.5px,#fd0500 74.5px,#fd0500 75.5px,#f90b00 76.5px,#f90b00 77.5px,#f81100 78.5px,#f81100 79.5px,#fc0200 80.5px,#fc0200 81.5px,#fc0c00 82.5px,#f60a00 83.5px,#ff0d00 84.5px,#f70500 85.5px,#f70100 86.5px,#fc0400 87.5px,#fc0400 88.5px,#f60600 89.5px,#f60600 90.5px,#f60c00 91.5px,#f60c00 92.5px,#ff0700 93.5px,#ff0700 94.5px,#f70300 95.5px,#fa0100 96.5px,#fa0100 97.5px,#fe0000 98.5px,#f50e00 99.5px,#f90200 100.5px,#fc0100 101.5px,#fc2c00 102.5px,#f90500 103.5px,#f90500 104.5px,#fa4100 105.5px,#f50d00 106.5px,#fc1900 107.5px,#fc0400 108.5px,#fa1100 109.5px,#f90800 110.5px,#f81200 111.5px,#fc0400 112.5px,#fc0400 113.5px,#fb0100 114.5px,#f51100 115.5px,#f50c00 116.5px,#f50c00 117.5px,#fd0f00 118.5px,#fa0700 119.5px,#fa0d00 120.5px,#fa0d00 121.5px,#fb0600 122.5px,#fa0100 123.5px,#f80200 124.5px,#f80200 125.5px,#f52700 126.5px,#f52700 127.5px,#f72200 128.5px,#fc0100 129.5px,#fc0100 130.5px,#f70300 131.5px,#f70300 132.5px,#fa1200 133.5px,#fb1200 134.5px,#fa1400 135.5px,#fa1400 136.5px,#f80c00 137.5px,#f80c00 138.5px,#fc1300 139.5px,#f70800 140.5px,#f71300 141.5px,#f71300 142.5px,#fd1000 143.5px,#fd1000 144.5px,#f90c00 145.5px,#f90c00 146.5px,#fa0700 147.5px,#fa0700 148.5px,#fd0a00 149.5px,#f81b00 150.5px,#f70700 151.5px,#f70700 152.5px,#f61200 153.5px,#fd2300 154.5px,#fd2300 155.5px,#fb0200 156.5px,#f91200 157.5px,#fb0300 158.5px,#fa0b00 159.5px,#fa0b00 160.5px,#f70200 161.5px,#f70200 162.5px,#fe0700 163.5px,#f90700 164.5px,#f90800 165.5px,#f90800 166.5px,#fe0900 167.5px,#fe0900 168.5px,#f90100 169.5px,#f80000 170.5px,#f80000 171.5px,#fb2d00 172.5px,#fb2d00 173.5px,#f71000 174.5px,#f71000 175.5px,#f60700 176.5px,#fb0700 177.5px,#fa1300 178.5px,#fa1300 179.5px,#fa1300 180.5px,#fa1300 181.5px,#fd0f00 182.5px,#f71100 183.5px,#f71100 184.5px,#fc1400 185.5px,#f92b00 186.5px,#f92b00 187.5px,#fd0800 188.5px,#f90500 189.5px,#f90500 190.5px,#ff1700 191.5px,#ff1700 192.5px,#fd1f00 193.5px,#fa0300 194.5px,#ff1400 195.5px,#ff1400 196.5px,#f91100 197.5px,#ff0200 198.5px,#f92400 199.5px,#f92400 200.5px,#f81a00 201.5px,#f81a00 202.5px,#fa0000 203.5px,#ff0d00 204.5px,#ff0900 205.5px,#f70600 206.5px,#fd0600 207.5px,#fb0400 208.5px,#fb0400 209.5px,#fe0200 210.5px,#f80b00 211.5px,#f82b00 212.5px,#f82b00 213.5px,#f80700 214.5px,#f70c00 215.5px,#f70c00 216.5px,#fd0600 217.5px,#fd0600 218.5px,#f90d00 219.5px,#fb0a00 220.5px,#fb0a00 221.5px,#f51200 222.5px,#fb0f00 223.5px,#fb1400 224.5px,#fe2800 225.5px,#fe2800 226.5px,#f71b00 227.5px,#fd0f00 228.5px,#f91400 229.5px,#fa1000 230.5px,#fa1000 231.5px,#fc2700 232.5px,#f81000 233.5px,#f81000 234.5px,#fa1a00 235.5px,#fa1a00 236.5px,#f60700 237.5px,#fc0200 238.5px,#fc0300 239.5px,#fc0300 240.5px,#f70100 241.5px,#f70f00 242.5px,#fa2500 243.5px,#fa2500 244.5px,#f83200 245.5px,#fd1a00 246.5px,#fd1a00 247.5px,#f60200 248.5px,#f60200 249.5px,#fd1300 250.5px,#fd1300 251.5px,#f70100 252.5px,#f70100 253.5px,#f60700 254.5px,#f80a00 255.5px,#f80b00 256.5px,#f60700 257.5px)"></div><div class="r" style="top:28.46px;background:linear-gradient(90deg,#fb1100 0.5px,#fb1200 1.5px,#fb1200 2.5px,#ff0b00 3.5px,#ff0b00 4.5px,#f80a00 5.5px,#f91300 6.5px,#fc0900 7.5px,#fa2700 8.5px,#f90500 9.5px,#f90500 10.5px,#fd1200 11.5px,#fd1200 12.5px,#ff0e00 13.5px,#ff0e00 14.5px,#f60700 15.5px,#f60700 16.5px,#fc2900 17.5px,#fc2900 18.5px,#f70400 19.5px,#f70c00 20.5px,#ff1900 21.5px,#f91200 22.5px,#f91200 23.5px,#f71a00 24.5px,#f71a00 25.5px,#fc1000 26.5px,#fa1300 27.5px,#fc0500 28.5px,#fc2500 29.5px,#fc2500 30.5px,#fb0b00 31.5px,#fd0300 32.5px,#f70900 33.5px,#fb0500 34.5px,#ff0400 35.5px,#f80200 36.5px,#f80200 37.5px,#fc0800 38.5px,#fc0800 39.5px,#fc0300 40.5px,#fe0c00 41.5px,#ff0b00 42.5px,#ff0b00 43.5px,#fc1100 44.5px,#fc1100 45.5px,#f70d00 46.5px,#fc0600 47.5px,#f61000 48.5px,#fc2400 49.5px,#fa1400 50.5px,#fa1400 51.5px,#f90e00 52.5px,#f61000 53.5px,#f61000 54.5px,#fe0a00 55.5px,#ff0500 56.5px,#ff0500 57.5px,#f80900 58.5px,#f60a00 59.5px,#fe0400 60.5px,#fe0400 61.5px,#fe0300 62.5px,#fa2500 63.5px,#f60100 64.5px,#f60100 65.5px,#f91700 66.5px,#f90900 67.5px,#f81400 68.5px,#f91100 69.5px,#fa0900 70.5px,#fa0900 71.5px,#f81400 72.5px,#fb1200 73.5px,#fb1200 74.5px,#f60500 75.5px,#fa1400 76.5px,#fe0200 77.5px,#fe0200 78.5px,#f52200 79.5px,#f80a00 80.5px,#f80a00 81.5px,#f92800 82.5px,#f92800 83.5px,#fd0500 84.5px,#f80a00 85.5px,#f80a00 86.5px,#fd0500 87.5px,#fe0800 88.5px,#fe0800 89.5px,#f80900 90.5px,#f90400 91.5px,#f60900 92.5px,#fd0e00 93.5px,#f80100 94.5px,#fe1100 95.5px,#fe0800 96.5px,#fe1200 97.5px,#fc0500 98.5px,#fa1100 99.5px,#fd1400 100.5px,#f50000 101.5px,#f72c00 102.5px,#f81b00 103.5px,#fd0500 104.5px,#fd0500 105.5px,#f71700 106.5px,#f72400 107.5px,#f72400 108.5px,#f70900 109.5px,#fc0300 110.5px,#ff0100 111.5px,#f61200 112.5px,#f61200 113.5px,#f60c00 114.5px,#fc1300 115.5px,#fa0300 116.5px,#ff1600 117.5px,#ff1600 118.5px,#f61300 119.5px,#f61300 120.5px,#ff0c00 121.5px,#ff0c00 122.5px,#f70700 123.5px,#f70700 124.5px,#fd1000 125.5px,#fd1000 126.5px,#fc0900 127.5px,#fc0900 128.5px,#fe0f00 129.5px,#fe0f00 130.5px,#fc0400 131.5px,#fd0600 132.5px,#fd0600 133.5px,#f71200 134.5px,#f71200 135.5px,#fd0000 136.5px,#ff1200 137.5px,#ff1200 138.5px,#fe3800 139.5px,#f81000 140.5px,#fc2d00 141.5px,#fe0100 142.5px,#fe0100 143.5px,#fe1500 144.5px,#f80800 145.5px,#f80800 146.5px,#ff1300 147.5px,#ff1300 148.5px,#f71400 149.5px,#fe0c00 150.5px,#fe0c00 151.5px,#f71000 152.5px,#fa0b00 153.5px,#fa0b00 154.5px,#f61100 155.5px,#ff0c00 156.5px,#ff0c00 157.5px,#f73f00 158.5px,#fb1300 159.5px,#fb1300 160.5px,#fb0900 161.5px,#fb0900 162.5px,#f70800 163.5px,#ff0d00 164.5px,#fd0800 165.5px,#f70600 166.5px,#f50300 167.5px,#f50300 168.5px,#f80c00 169.5px,#fc0400 170.5px,#fc0400 171.5px,#f92d00 172.5px,#f92d00 173.5px,#f90800 174.5px,#fc0b00 175.5px,#f91400 176.5px,#f91400 177.5px,#f70100 178.5px,#f70100 179.5px,#fe0900 180.5px,#f70e00 181.5px,#f90300 182.5px,#fb0c00 183.5px,#fb0c00 184.5px,#f71e00 185.5px,#fc1200 186.5px,#fc1200 187.5px,#f50900 188.5px,#f60200 189.5px,#fa1300 190.5px,#f71000 191.5px,#f71000 192.5px,#fc0f00 193.5px,#fc0f00 194.5px,#f50300 195.5px,#f50300 196.5px,#ff0100 197.5px,#ff0100 198.5px,#fa1e00 199.5px,#fc2f00 200.5px,#fc2f00 201.5px,#fe0100 202.5px,#f71300 203.5px,#f71300 204.5px,#f70200 205.5px,#fb0900 206.5px,#fb0c00 207.5px,#f60300 208.5px,#f60300 209.5px,#fd0e00 210.5px,#f71300 211.5px,#f71300 212.5px,#fd1300 213.5px,#fd1300 214.5px,#f60f00 215.5px,#f60f00 216.5px,#fb0200 217.5px,#fb0200 218.5px,#fa1300 219.5px,#fa1300 220.5px,#fe2600 221.5px,#f51300 222.5px,#f71f00 223.5px,#f50e00 224.5px,#f82100 225.5px,#fb1000 226.5px,#fb1000 227.5px,#fe1400 228.5px,#fd0b00 229.5px,#f61200 230.5px,#f90a00 231.5px,#f60800 232.5px,#fd0300 233.5px,#fa2c00 234.5px,#f91500 235.5px,#f91400 236.5px,#f91400 237.5px,#fa0600 238.5px,#fa0600 239.5px,#f91000 240.5px,#fb2b00 241.5px,#f82000 242.5px,#f82000 243.5px,#ff1600 244.5px,#ff1600 245.5px,#fc0c00 246.5px,#fa1f00 247.5px,#fc0600 248.5px,#fc0600 249.5px,#f70400 250.5px,#f71100 251.5px,#fc0d00 252.5px,#fb0c00 253.5px,#fb0c00 254.5px,#fc0a00 255.5px,#fc0a00 256.5px,#f80600 257.5px)"></div><div class="r" style="top:21.35px;background:linear-gradient(90deg,#f70400 0.5px,#f70400 1.5px,#fd0d00 2.5px,#fd0d00 3.5px,#f60d00 4.5px,#f60d00 5.5px,#f81000 6.5px,#f81000 7.5px,#f61000 8.5px,#fc0800 9.5px,#fc0800 10.5px,#fd0b00 11.5px,#f90f00 12.5px,#f90f00 13.5px,#fc1f00 14.5px,#fc1f00 15.5px,#f90e00 16.5px,#fd1800 17.5px,#f90500 18.5px,#fa1900 19.5px,#f70e00 20.5px,#f90900 21.5px,#f90900 22.5px,#f50700 23.5px,#f50700 24.5px,#fb1c00 25.5px,#ff0200 26.5px,#fa0d00 27.5px,#fe1c00 28.5px,#ff1600 29.5px,#fa0300 30.5px,#fb0600 31.5px,#f90500 32.5px,#fd0800 33.5px,#fd0800 34.5px,#f62600 35.5px,#f62600 36.5px,#fe0100 37.5px,#fe0100 38.5px,#fc0200 39.5px,#fc0200 40.5px,#f93500 41.5px,#f50c00 42.5px,#fd1c00 43.5px,#f91200 44.5px,#fe0e00 45.5px,#ff0a00 46.5px,#f91f00 47.5px,#fa1200 48.5px,#f60700 49.5px,#f50200 50.5px,#f50200 51.5px,#fa0200 52.5px,#fa0200 53.5px,#fc0500 54.5px,#f70700 55.5px,#f70700 56.5px,#fe0d00 57.5px,#ff0900 58.5px,#fd0200 59.5px,#f51000 60.5px,#f80100 61.5px,#f61000 62.5px,#f90b00 63.5px,#f90b00 64.5px,#fe1100 65.5px,#fd3200 66.5px,#fc0c00 67.5px,#fa1300 68.5px,#ff3500 69.5px,#fa1a00 70.5px,#f62000 71.5px,#f10 72.5px,#fe0300 73.5px,#fe0300 74.5px,#f70a00 75.5px,#f70a00 76.5px,#fa0a00 77.5px,#fa0a00 78.5px,#f91200 79.5px,#f91200 80.5px,#fb0400 81.5px,#fd0200 82.5px,#f50c00 83.5px,#fc0200 84.5px,#fa0300 85.5px,#f80a00 86.5px,#f90200 87.5px,#fd0100 88.5px,#fd0100 89.5px,#fc0c00 90.5px,#fc0c00 91.5px,#fc0c00 92.5px,#f61100 93.5px,#f61100 94.5px,#f90f00 95.5px,#fb0600 96.5px,#f61600 97.5px,#f80c00 98.5px,#f80c00 99.5px,#fc0500 100.5px,#fc0500 101.5px,#f81300 102.5px,#f81300 103.5px,#fb1b00 104.5px,#f71100 105.5px,#f71100 106.5px,#fd1800 107.5px,#f90f00 108.5px,#f60000 109.5px,#f91400 110.5px,#fb1000 111.5px,#fa0a00 112.5px,#fb0400 113.5px,#fb0400 114.5px,#f90200 115.5px,#f90200 116.5px,#fc1300 117.5px,#fc1300 118.5px,#f91f00 119.5px,#f70400 120.5px,#f70400 121.5px,#fb0a00 122.5px,#fb0a00 123.5px,#fe1600 124.5px,#fe1600 125.5px,#fa0800 126.5px,#fa0800 127.5px,#f81f00 128.5px,#f81f00 129.5px,#f50d00 130.5px,#f50d00 131.5px,#fa0d00 132.5px,#ff0a00 133.5px,#ff0a00 134.5px,#fd1d00 135.5px,#fd1d00 136.5px,#f50300 137.5px,#f50300 138.5px,#f60900 139.5px,#fc1100 140.5px,#f80d00 141.5px,#f81000 142.5px,#fe0b00 143.5px,#fe0b00 144.5px,#fe0000 145.5px,#fe0000 146.5px,#f70200 147.5px,#fe1000 148.5px,#fe1000 149.5px,#fb0a00 150.5px,#fb2200 151.5px,#f70300 152.5px,#fc1000 153.5px,#f60600 154.5px,#fd0f00 155.5px,#f90200 156.5px,#f90200 157.5px,#fa0100 158.5px,#fa0100 159.5px,#ff0900 160.5px,#ff0700 161.5px,#fe0900 162.5px,#f70b00 163.5px,#f60c00 164.5px,#fc0700 165.5px,#fc0700 166.5px,#fc0500 167.5px,#f60000 168.5px,#f60000 169.5px,#f90400 170.5px,#f90400 171.5px,#f50d00 172.5px,#f50d00 173.5px,#fe0300 174.5px,#fe0300 175.5px,#f90c00 176.5px,#f90c00 177.5px,#f70d00 178.5px,#f70d00 179.5px,#f61e00 180.5px,#fd0300 181.5px,#f61400 182.5px,#f60c00 183.5px,#f60c00 184.5px,#f60c00 185.5px,#fc0400 186.5px,#f80c00 187.5px,#f80200 188.5px,#f80200 189.5px,#fb0900 190.5px,#fd0100 191.5px,#fd0100 192.5px,#fd0700 193.5px,#f60300 194.5px,#f60300 195.5px,#fa0f00 196.5px,#fb0600 197.5px,#fb0500 198.5px,#fa0600 199.5px,#f80700 200.5px,#fc0b00 201.5px,#f71600 202.5px,#f71600 203.5px,#f80100 204.5px,#f80100 205.5px,#f60700 206.5px,#fd0600 207.5px,#fa0800 208.5px,#fa0800 209.5px,#f70600 210.5px,#f70600 211.5px,#ff1200 212.5px,#ff1200 213.5px,#ff0e00 214.5px,#ff0e00 215.5px,#fa1700 216.5px,#fa1700 217.5px,#f80300 218.5px,#f80300 219.5px,#ff1400 220.5px,#f50e00 221.5px,#f50e00 222.5px,#fb0400 223.5px,#fb0400 224.5px,#f51700 225.5px,#fc2e00 226.5px,#f50200 227.5px,#f50200 228.5px,#f81a00 229.5px,#f60600 230.5px,#fc0c00 231.5px,#f90f00 232.5px,#f51200 233.5px,#f51200 234.5px,#f80d00 235.5px,#f80d00 236.5px,#fa0400 237.5px,#f70500 238.5px,#f70500 239.5px,#f70800 240.5px,#f70800 241.5px,#fa0e00 242.5px,#fa0200 243.5px,#fb1400 244.5px,#fa0d00 245.5px,#fa0d00 246.5px,#ff0700 247.5px,#ff0900 248.5px,#fb0300 249.5px,#fe0300 250.5px,#f70f00 251.5px,#fb0800 252.5px,#fb0800 253.5px,#f00 254.5px,#f90a00 255.5px,#fb0200 256.5px,#f80600 257.5px)"></div><div class="r" style="top:14.23px;background:linear-gradient(90deg,#f80600 0.5px,#f80600 1.5px,#ff0a00 2.5px,#ff0a00 3.5px,#fb1000 4.5px,#f80900 5.5px,#f80900 6.5px,#fd0700 7.5px,#fd0700 8.5px,#f51000 9.5px,#f51000 10.5px,#f70800 11.5px,#f80800 12.5px,#f81900 13.5px,#f70b00 14.5px,#f70b00 15.5px,#f70c00 16.5px,#f70900 17.5px,#fa0f00 18.5px,#f60900 19.5px,#f60800 20.5px,#f60800 21.5px,#f90100 22.5px,#f90100 23.5px,#f90f00 24.5px,#f90f00 25.5px,#f90e00 26.5px,#f90e00 27.5px,#fa0e00 28.5px,#f50f00 29.5px,#f50f00 30.5px,#f80500 31.5px,#fd0d00 32.5px,#fc0700 33.5px,#ff0b00 34.5px,#f60300 35.5px,#fd0a00 36.5px,#fd0a00 37.5px,#f50900 38.5px,#fa0300 39.5px,#fd0500 40.5px,#fd0500 41.5px,#fe0a00 42.5px,#fe0a00 43.5px,#f90b00 44.5px,#f91100 45.5px,#f90200 46.5px,#f90200 47.5px,#f73100 48.5px,#ff0400 49.5px,#ff0400 50.5px,#f61100 51.5px,#fd0800 52.5px,#fd0800 53.5px,#fb0300 54.5px,#fc0100 55.5px,#fc0100 56.5px,#fe0d00 57.5px,#fe0d00 58.5px,#fc0900 59.5px,#fe1b00 60.5px,#fa0c00 61.5px,#fa0c00 62.5px,#fe1100 63.5px,#fa0d00 64.5px,#fa0d00 65.5px,#f71400 66.5px,#f71400 67.5px,#fb0600 68.5px,#fd0a00 69.5px,#fd0a00 70.5px,#fe0100 71.5px,#fe0100 72.5px,#fa0600 73.5px,#fa0600 74.5px,#f80200 75.5px,#f80200 76.5px,#fb0300 77.5px,#fb2d00 78.5px,#fb2d00 79.5px,#f80100 80.5px,#ff0e00 81.5px,#fb0200 82.5px,#f70f00 83.5px,#f90300 84.5px,#f90200 85.5px,#f90200 86.5px,#fe0900 87.5px,#fe0900 88.5px,#f90500 89.5px,#f90500 90.5px,#f60400 91.5px,#f60400 92.5px,#fc0800 93.5px,#fc0800 94.5px,#f70b00 95.5px,#f70b00 96.5px,#fc0f00 97.5px,#fc0f00 98.5px,#f51100 99.5px,#f51100 100.5px,#fe0500 101.5px,#f80800 102.5px,#f80800 103.5px,#fb0f00 104.5px,#fb0f00 105.5px,#f80f00 106.5px,#fa1f00 107.5px,#fa1f00 108.5px,#f50b00 109.5px,#fa0c00 110.5px,#f50c00 111.5px,#f50c00 112.5px,#fe1400 113.5px,#fe1400 114.5px,#f91600 115.5px,#f91600 116.5px,#fa0200 117.5px,#f90e00 118.5px,#f51900 119.5px,#f51900 120.5px,#fd0e00 121.5px,#fc0d00 122.5px,#fe0c00 123.5px,#ff0b00 124.5px,#f50800 125.5px,#f50800 126.5px,#f60700 127.5px,#f81200 128.5px,#fa0f00 129.5px,#fa0f00 130.5px,#fb0700 131.5px,#fb0e00 132.5px,#fb0e00 133.5px,#f90c00 134.5px,#fe0200 135.5px,#fd1100 136.5px,#fd1100 137.5px,#fb0e00 138.5px,#fa1100 139.5px,#fa1100 140.5px,#f81200 141.5px,#fa1100 142.5px,#f90e00 143.5px,#f90e00 144.5px,#fb0300 145.5px,#f90f00 146.5px,#f70500 147.5px,#f80a00 148.5px,#fc0800 149.5px,#fc0800 150.5px,#fc1000 151.5px,#fc1000 152.5px,#f80600 153.5px,#fb1100 154.5px,#fb1100 155.5px,#f90100 156.5px,#f90100 157.5px,#f80800 158.5px,#f80800 159.5px,#f90c00 160.5px,#f50b00 161.5px,#f80000 162.5px,#fe0200 163.5px,#fe0200 164.5px,#f70c00 165.5px,#f51000 166.5px,#fe0900 167.5px,#fc0100 168.5px,#f50400 169.5px,#f50000 170.5px,#f50000 171.5px,#fc0700 172.5px,#f60a00 173.5px,#f50200 174.5px,#fe0200 175.5px,#fe0200 176.5px,#f60400 177.5px,#f60400 178.5px,#f81100 179.5px,#fc0c00 180.5px,#fc1000 181.5px,#fc1000 182.5px,#fd0700 183.5px,#fd0700 184.5px,#fe1000 185.5px,#f70c00 186.5px,#fa1200 187.5px,#fa1200 188.5px,#f51400 189.5px,#ff0b00 190.5px,#ff0b00 191.5px,#fe1300 192.5px,#fe1300 193.5px,#f50e00 194.5px,#f50e00 195.5px,#f80100 196.5px,#f80100 197.5px,#ff0e00 198.5px,#f50b00 199.5px,#f60c00 200.5px,#f60c00 201.5px,#f51000 202.5px,#fe0200 203.5px,#f80e00 204.5px,#f60200 205.5px,#f60700 206.5px,#f70800 207.5px,#f70800 208.5px,#f80b00 209.5px,#f91000 210.5px,#fd0c00 211.5px,#f61700 212.5px,#f80200 213.5px,#f71e00 214.5px,#fe0500 215.5px,#fe0500 216.5px,#fe1c00 217.5px,#f70400 218.5px,#fe0200 219.5px,#f71100 220.5px,#f71100 221.5px,#f81c00 222.5px,#f81c00 223.5px,#ff0d00 224.5px,#f50100 225.5px,#f72000 226.5px,#f70000 227.5px,#f70000 228.5px,#fd0800 229.5px,#fc0200 230.5px,#fc0200 231.5px,#fa1600 232.5px,#fb0d00 233.5px,#fb0d00 234.5px,#fa0f00 235.5px,#f80d00 236.5px,#f71000 237.5px,#f71000 238.5px,#fa1200 239.5px,#fa1200 240.5px,#f90400 241.5px,#f80a00 242.5px,#f70d00 243.5px,#f70d00 244.5px,#f81d00 245.5px,#fe1000 246.5px,#fd1100 247.5px,#fc0200 248.5px,#fc0200 249.5px,#fa1f00 250.5px,#fc1c00 251.5px,#fc0600 252.5px,#fa3000 253.5px,#fc0c00 254.5px,#fc0c00 255.5px,#fc0900 256.5px,#fc0900 257.5px)"></div><div class="r" style="top:7.12px;background:linear-gradient(90deg,#fa0700 0.5px,#fa0700 1.5px,#fe0800 2.5px,#fe0800 3.5px,#fe0c00 4.5px,#f90f00 5.5px,#f90f00 6.5px,#fc0c00 7.5px,#fc0c00 8.5px,#fc0c00 9.5px,#fb0100 10.5px,#fe0b00 11.5px,#fe0b00 12.5px,#fd0100 13.5px,#fd0100 14.5px,#f70900 15.5px,#f60100 16.5px,#f70400 17.5px,#f70400 18.5px,#f90300 19.5px,#f51900 20.5px,#f51900 21.5px,#f50600 22.5px,#f90600 23.5px,#f90600 24.5px,#fb0600 25.5px,#fb0600 26.5px,#f71000 27.5px,#fb2100 28.5px,#f60500 29.5px,#f60500 30.5px,#f90500 31.5px,#fb0b00 32.5px,#fb0b00 33.5px,#f80100 34.5px,#fc0600 35.5px,#fe0400 36.5px,#fe0400 37.5px,#fb0400 38.5px,#f80900 39.5px,#f80900 40.5px,#f50800 41.5px,#f50800 42.5px,#f91100 43.5px,#fd0700 44.5px,#f90700 45.5px,#f50600 46.5px,#f50600 47.5px,#fa0e00 48.5px,#fa0e00 49.5px,#fc0900 50.5px,#fa0d00 51.5px,#fa0d00 52.5px,#f90500 53.5px,#f80100 54.5px,#f81500 55.5px,#f81500 56.5px,#fc0c00 57.5px,#fc0c00 58.5px,#fd0d00 59.5px,#fd0d00 60.5px,#f60500 61.5px,#f70400 62.5px,#f70400 63.5px,#f70d00 64.5px,#fe0800 65.5px,#fe0800 66.5px,#fe0900 67.5px,#ff0b00 68.5px,#ff0b00 69.5px,#f50d00 70.5px,#ff0900 71.5px,#ff0900 72.5px,#fa0700 73.5px,#fb0200 74.5px,#fb0200 75.5px,#f80900 76.5px,#f70c00 77.5px,#f80700 78.5px,#fe0300 79.5px,#fe0300 80.5px,#f60f00 81.5px,#f50d00 82.5px,#fc0b00 83.5px,#fe0800 84.5px,#fe0800 85.5px,#fe0500 86.5px,#fe0500 87.5px,#f90b00 88.5px,#f90b00 89.5px,#fb0d00 90.5px,#f50800 91.5px,#f50800 92.5px,#f60f00 93.5px,#fe0e00 94.5px,#fe0e00 95.5px,#f91000 96.5px,#f90600 97.5px,#f90600 98.5px,#f60c00 99.5px,#f70200 100.5px,#f50000 101.5px,#fd1000 102.5px,#fd1000 103.5px,#fa0400 104.5px,#fa0400 105.5px,#f50100 106.5px,#f50100 107.5px,#fe0500 108.5px,#fe0500 109.5px,#f70600 110.5px,#f70600 111.5px,#fc0c00 112.5px,#fb0300 113.5px,#f90200 114.5px,#f90200 115.5px,#f70d00 116.5px,#f71e00 117.5px,#f71e00 118.5px,#fc1a00 119.5px,#fc1a00 120.5px,#fc0300 121.5px,#f50c00 122.5px,#f80300 123.5px,#f70100 124.5px,#fa0600 125.5px,#f60d00 126.5px,#fc0800 127.5px,#fc0800 128.5px,#fa0500 129.5px,#fa0d00 130.5px,#f80900 131.5px,#f80900 132.5px,#f90700 133.5px,#f90700 134.5px,#fc0d00 135.5px,#fc0d00 136.5px,#fa0900 137.5px,#fc0b00 138.5px,#fc0b00 139.5px,#fb0200 140.5px,#fe0d00 141.5px,#fa0a00 142.5px,#fe0d00 143.5px,#fb0600 144.5px,#f60200 145.5px,#f60200 146.5px,#f70200 147.5px,#f90e00 148.5px,#f80d00 149.5px,#f90a00 150.5px,#f90a00 151.5px,#fb0f00 152.5px,#f90d00 153.5px,#f90c00 154.5px,#f70b00 155.5px,#f70f00 156.5px,#f70f00 157.5px,#fc0300 158.5px,#fc0300 159.5px,#fe0600 160.5px,#fe0600 161.5px,#fd0800 162.5px,#fd0800 163.5px,#fc0800 164.5px,#fc0800 165.5px,#f70100 166.5px,#f70100 167.5px,#fc0300 168.5px,#fc0300 169.5px,#fa0700 170.5px,#fe0600 171.5px,#f80800 172.5px,#fc0a00 173.5px,#f80900 174.5px,#f90300 175.5px,#f80e00 176.5px,#fc0200 177.5px,#f90700 178.5px,#f90700 179.5px,#f70800 180.5px,#fe1600 181.5px,#fd1800 182.5px,#fd1800 183.5px,#f90d00 184.5px,#f90d00 185.5px,#f70e00 186.5px,#f70e00 187.5px,#f90300 188.5px,#fb0100 189.5px,#f50200 190.5px,#f90400 191.5px,#fc0900 192.5px,#fb0a00 193.5px,#fb0a00 194.5px,#f60200 195.5px,#f60200 196.5px,#fe0000 197.5px,#fe0000 198.5px,#f50600 199.5px,#f80f00 200.5px,#f60b00 201.5px,#f92000 202.5px,#f92000 203.5px,#f50d00 204.5px,#f50d00 205.5px,#f50100 206.5px,#fd0a00 207.5px,#fd0a00 208.5px,#fe0200 209.5px,#fc0500 210.5px,#fc0500 211.5px,#fc0d00 212.5px,#fc0d00 213.5px,#f80700 214.5px,#f80b00 215.5px,#f80b00 216.5px,#f90b00 217.5px,#fa0a00 218.5px,#fe0c00 219.5px,#fe0c00 220.5px,#fb0100 221.5px,#fb0100 222.5px,#f61000 223.5px,#f61000 224.5px,#f91e00 225.5px,#f50900 226.5px,#f90800 227.5px,#f90700 228.5px,#f90700 229.5px,#fd0c00 230.5px,#f51000 231.5px,#fa0000 232.5px,#fa1000 233.5px,#f91b00 234.5px,#f71b00 235.5px,#fb0600 236.5px,#fb0600 237.5px,#f70900 238.5px,#fe1600 239.5px,#fe1600 240.5px,#f90d00 241.5px,#f90d00 242.5px,#fe0300 243.5px,#f70200 244.5px,#f70200 245.5px,#fc0900 246.5px,#fb0800 247.5px,#fb0800 248.5px,#fa0e00 249.5px,#fa0e00 250.5px,#f70d00 251.5px,#f80d00 252.5px,#f80d00 253.5px,#f80500 254.5px,#f80500 255.5px,#f60900 256.5px,#f60900 257.5px)"></div><div class="r" style="top:0.00px;background:linear-gradient(90deg,#f50000 0.5px,#f50000 1.5px,#f60a00 2.5px,#f90100 3.5px,#fe0b00 4.5px,#fe0600 5.5px,#fb0900 6.5px,#f60100 7.5px,#f50100 8.5px,#fb2100 9.5px,#fb2100 10.5px,#f60500 11.5px,#fe0c00 12.5px,#fe0c00 13.5px,#f70400 14.5px,#fb1f00 15.5px,#f80e00 16.5px,#f80e00 17.5px,#fd0800 18.5px,#fd0800 19.5px,#fb0000 20.5px,#fb0000 21.5px,#fd1000 22.5px,#fd1000 23.5px,#fc0d00 24.5px,#fb0800 25.5px,#fa1000 26.5px,#fc0f00 27.5px,#fc0f00 28.5px,#fd0f00 29.5px,#fb0200 30.5px,#f70500 31.5px,#fc0400 32.5px,#fd0300 33.5px,#f90c00 34.5px,#fd0800 35.5px,#fd0500 36.5px,#fb0800 37.5px,#fb0800 38.5px,#fa0d00 39.5px,#fa0d00 40.5px,#fb2000 41.5px,#fb2000 42.5px,#f50700 43.5px,#f50700 44.5px,#fe0200 45.5px,#fe0200 46.5px,#fc0100 47.5px,#f70800 48.5px,#fe0900 49.5px,#fe0900 50.5px,#f61000 51.5px,#f61000 52.5px,#f60b00 53.5px,#f71b00 54.5px,#f91b00 55.5px,#ff0b00 56.5px,#f60300 57.5px,#fe0d00 58.5px,#fe0a00 59.5px,#fc1000 60.5px,#fc1000 61.5px,#fd1000 62.5px,#fd1000 63.5px,#fa0f00 64.5px,#fa0f00 65.5px,#f60e00 66.5px,#fa0000 67.5px,#fa0000 68.5px,#fa0700 69.5px,#fe1d00 70.5px,#fe1d00 71.5px,#fe0800 72.5px,#fe0800 73.5px,#fd0f00 74.5px,#fc0200 75.5px,#f80200 76.5px,#fa0d00 77.5px,#fa0d00 78.5px,#f71e00 79.5px,#fd1000 80.5px,#f60600 81.5px,#f60600 82.5px,#ff0600 83.5px,#ff0600 84.5px,#fd0000 85.5px,#fb0b00 86.5px,#f60300 87.5px,#fb0900 88.5px,#fb0900 89.5px,#f50b00 90.5px,#f50b00 91.5px,#fd0400 92.5px,#f61000 93.5px,#f60d00 94.5px,#fc1c00 95.5px,#fc1c00 96.5px,#f70100 97.5px,#fa0200 98.5px,#fb0900 99.5px,#fd0100 100.5px,#fd0100 101.5px,#fb0500 102.5px,#fd0500 103.5px,#f71a00 104.5px,#f71a00 105.5px,#fa0800 106.5px,#f81000 107.5px,#ff0d00 108.5px,#f90000 109.5px,#fd0d00 110.5px,#fc1100 111.5px,#f90600 112.5px,#f90600 113.5px,#f91100 114.5px,#fb0000 115.5px,#fe0000 116.5px,#fb0b00 117.5px,#fe0d00 118.5px,#fb0f00 119.5px,#f90200 120.5px,#f90d00 121.5px,#fb0700 122.5px,#fa0a00 123.5px,#fe0a00 124.5px,#fe0a00 125.5px,#f90100 126.5px,#f90100 127.5px,#ff0600 128.5px,#ff0600 129.5px,#f60a00 130.5px,#fc0300 131.5px,#fc0300 132.5px,#fa0800 133.5px,#fa0800 134.5px,#f70c00 135.5px,#f70c00 136.5px,#f60c00 137.5px,#ff0600 138.5px,#fe0800 139.5px,#f91000 140.5px,#f81c00 141.5px,#fc0a00 142.5px,#f80e00 143.5px,#fb1100 144.5px,#f51000 145.5px,#f60300 146.5px,#fb0c00 147.5px,#fc3500 148.5px,#fc3500 149.5px,#f71300 150.5px,#fc0800 151.5px,#fb0400 152.5px,#fb0400 153.5px,#fe0800 154.5px,#f61000 155.5px,#fb0a00 156.5px,#f60c00 157.5px,#fa0800 158.5px,#fa0500 159.5px,#fd0600 160.5px,#f81100 161.5px,#fe0000 162.5px,#fb0600 163.5px,#fa0900 164.5px,#fa0600 165.5px,#f70300 166.5px,#fa0400 167.5px,#fa0300 168.5px,#f90400 169.5px,#fe0500 170.5px,#f90200 171.5px,#f61e00 172.5px,#f61e00 173.5px,#f70000 174.5px,#f60300 175.5px,#f61500 176.5px,#f61500 177.5px,#fb0900 178.5px,#fb0900 179.5px,#fe0a00 180.5px,#fa0a00 181.5px,#fc1400 182.5px,#fc1400 183.5px,#f80b00 184.5px,#fa0700 185.5px,#f60100 186.5px,#f60100 187.5px,#f50a00 188.5px,#f50a00 189.5px,#f60a00 190.5px,#ff0900 191.5px,#ff1000 192.5px,#ff1000 193.5px,#fb0d00 194.5px,#fb0d00 195.5px,#f90b00 196.5px,#f90b00 197.5px,#fa2100 198.5px,#fc0f00 199.5px,#fc0f00 200.5px,#f91000 201.5px,#fc0700 202.5px,#f70d00 203.5px,#f90e00 204.5px,#f90e00 205.5px,#fa0a00 206.5px,#f70000 207.5px,#fa0b00 208.5px,#fa0b00 209.5px,#f90600 210.5px,#f80600 211.5px,#f60300 212.5px,#fd1100 213.5px,#fd1100 214.5px,#f60e00 215.5px,#f90600 216.5px,#f90600 217.5px,#f70400 218.5px,#f80400 219.5px,#f91d00 220.5px,#f91d00 221.5px,#fd0700 222.5px,#fa0d00 223.5px,#fd0200 224.5px,#fc0100 225.5px,#fc0100 226.5px,#f70800 227.5px,#f70800 228.5px,#ff0200 229.5px,#ff0200 230.5px,#f80300 231.5px,#f90b00 232.5px,#ff0c00 233.5px,#fd0500 234.5px,#f80000 235.5px,#f80000 236.5px,#fd0c00 237.5px,#fd0c00 238.5px,#f80700 239.5px,#f81000 240.5px,#fd0600 241.5px,#fd0600 242.5px,#f50900 243.5px,#f70600 244.5px,#ff1e00 245.5px,#ff1e00 246.5px,#fa1000 247.5px,#ff0900 248.5px,#fc0d00 249.5px,#fc0d00 250.5px,#fd0a00 251.5px,#fd0a00 252.5px,#fe0900 253.5px,#fb0600 254.5px,#fb0600 255.5px,#f60000 256.5px,#f60000 257.5px)"></div></div><div class="q" style="top:256.48px;background:linear-gradient(90deg,#40c0ff 0.5px,#40c0ff 1.5px,#40c0ff 2.5px,#8878f0 3.5px,#8878f0 4.5px,#8878f0 5.5px,#8878f0 6.5px,#8878f0 7.5px,#7890ff 8.5px,#7890ff 9.5px,#7890ff 10.5px,#7890ff 11.5px,#8080ff 12.5px,#00e8ff 13.5px,#00e8ff 14.5px,#00e8ff 15.5px,#8878f0 16.5px,#8878f0 17.5px,#7890ff 18.5px,#6aa0ff 19.5px,#6aa0ff 20.5px,#7890ff 21.5px,#7890ff 22.5px,#6aa0ff 23.5px,#6aa0ff 24.5px,#0ff 25.5px,#0ff 26.5px,#0ff 27.5px,#0ff 28.5px,#0ff 29.5px,#0ff 30.5px,#0ff 31.5px,#0ff 32.5px,#0ff 33.5px,#0ff 34.5px,#0ff 35.5px,#0ff 36.5px,#0ff 37.5px,#0ff 38.5px,#0ff 39.5px,#0ff 40.5px,#0ff 41.5px,#0ff 42.5px,#0ff 43.5px,#0ff 44.5px,#0ff 45.5px,#0ff 46.5px,#0ff 47.5px,#0ff 48.5px,#0ff 49.5px,#0ff 50.5px,#0ff 51.5px,#0ff 52.5px,#0ff 53.5px,#0ff 54.5px,#0ff 55.5px,#0ff 56.5px,#0ff 57.5px,#9a8cff 58.5px,#6fb0ff 59.5px,#6fb0ff 60.5px,#6fb0ff 61.5px,#b080f0 62.5px,#b080f0 63.5px,#b080f0 64.5px,#40c0ff 65.5px,#40c0ff 66.5px,#a890f8 67.5px,#a890f8 68.5px,#30d0ff 69.5px,#9a8cff 70.5px,#9a8cff 71.5px,#f020f0 72.5px,#8f8cff 73.5px,#8f8cff 74.5px,#6fb0ff 75.5px,#6fb0ff 76.5px,#6fb0ff 77.5px,#7f9cff 78.5px,#7f9cff 79.5px,#f0f 80.5px,#e040f0 81.5px,#30d0ff 82.5px,#30d0ff 83.5px,#e040f0 84.5px,#e040f0 85.5px,#f0f 86.5px,#9a8cff 87.5px,#9a8cff 88.5px,#40c0ff 89.5px,#40c0ff 90.5px,#f0f 91.5px,#f020f0 92.5px,#f020f0 93.5px,#8f8cff 94.5px,#8f8cff 95.5px,#30d0ff 96.5px,#30d0ff 97.5px,#30d0ff 98.5px,#f0f 99.5px,#f0f 100.5px,#f0f 101.5px,#00e8ff 102.5px,#00e8ff 103.5px,#8f8cff 104.5px,#8f8cff 105.5px,#7f9cff 106.5px,#7f9cff 107.5px,#7f9cff 108.5px,#7f9cff 109.5px,#7f9cff 110.5px,#9a8cff 111.5px,#6fb0ff 112.5px,#6fb0ff 113.5px,#8080f0 114.5px,#8080f0 115.5px,#8080f0 116.5px,#8f8cff 117.5px,#8f8cff 118.5px,#8f8cff 119.5px,#7f9cff 120.5px,#8f8cff 121.5px,#f020f0 122.5px,#9a8cff 123.5px,#9a8cff 124.5px,#9a8cff 125.5px,#b080f0 126.5px,#b080f0 127.5px,#8f8cff 128.5px,#8f8cff 129.5px,#00e8ff 130.5px,#00e8ff 131.5px,#00e8ff 132.5px,#9a8cff 133.5px,#9a8cff 134.5px,#00e8ff 135.5px,#00e8ff 136.5px,#00e8ff 137.5px,#30d0ff 138.5px,#30d0ff 139.5px,#6fb0ff 140.5px,#9a8cff 141.5px,#9a8cff 142.5px,#a890f8 143.5px,#00e8ff 144.5px,#40c0ff 145.5px,#40c0ff 146.5px,#7f9cff 147.5px,#7f9cff 148.5px,#40c0ff 149.5px,#00e8ff 150.5px,#7f9cff 151.5px,#b080f0 152.5px,#b080f0 153.5px,#b080f0 154.5px,#6fb0ff 155.5px,#40c0ff 156.5px,#6fb0ff 157.5px,#6fb0ff 158.5px,#8080f0 159.5px,#8080f0 160.5px,#8080f0 161.5px,#b080f0 162.5px,#9a8cff 163.5px,#e040f0 164.5px,#e040f0 165.5px,#e040f0 166.5px,#b080f0 167.5px,#9a8cff 168.5px,#9a8cff 169.5px,#9a8cff 170.5px,#6fb0ff 171.5px,#6fb0ff 172.5px,#8080f0 173.5px,#8080f0 174.5px,#7f9cff 175.5px,#7f9cff 176.5px,#40c0ff 177.5px,#40c0ff 178.5px,#40c0ff 179.5px,#8f8cff 180.5px,#8f8cff 181.5px,#8f8cff 182.5px,#30d0ff 183.5px,#30d0ff 184.5px,#30d0ff 185.5px,#e040f0 186.5px,#e040f0 187.5px,#f0f 188.5px,#f0f 189.5px,#f0f 190.5px,#f0f 191.5px,#f0f 192.5px,#40c0ff 193.5px,#f020f0 194.5px,#f020f0 195.5px,#40c0ff 196.5px,#40c0ff 197.5px,#7f9cff 198.5px,#7f9cff 199.5px,#7f9cff 200.5px,#8080f0 201.5px,#8080f0 202.5px,#f0f 203.5px,#f0f 204.5px,#f0f 205.5px,#30d0ff 206.5px,#30d0ff 207.5px,#a890f8 208.5px,#a890f8 209.5px,#7f9cff 210.5px,#8080f0 211.5px,#8080f0 212.5px,#8080f0 213.5px,#8f8cff 214.5px,#8f8cff 215.5px,#30d0ff 216.5px,#b080f0 217.5px,#b080f0 218.5px,#b080f0 219.5px,#00e8ff 220.5px,#00e8ff 221.5px,#7f9cff 222.5px,#7f9cff 223.5px,#9a8cff 224.5px,#9a8cff 225.5px,#9a8cff 226.5px,#9a8cff 227.5px,#9a8cff 228.5px,#8080f0 229.5px,#8080f0 230.5px,#b080f0 231.5px,#b080f0 232.5px,#8080f0 233.5px,#8080f0 234.5px,#6fb0ff 235.5px,#6fb0ff 236.5px,#7f9cff 237.5px,#7f9cff 238.5px,#7f9cff 239.5px,#9a8cff 240.5px,#9a8cff 241.5px,#6fb0ff 242.5px,#6fb0ff 243.5px,#6fb0ff 244.5px,#6fb0ff 245.5px,#6fb0ff 246.5px,#8080f0 247.5px,#8080f0 248.5px,#7f9cff 249.5px,#00e8ff 250.5px,#e040f0 251.5px,#e040f0 252.5px,#f0f 253.5px,#b080f0 254.5px,#40c0ff 255.5px,#40c0ff 256.5px,#40c0ff 257.5px,#f0f 258.5px,#30d0ff 259.5px)"></div><div class="q" style="top:249.27px;background:linear-gradient(90deg,#0ff 0.5px,#0ff 1.5px,#0ff 2.5px,#0ff 3.5px,#0ff 4.5px,#0ff 5.5px,#0ff 6.5px,#0ff 7.5px,#0ff 8.5px,#0ff 9.5px,#0ff 10.5px,#0ff 11.5px,#0ff 12.5px,#0ff 13.5px,#0ff 14.5px,#0ff 15.5px,#0ff 16.5px,#0ff 17.5px,#0ff 18.5px,#0ff 19.5px,#0ff 20.5px,#0ff 21.5px,#0ff 22.5px,#0ff 23.5px,#0ff 24.5px,#0ff 25.5px,#0ff 26.5px,#0ff 27.5px,#0ff 28.5px,#0ff 29.5px,#0ff 30.5px,#0ff 31.5px,#0ff 32.5px,#0ff 33.5px,#0ff 34.5px,#0ff 35.5px,#0ff 36.5px,#0ff 37.5px,#0ff 38.5px,#0ff 39.5px,#0ff 40.5px,#0ff 41.5px,#0ff 42.5px,#0ff 43.5px,#0ff 44.5px,#0ff 45.5px,#0ff 46.5px,#0ff 47.5px,#0ff 48.5px,#0ff 49.5px,#0ff 50.5px,#0ff 51.5px,#0ff 52.5px,#0ff 53.5px,#0ff 54.5px,#0ff 55.5px,#0ff 56.5px,#0ff 57.5px,#0ff 58.5px,#0ff 59.5px,#0ff 60.5px,#0ff 61.5px,#5a90ff 62.5px,#5a90ff 63.5px,#0ff 64.5px,#0ff 65.5px,#0ff 66.5px,#0ff 67.5px,#0ff 68.5px,#3aa0ff 69.5px,#3aa0ff 70.5px,#0ff 71.5px,#8a80ff 72.5px,#8a80ff 73.5px,#0ff 74.5px,#4aa8ff 75.5px,#4aa8ff 76.5px,#0ff 77.5px,#4aa8ff 78.5px,#4aa8ff 79.5px,#0ff 80.5px,#0ff 81.5px,#0ff 82.5px,#0ff 83.5px,#20b0f0 84.5px,#20b0f0 85.5px,#20b0f0 86.5px,#20b0f0 87.5px,#0ff 88.5px,#0ff 89.5px,#0ff 90.5px,#0ff 91.5px,#0ff 92.5px,#0ff 93.5px,#5a90ff 94.5px,#5a90ff 95.5px,#20b0f0 96.5px,#20b0f0 97.5px,#0ff 98.5px,#5a90ff 99.5px,#0ff 100.5px,#0ff 101.5px,#0ff 102.5px,#0ff 103.5px,#0ff 104.5px,#5a90ff 105.5px,#5a90ff 106.5px,#0ff 107.5px,#0ff 108.5px,#8a80ff 109.5px,#8a80ff 110.5px,#0ff 111.5px,#3aa0ff 112.5px,#3aa0ff 113.5px,#3aa0ff 114.5px,#0ff 115.5px,#5a90ff 116.5px,#5a90ff 117.5px,#0ff 118.5px,#0ff 119.5px,#4aa8ff 120.5px,#5a90ff 121.5px,#5a90ff 122.5px,#0ff 123.5px,#0ff 124.5px,#20b0f0 125.5px,#0ff 126.5px,#4aa8ff 127.5px,#4aa8ff 128.5px,#0ff 129.5px,#4aa8ff 130.5px,#4aa8ff 131.5px,#0ff 132.5px,#0ff 133.5px,#0ff 134.5px,#8a80ff 135.5px,#0ff 136.5px,#5a90ff 137.5px,#0ff 138.5px,#0ff 139.5px,#20b0f0 140.5px,#20b0f0 141.5px,#0ff 142.5px,#0ff 143.5px,#0ff 144.5px,#5a90ff 145.5px,#5a90ff 146.5px,#0ff 147.5px,#3aa0ff 148.5px,#3aa0ff 149.5px,#8a80ff 150.5px,#0ff 151.5px,#0ff 152.5px,#0ff 153.5px,#0ff 154.5px,#0ff 155.5px,#8a80ff 156.5px,#0ff 157.5px,#3aa0ff 158.5px,#4aa8ff 159.5px,#4aa8ff 160.5px,#0ff 161.5px,#0ff 162.5px,#0ff 163.5px,#0ff 164.5px,#0ff 165.5px,#0ff 166.5px,#0ff 167.5px,#0ff 168.5px,#0ff 169.5px,#0ff 170.5px,#0ff 171.5px,#0ff 172.5px,#0ff 173.5px,#0ff 174.5px,#0ff 175.5px,#0ff 176.5px,#3aa0ff 177.5px,#0ff 178.5px,#0ff 179.5px,#0ff 180.5px,#0ff 181.5px,#0ff 182.5px,#0ff 183.5px,#0ff 184.5px,#0ff 185.5px,#0ff 186.5px,#0ff 187.5px,#0ff 188.5px,#0ff 189.5px,#0ff 190.5px,#0ff 191.5px,#0ff 192.5px,#0ff 193.5px,#3aa0ff 194.5px,#3aa0ff 195.5px,#0ff 196.5px,#3aa0ff 197.5px,#3aa0ff 198.5px,#0ff 199.5px,#4aa8ff 200.5px,#4aa8ff 201.5px,#0ff 202.5px,#8a80ff 203.5px,#8a80ff 204.5px,#0ff 205.5px,#0ff 206.5px,#0ff 207.5px,#0ff 208.5px,#0ff 209.5px,#0ff 210.5px,#0ff 211.5px,#0ff 212.5px,#0ff 213.5px,#5a90ff 214.5px,#5a90ff 215.5px,#0ff 216.5px,#8a80ff 217.5px,#8a80ff 218.5px,#0ff 219.5px,#0ff 220.5px,#0ff 221.5px,#0ff 222.5px,#0ff 223.5px,#0ff 224.5px,#0ff 225.5px,#0ff 226.5px,#0ff 227.5px,#3aa0ff 228.5px,#0ff 229.5px,#0ff 230.5px,#0ff 231.5px,#0ff 232.5px,#0ff 233.5px,#0ff 234.5px,#0ff 235.5px,#0ff 236.5px,#0ff 237.5px,#0ff 238.5px,#0ff 239.5px,#0ff 240.5px,#0ff 241.5px,#0ff 242.5px,#4aa8ff 243.5px,#4aa8ff 244.5px,#0ff 245.5px,#0ff 246.5px,#0ff 247.5px,#0ff 248.5px,#0ff 249.5px,#0ff 250.5px,#0ff 251.5px,#0ff 252.5px,#0ff 253.5px,#3aa0ff 254.5px,#3aa0ff 255.5px,#0ff 256.5px,#8a80ff 257.5px,#8a80ff 258.5px,#0ff 259.5px)"></div>
<svg width="785" height="353" viewBox="0 0 785 353">
<line x1="47.2" x2="305.0" y1="38.42" y2="38.42" stroke="#400" stroke-opacity=".32" stroke-width="1.4"/><line x1="47.2" x2="305.0" y1="45.53" y2="45.53" stroke="#400" stroke-opacity=".32" stroke-width="1.4"/><line x1="47.2" x2="305.0" y1="52.65" y2="52.65" stroke="#400" stroke-opacity=".32" stroke-width="1.4"/><line x1="47.2" x2="305.0" y1="59.76" y2="59.76" stroke="#400" stroke-opacity=".32" stroke-width="1.4"/><line x1="47.2" x2="305.0" y1="66.88" y2="66.88" stroke="#400" stroke-opacity=".32" stroke-width="1.4"/><line x1="47.2" x2="305.0" y1="73.99" y2="73.99" stroke="#400" stroke-opacity=".32" stroke-width="1.4"/><line x1="47.2" x2="305.0" y1="81.11" y2="81.11" stroke="#400" stroke-opacity=".32" stroke-width="1.4"/><line x1="47.2" x2="305.0" y1="88.22" y2="88.22" stroke="#400" stroke-opacity=".32" stroke-width="1.4"/><line x1="47.2" x2="305.0" y1="95.34" y2="95.34" stroke="#400" stroke-opacity=".32" stroke-width="1.4"/><line x1="47.2" x2="305.0" y1="102.46" y2="102.46" stroke="#400" stroke-opacity=".32" stroke-width="1.4"/><line x1="47.2" x2="305.0" y1="109.57" y2="109.57" stroke="#400" stroke-opacity=".32" stroke-width="1.4"/><line x1="47.2" x2="305.0" y1="116.69" y2="116.69" stroke="#400" stroke-opacity=".32" stroke-width="1.4"/><line x1="47.2" x2="305.0" y1="123.80" y2="123.80" stroke="#400" stroke-opacity=".32" stroke-width="1.4"/><line x1="47.2" x2="305.0" y1="130.92" y2="130.92" stroke="#400" stroke-opacity=".32" stroke-width="1.4"/><line x1="47.2" x2="305.0" y1="138.03" y2="138.03" stroke="#400" stroke-opacity=".32" stroke-width="1.4"/><line x1="47.2" x2="305.0" y1="145.15" y2="145.15" stroke="#400" stroke-opacity=".32" stroke-width="1.4"/><line x1="47.2" x2="305.0" y1="152.27" y2="152.27" stroke="#400" stroke-opacity=".32" stroke-width="1.4"/><line x1="47.2" x2="305.0" y1="159.38" y2="159.38" stroke="#400" stroke-opacity=".32" stroke-width="1.4"/><line x1="47.2" x2="305.0" y1="166.50" y2="166.50" stroke="#400" stroke-opacity=".32" stroke-width="1.4"/><line x1="47.2" x2="305.0" y1="173.61" y2="173.61" stroke="#400" stroke-opacity=".32" stroke-width="1.4"/><line x1="47.2" x2="305.0" y1="180.73" y2="180.73" stroke="#400" stroke-opacity=".32" stroke-width="1.4"/><line x1="47.2" x2="305.0" y1="187.84" y2="187.84" stroke="#400" stroke-opacity=".32" stroke-width="1.4"/><line x1="47.2" x2="305.0" y1="194.96" y2="194.96" stroke="#400" stroke-opacity=".32" stroke-width="1.4"/><line x1="47.2" x2="305.0" y1="202.07" y2="202.07" stroke="#400" stroke-opacity=".32" stroke-width="1.4"/><line x1="47.2" x2="305.0" y1="209.19" y2="209.19" stroke="#400" stroke-opacity=".32" stroke-width="1.4"/><line x1="47.2" x2="305.0" y1="216.31" y2="216.31" stroke="#400" stroke-opacity=".32" stroke-width="1.4"/><line x1="47.2" x2="305.0" y1="223.42" y2="223.42" stroke="#400" stroke-opacity=".32" stroke-width="1.4"/><line x1="47.2" x2="305.0" y1="230.54" y2="230.54" stroke="#400" stroke-opacity=".32" stroke-width="1.4"/><line x1="47.2" x2="305.0" y1="237.65" y2="237.65" stroke="#400" stroke-opacity=".32" stroke-width="1.4"/><line x1="47.2" x2="305.0" y1="244.77" y2="244.77" stroke="#400" stroke-opacity=".32" stroke-width="1.4"/><line x1="47.2" x2="305.0" y1="251.88" y2="251.88" stroke="#400" stroke-opacity=".32" stroke-width="1.4"/><rect x="47.2" y="31.3" width="257.80" height="227.70" fill="none" stroke="#333" stroke-width=".9"/><defs><linearGradient id="hsv" x1="0" y1="1" x2="0" y2="0"><stop offset="0.0000" stop-color="#ff0000"/><stop offset="0.1667" stop-color="#ffff00"/><stop offset="0.3333" stop-color="#00ff00"/><stop offset="0.5000" stop-color="#00ffff"/><stop offset="0.6667" stop-color="#0000ff"/><stop offset="0.8333" stop-color="#ff00ff"/><stop offset="1.0000" stop-color="#ff0000"/></linearGradient></defs><rect x="311.4" y="31.5" width="14.6" height="227.5" fill="url(#hsv)" stroke="#333" stroke-width=".9"/><line x1="455.3" x2="455.3" y1="90.52" y2="97.74" stroke="#1080d8" stroke-opacity=".85" stroke-width="1.5"/><line x1="631.1" x2="631.1" y1="90.52" y2="97.74" stroke="#1080d8" stroke-opacity=".85" stroke-width="1.5"/><line x1="466.3" x2="466.3" y1="119.39" y2="126.60" stroke="#1080d8" stroke-opacity=".85" stroke-width="1.5"/><line x1="470.1" x2="470.1" y1="119.39" y2="126.60" stroke="#1080d8" stroke-opacity=".85" stroke-width="1.5"/><line x1="550.9" x2="550.9" y1="119.39" y2="126.60" stroke="#1080d8" stroke-opacity=".85" stroke-width="1.5"/><line x1="633.8" x2="633.8" y1="119.39" y2="126.60" stroke="#1080d8" stroke-opacity=".85" stroke-width="1.5"/><line x1="473.1" x2="473.1" y1="126.60" y2="133.82" stroke="#1080d8" stroke-opacity=".85" stroke-width="1.5"/><line x1="542.8" x2="542.8" y1="126.60" y2="133.82" stroke="#1080d8" stroke-opacity=".85" stroke-width="1.5"/><line x1="470.9" x2="470.9" y1="133.82" y2="141.03" stroke="#1080d8" stroke-opacity=".85" stroke-width="1.5"/><line x1="507.3" x2="507.3" y1="133.82" y2="141.03" stroke="#1080d8" stroke-opacity=".85" stroke-width="1.5"/><line x1="635.1" x2="635.1" y1="133.82" y2="141.03" stroke="#1080d8" stroke-opacity=".85" stroke-width="1.5"/><line x1="637.7" x2="637.7" y1="133.82" y2="141.03" stroke="#1080d8" stroke-opacity=".85" stroke-width="1.5"/><line x1="465.8" x2="465.8" y1="141.03" y2="148.25" stroke="#1080d8" stroke-opacity=".85" stroke-width="1.5"/><line x1="523.7" x2="523.7" y1="148.25" y2="155.47" stroke="#1080d8" stroke-opacity=".85" stroke-width="1.5"/><line x1="635.1" x2="635.1" y1="148.25" y2="155.47" stroke="#1080d8" stroke-opacity=".85" stroke-width="1.5"/><line x1="554.9" x2="554.9" y1="155.47" y2="162.68" stroke="#1080d8" stroke-opacity=".85" stroke-width="1.5"/><line x1="635.1" x2="635.1" y1="155.47" y2="162.68" stroke="#1080d8" stroke-opacity=".85" stroke-width="1.5"/><line x1="677.0" x2="677.0" y1="155.47" y2="162.68" stroke="#1080d8" stroke-opacity=".85" stroke-width="1.5"/><line x1="542.8" x2="542.8" y1="162.68" y2="169.90" stroke="#1080d8" stroke-opacity=".85" stroke-width="1.5"/><line x1="635.5" x2="635.5" y1="169.90" y2="177.11" stroke="#1080d8" stroke-opacity=".85" stroke-width="1.5"/><line x1="683.8" x2="683.8" y1="169.90" y2="177.11" stroke="#1080d8" stroke-opacity=".85" stroke-width="1.5"/><line x1="453.9" x2="453.9" y1="198.76" y2="205.97" stroke="#1080d8" stroke-opacity=".85" stroke-width="1.5"/><line x1="627.5" x2="627.5" y1="198.76" y2="205.97" stroke="#1080d8" stroke-opacity=".85" stroke-width="1.5"/><line x1="650.8" x2="650.8" y1="198.76" y2="205.97" stroke="#1080d8" stroke-opacity=".85" stroke-width="1.5"/><line x1="479.0" x2="479.0" y1="205.97" y2="213.19" stroke="#1080d8" stroke-opacity=".85" stroke-width="1.5"/><line x1="650.8" x2="650.8" y1="205.97" y2="213.19" stroke="#1080d8" stroke-opacity=".85" stroke-width="1.5"/><line x1="589.5" x2="589.5" y1="234.84" y2="242.05" stroke="#1080d8" stroke-opacity=".85" stroke-width="1.5"/><line x1="597.3" x2="597.3" y1="234.84" y2="242.05" stroke="#1080d8" stroke-opacity=".85" stroke-width="1.5"/><line x1="631.5" x2="631.5" y1="234.84" y2="242.05" stroke="#1080d8" stroke-opacity=".85" stroke-width="1.5"/><line x1="635.1" x2="635.1" y1="234.84" y2="242.05" stroke="#1080d8" stroke-opacity=".85" stroke-width="1.5"/><line x1="465.0" x2="465.0" y1="242.05" y2="249.27" stroke="#1080d8" stroke-opacity=".85" stroke-width="1.5"/><line x1="451.0" x2="451.0" y1="249.27" y2="256.48" stroke="#1080d8" stroke-opacity=".85" stroke-width="1.5"/><line x1="465.7" x2="465.7" y1="249.27" y2="256.48" stroke="#1080d8" stroke-opacity=".85" stroke-width="1.5"/><line x1="449.0" x2="709.5" y1="40.02" y2="40.02" stroke="#006570" stroke-opacity=".85" stroke-width="1.3"/><line x1="449.0" x2="709.5" y1="47.23" y2="47.23" stroke="#006570" stroke-opacity=".85" stroke-width="1.3"/><line x1="449.0" x2="709.5" y1="54.45" y2="54.45" stroke="#006570" stroke-opacity=".85" stroke-width="1.3"/><line x1="449.0" x2="709.5" y1="61.66" y2="61.66" stroke="#006570" stroke-opacity=".85" stroke-width="1.3"/><line x1="449.0" x2="709.5" y1="68.88" y2="68.88" stroke="#006570" stroke-opacity=".85" stroke-width="1.3"/><line x1="449.0" x2="709.5" y1="76.09" y2="76.09" stroke="#006570" stroke-opacity=".85" stroke-width="1.3"/><line x1="449.0" x2="709.5" y1="83.31" y2="83.31" stroke="#006570" stroke-opacity=".85" stroke-width="1.3"/><line x1="449.0" x2="709.5" y1="90.52" y2="90.52" stroke="#006570" stroke-opacity=".85" stroke-width="1.3"/><line x1="449.0" x2="709.5" y1="97.74" y2="97.74" stroke="#006570" stroke-opacity=".85" stroke-width="1.3"/><line x1="449.0" x2="709.5" y1="104.96" y2="104.96" stroke="#006570" stroke-opacity=".85" stroke-width="1.3"/><line x1="449.0" x2="709.5" y1="112.17" y2="112.17" stroke="#006570" stroke-opacity=".85" stroke-width="1.3"/><line x1="449.0" x2="709.5" y1="119.39" y2="119.39" stroke="#006570" stroke-opacity=".85" stroke-width="1.3"/><line x1="449.0" x2="709.5" y1="126.60" y2="126.60" stroke="#006570" stroke-opacity=".85" stroke-width="1.3"/><line x1="449.0" x2="709.5" y1="133.82" y2="133.82" stroke="#006570" stroke-opacity=".85" stroke-width="1.3"/><line x1="449.0" x2="709.5" y1="141.03" y2="141.03" stroke="#006570" stroke-opacity=".85" stroke-width="1.3"/><line x1="449.0" x2="709.5" y1="148.25" y2="148.25" stroke="#006570" stroke-opacity=".85" stroke-width="1.3"/><line x1="449.0" x2="709.5" y1="155.47" y2="155.47" stroke="#006570" stroke-opacity=".85" stroke-width="1.3"/><line x1="449.0" x2="709.5" y1="162.68" y2="162.68" stroke="#006570" stroke-opacity=".85" stroke-width="1.3"/><line x1="449.0" x2="709.5" y1="169.90" y2="169.90" stroke="#006570" stroke-opacity=".85" stroke-width="1.3"/><line x1="449.0" x2="709.5" y1="177.11" y2="177.11" stroke="#006570" stroke-opacity=".85" stroke-width="1.3"/><line x1="449.0" x2="709.5" y1="184.33" y2="184.33" stroke="#006570" stroke-opacity=".85" stroke-width="1.3"/><line x1="449.0" x2="709.5" y1="191.54" y2="191.54" stroke="#006570" stroke-opacity=".85" stroke-width="1.3"/><line x1="449.0" x2="709.5" y1="198.76" y2="198.76" stroke="#006570" stroke-opacity=".85" stroke-width="1.3"/><line x1="449.0" x2="709.5" y1="205.97" y2="205.97" stroke="#006570" stroke-opacity=".85" stroke-width="1.3"/><line x1="449.0" x2="709.5" y1="213.19" y2="213.19" stroke="#006570" stroke-opacity=".85" stroke-width="1.3"/><line x1="449.0" x2="709.5" y1="220.41" y2="220.41" stroke="#006570" stroke-opacity=".85" stroke-width="1.3"/><line x1="449.0" x2="709.5" y1="227.62" y2="227.62" stroke="#006570" stroke-opacity=".85" stroke-width="1.3"/><line x1="449.0" x2="709.5" y1="234.84" y2="234.84" stroke="#006570" stroke-opacity=".85" stroke-width="1.3"/><line x1="449.0" x2="709.5" y1="242.05" y2="242.05" stroke="#006570" stroke-opacity=".85" stroke-width="1.3"/><line x1="449.0" x2="709.5" y1="249.27" y2="249.27" stroke="#006570" stroke-opacity=".85" stroke-width="1.3"/><line x1="449.0" x2="709.5" y1="256.48" y2="256.48" stroke="#006570" stroke-opacity=".85" stroke-width="1.3"/><rect x="449.0" y="32.8" width="260.50" height="230.90" fill="none" stroke="#1a3a40" stroke-width=".9"/><rect x="716.7" y="33.1" width="14.4" height="114.75" fill="#f0f"/><rect x="716.7" y="147.85" width="14.4" height="114.75" fill="#0ff"/><line x1="716.7" x2="731.1" y1="148.05" y2="148.05" stroke="#2a4a60" stroke-width="1"/><rect x="716.7" y="33.1" width="14.4" height="229.5" fill="none" stroke="#1a4048" stroke-width="1"/>
<text x="43.30" y="262.20" font-size="8.9" fill="#666" text-anchor="end" textLength="4.75" lengthAdjust="spacingAndGlyphs">0</text><text x="43.30" y="226.62" font-size="8.9" fill="#666" text-anchor="end" textLength="4.75" lengthAdjust="spacingAndGlyphs">5</text><text x="43.30" y="191.04" font-size="8.9" fill="#666" text-anchor="end" textLength="9.50" lengthAdjust="spacingAndGlyphs">10</text><text x="43.30" y="155.47" font-size="8.9" fill="#666" text-anchor="end" textLength="9.50" lengthAdjust="spacingAndGlyphs">15</text><text x="43.30" y="119.89" font-size="8.9" fill="#666" text-anchor="end" textLength="9.50" lengthAdjust="spacingAndGlyphs">20</text><text x="43.30" y="84.31" font-size="8.9" fill="#666" text-anchor="end" textLength="9.50" lengthAdjust="spacingAndGlyphs">25</text><text x="43.30" y="48.73" font-size="8.9" fill="#666" text-anchor="end" textLength="9.50" lengthAdjust="spacingAndGlyphs">30</text><text x="46.80" y="272.40" font-size="8.6" fill="#666" text-anchor="middle" >0</text><text x="85.60" y="272.40" font-size="8.6" fill="#666" text-anchor="middle" >1000</text><text x="124.40" y="272.40" font-size="8.6" fill="#666" text-anchor="middle" >2000</text><text x="163.20" y="272.40" font-size="8.6" fill="#666" text-anchor="middle" >3000</text><text x="202.00" y="272.40" font-size="8.6" fill="#666" text-anchor="middle" >4000</text><text x="240.80" y="272.40" font-size="8.6" fill="#666" text-anchor="middle" >5000</text><text x="279.60" y="272.40" font-size="8.6" fill="#666" text-anchor="middle" >6000</text><text x="329.30" y="261.90" font-size="8.1" fill="#666" >0</text><text x="329.30" y="186.07" font-size="8.1" fill="#666" >0.05</text><text x="329.30" y="110.23" font-size="8.1" fill="#666" >0.1</text><text x="329.30" y="34.40" font-size="8.1" fill="#666" >0.15</text><text x="444.80" y="267.60" font-size="8.9" fill="#666" text-anchor="end" textLength="4.75" lengthAdjust="spacingAndGlyphs">0</text><text x="444.80" y="231.52" font-size="8.9" fill="#666" text-anchor="end" textLength="4.75" lengthAdjust="spacingAndGlyphs">5</text><text x="444.80" y="195.44" font-size="8.9" fill="#666" text-anchor="end" textLength="9.50" lengthAdjust="spacingAndGlyphs">10</text><text x="444.80" y="159.37" font-size="8.9" fill="#666" text-anchor="end" textLength="9.50" lengthAdjust="spacingAndGlyphs">15</text><text x="444.80" y="123.29" font-size="8.9" fill="#666" text-anchor="end" textLength="9.50" lengthAdjust="spacingAndGlyphs">20</text><text x="444.80" y="87.21" font-size="8.9" fill="#666" text-anchor="end" textLength="9.50" lengthAdjust="spacingAndGlyphs">25</text><text x="444.80" y="51.13" font-size="8.9" fill="#666" text-anchor="end" textLength="9.50" lengthAdjust="spacingAndGlyphs">30</text><text x="448.30" y="276.70" font-size="8.7" fill="#666" text-anchor="middle" >0</text><text x="487.60" y="276.70" font-size="8.7" fill="#666" text-anchor="middle" >1000</text><text x="526.90" y="276.70" font-size="8.7" fill="#666" text-anchor="middle" >2000</text><text x="566.20" y="276.70" font-size="8.7" fill="#666" text-anchor="middle" >3000</text><text x="605.50" y="276.70" font-size="8.7" fill="#666" text-anchor="middle" >4000</text><text x="644.80" y="276.70" font-size="8.7" fill="#666" text-anchor="middle" >5000</text><text x="684.10" y="276.70" font-size="8.7" fill="#666" text-anchor="middle" >6000</text><text x="734.70" y="265.50" font-size="8.1" fill="#666" >0</text><text x="734.70" y="236.81" font-size="8.1" fill="#666" >0.005</text><text x="734.70" y="208.13" font-size="8.1" fill="#666" >0.01</text><text x="734.70" y="179.44" font-size="8.1" fill="#666" >0.015</text><text x="734.70" y="150.75" font-size="8.1" fill="#666" >0.02</text><text x="734.70" y="122.06" font-size="8.1" fill="#666" >0.025</text><text x="734.70" y="93.38" font-size="8.1" fill="#666" >0.03</text><text x="734.70" y="64.69" font-size="8.1" fill="#666" >0.035</text><text x="734.70" y="36.00" font-size="8.1" fill="#666" >0.04</text><text x="38.70" y="20.80" font-size="12.4" fill="#000" font-weight="bold" textLength="277.3" lengthAdjust="spacingAndGlyphs">Wavelet Packet Spectrogram of Normal Signal</text><text x="516.70" y="16.50" font-size="12.4" fill="#000" font-weight="bold" textLength="151.8" lengthAdjust="spacingAndGlyphs">Normal Data - Reference</text><text x="164.30" y="288.30" font-size="12.0" fill="#000" font-weight="bold" textLength="50.6" lengthAdjust="spacingAndGlyphs">Samples</text><text x="567.00" y="293.30" font-size="12.4" fill="#000" font-weight="bold" textLength="52.4" lengthAdjust="spacingAndGlyphs">Samples</text><text transform="translate(19.70,197.70) rotate(-90)" font-size="12.4" font-weight="bold" textLength="98.2" lengthAdjust="spacingAndGlyphs">Frequency Level</text><text transform="translate(420.80,206.30) rotate(-90)" font-size="12.6" font-weight="bold" textLength="103.1" lengthAdjust="spacingAndGlyphs">Frequency Level</text><text transform="translate(774.60,139.00) rotate(-90)" font-size="12.4" font-weight="bold" textLength="89.0" lengthAdjust="spacingAndGlyphs">High Value SS</text><text transform="translate(776.50,253.20) rotate(-90)" font-size="12.4" font-weight="bold" textLength="83.0" lengthAdjust="spacingAndGlyphs">Low value SS</text><text transform="translate(349.60,72.40) rotate(90)" font-size="12.8" font-weight="bold" textLength="127.2" lengthAdjust="spacingAndGlyphs">Wavelet Power Level</text><text x="189.8" y="340.5" class="cap" font-size="21.5" text-anchor="middle">(<tspan font-weight="bold">a</tspan>)</text><text x="596.5" y="340.5" class="cap" font-size="21.5" text-anchor="middle">(<tspan font-weight="bold">d</tspan>)</text>
</svg>
</body></html>
